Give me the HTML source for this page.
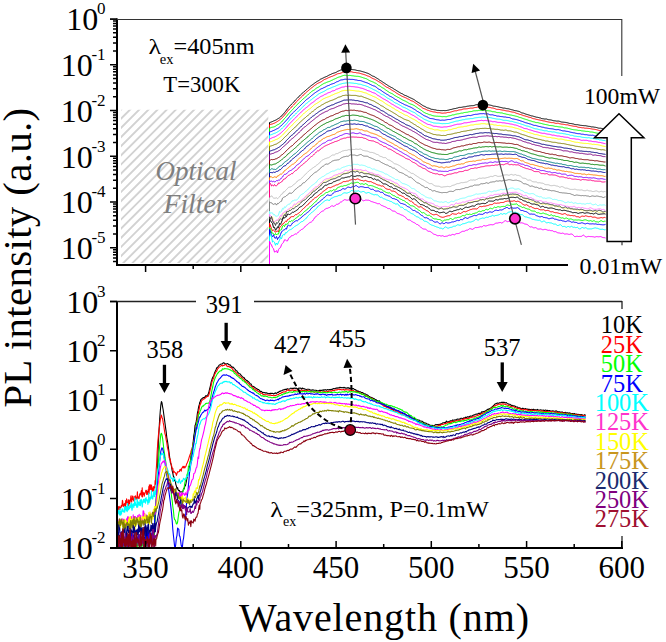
<!DOCTYPE html>
<html><head><meta charset="utf-8"><style>
html,body{margin:0;padding:0;background:#fff;}
svg{display:block;}
</style></head><body>
<svg width="666" height="642" viewBox="0 0 666 642">
<rect width="666" height="642" fill="#fff"/>
<defs>
<clipPath id="clipT"><rect x="118" y="19" width="504" height="245"/></clipPath>
<clipPath id="clipB"><rect x="118" y="301.5" width="504" height="245.5"/></clipPath>
<clipPath id="clipH"><rect x="121" y="109.7" width="147.3" height="153.3"/></clipPath>
</defs>
<path clip-path="url(#clipH)" d="M-66.9,270L103.1,100M-57.7,270L112.3,100M-48.6,270L121.4,100M-39.4,270L130.6,100M-30.3,270L139.7,100M-21.1,270L148.9,100M-11.9,270L158.1,100M-2.8,270L167.2,100M6.4,270L176.4,100M15.5,270L185.5,100M24.7,270L194.7,100M33.9,270L203.9,100M43,270L213,100M52.2,270L222.2,100M61.3,270L231.3,100M70.5,270L240.5,100M79.7,270L249.7,100M88.8,270L258.8,100M98,270L268,100M107.1,270L277.1,100M116.3,270L286.3,100M125.5,270L295.5,100M134.6,270L304.6,100M143.8,270L313.8,100M152.9,270L322.9,100M162.1,270L332.1,100M171.3,270L341.3,100M180.4,270L350.4,100M189.6,270L359.6,100M198.7,270L368.7,100M207.9,270L377.9,100M217.1,270L387.1,100M226.2,270L396.2,100M235.4,270L405.4,100M244.5,270L414.5,100M253.7,270L423.7,100M262.9,270L432.9,100M272,270L442,100M281.2,270L451.2,100M290.3,270L460.3,100" stroke="#d2d2d2" stroke-width="1.9" fill="none"/>
<g clip-path="url(#clipT)" fill="none" stroke-width="1.0" stroke-linejoin="round">
<polyline stroke="#000000" points="269.5,268 269.5,122.5 270.5,122.3 271.5,121.9 272.5,121.5 273.5,121 274.5,120.6 275.5,120.2 276.5,119.7 277.5,119 278.5,118.4 279.5,117.8 280.5,117 281.5,116 282.5,114.9 283.5,113.9 284.5,112.7 285.5,111.4 286.5,110.1 287.5,108.8 288.5,107.5 289.5,106.4 290.5,105.3 291.5,104.2 292.5,103.3 293.5,102.3 294.5,101.1 295.5,99.9 296.5,99 297.5,98.1 298.5,97.1 299.5,95.9 300.5,94.9 301.5,94 302.5,93.1 303.5,92.3 304.5,91.3 305.5,90.5 306.5,89.7 307.5,88.7 308.5,87.9 309.5,87.1 310.5,86.2 311.5,85.4 312.5,84.7 313.5,84 314.5,83.2 315.5,82.5 316.5,81.8 317.5,81.2 318.5,80.7 319.5,80 320.5,79.2 321.5,78.8 322.5,78.3 323.5,77.8 324.5,77.3 325.5,76.9 326.5,76.5 327.5,76 328.5,75.4 329.5,74.9 330.5,74.5 331.5,74 332.5,73.5 333.5,73.2 334.5,72.9 335.5,72.6 336.5,72.1 337.5,71.4 338.5,71 339.5,70.6 340.5,70.1 341.5,69.9 342.5,69.7 343.5,69.6 344.5,69.4 345.5,69.2 346.5,69.1 347.5,69.3 348.5,69.4 349.5,69.3 350.5,69.4 351.5,69.5 352.5,69.6 353.5,69.7 354.5,69.8 355.5,70 356.5,70.3 357.5,70.5 358.5,70.7 359.5,70.8 360.5,71 361.5,71.3 362.5,71.6 363.5,71.9 364.5,72.2 365.5,72.5 366.5,72.9 367.5,73.2 368.5,73.6 369.5,74.2 370.5,74.7 371.5,75.4 372.5,76 373.5,76.3 374.5,76.7 375.5,77.4 376.5,78 377.5,78.6 378.5,79.2 379.5,80 380.5,80.6 381.5,81.2 382.5,81.9 383.5,82.6 384.5,83.2 385.5,83.9 386.5,84.5 387.5,85.2 388.5,85.9 389.5,86.4 390.5,87 391.5,87.5 392.5,88 393.5,88.7 394.5,89.4 395.5,89.9 396.5,90.6 397.5,91.2 398.5,91.8 399.5,92.4 400.5,93 401.5,93.5 402.5,93.9 403.5,94.6 404.5,95.2 405.5,95.5 406.5,95.9 407.5,96.4 408.5,96.9 409.5,97.4 410.5,97.9 411.5,98.3 412.5,98.8 413.5,99.3 414.5,99.9 415.5,100.7 416.5,101.4 417.5,102 418.5,102.6 419.5,103.2 420.5,103.9 421.5,104.6 422.5,105.3 423.5,105.9 424.5,106.3 425.5,106.8 426.5,107.4 427.5,107.9 428.5,108.1 429.5,108.4 430.5,108.9 431.5,109.3 432.5,109.4 433.5,109.6 434.5,109.8 435.5,109.9 436.5,110.2 437.5,110.4 438.5,110.4 439.5,110.5 440.5,110.6 441.5,110.6 442.5,110.6 443.5,110.5 444.5,110.6 445.5,110.6 446.5,110.5 447.5,110.3 448.5,110.1 449.5,109.8 450.5,109.5 451.5,109.4 452.5,109.1 453.5,108.8 454.5,108.6 455.5,108.5 456.5,108.2 457.5,108 458.5,107.6 459.5,107.4 460.5,107.4 461.5,107.3 462.5,107.1 463.5,106.9 464.5,106.8 465.5,106.7 466.5,106.4 467.5,106.2 468.5,106.1 469.5,105.9 470.5,105.8 471.5,105.7 472.5,105.7 473.5,105.6 474.5,105.3 475.5,104.9 476.5,104.7 477.5,104.7 478.5,104.6 479.5,104.5 480.5,104.5 481.5,104.2 482.5,104.1 483.5,104.3 484.5,104.4 485.5,104.5 486.5,104.6 487.5,104.6 488.5,104.8 489.5,105 490.5,105.2 491.5,105.4 492.5,105.8 493.5,106.1 494.5,106.2 495.5,106.3 496.5,106.5 497.5,106.7 498.5,106.9 499.5,107.2 500.5,107.4 501.5,107.6 502.5,107.9 503.5,108.1 504.5,108.1 505.5,108.3 506.5,108.6 507.5,108.7 508.5,108.8 509.5,109.1 510.5,109.4 511.5,109.7 512.5,109.9 513.5,110.2 514.5,110.5 515.5,110.7 516.5,110.8 517.5,111.1 518.5,111.3 519.5,111.6 520.5,112.2 521.5,112.8 522.5,113 523.5,113.2 524.5,113.6 525.5,114 526.5,114.3 527.5,114.6 528.5,114.9 529.5,115.2 530.5,115.6 531.5,115.9 532.5,116 533.5,116.3 534.5,116.6 535.5,116.9 536.5,117.2 537.5,117.3 538.5,117.5 539.5,117.8 540.5,118 541.5,118.5 542.5,118.7 543.5,118.8 544.5,119 545.5,119 546.5,119 547.5,119.4 548.5,119.7 549.5,119.8 550.5,119.9 551.5,120.1 552.5,120.4 553.5,120.7 554.5,120.8 555.5,120.9 556.5,121.1 557.5,121.1 558.5,121.1 559.5,121.3 560.5,121.7 561.5,122 562.5,122.1 563.5,122.2 564.5,122.3 565.5,122.4 566.5,122.6 567.5,122.8 568.5,123.1 569.5,123.4 570.5,123.5 571.5,123.6 572.5,123.8 573.5,124 574.5,124.4 575.5,124.6 576.5,124.7 577.5,124.7 578.5,124.9 579.5,125.1 580.5,125.3 581.5,125.4 582.5,125.5 583.5,125.6 584.5,125.7 585.5,125.7 586.5,125.9 587.5,126.1 588.5,126.3 589.5,126.4 590.5,126.6 591.5,126.9 592.5,126.9 593.5,127 594.5,127.2 595.5,127.3 596.5,127.5 597.5,127.8 598.5,128.1 599.5,128.2 600.5,128.2 601.5,128.4 602.5,128.6 603.5,128.7 604.5,129 605.5,129.4"/>
<polyline stroke="#FF0000" points="269.5,268 269.5,124.6 270.5,124.4 271.5,124.2 272.5,123.9 273.5,123.5 274.5,123.1 275.5,122.6 276.5,122 277.5,121.4 278.5,120.7 279.5,120 280.5,119.2 281.5,118.4 282.5,117.4 283.5,116.2 284.5,115.1 285.5,113.9 286.5,112.7 287.5,111.3 288.5,110.1 289.5,109.1 290.5,108.2 291.5,107.1 292.5,105.9 293.5,105 294.5,104 295.5,102.8 296.5,101.7 297.5,100.8 298.5,99.8 299.5,98.7 300.5,97.7 301.5,96.9 302.5,96 303.5,95 304.5,93.9 305.5,92.9 306.5,92.1 307.5,91.3 308.5,90.5 309.5,89.7 310.5,88.7 311.5,87.9 312.5,87.2 313.5,86.4 314.5,85.6 315.5,84.9 316.5,84.2 317.5,83.5 318.5,83 319.5,82.6 320.5,82.1 321.5,81.6 322.5,80.8 323.5,80.1 324.5,79.5 325.5,79.1 326.5,78.7 327.5,78.2 328.5,77.7 329.5,77.3 330.5,76.9 331.5,76.5 332.5,76.2 333.5,75.7 334.5,75.3 335.5,74.8 336.5,74.3 337.5,73.8 338.5,73.6 339.5,73.5 340.5,73.2 341.5,72.8 342.5,72.3 343.5,72 344.5,71.9 345.5,71.8 346.5,71.7 347.5,71.7 348.5,71.7 349.5,71.8 350.5,71.8 351.5,71.8 352.5,72.1 353.5,72.4 354.5,72.5 355.5,72.5 356.5,72.8 357.5,72.9 358.5,73 359.5,73.2 360.5,73.5 361.5,73.8 362.5,74.1 363.5,74.4 364.5,74.7 365.5,75 366.5,75.5 367.5,75.9 368.5,76.2 369.5,76.6 370.5,77.2 371.5,77.8 372.5,78.4 373.5,78.8 374.5,79.2 375.5,79.7 376.5,80.3 377.5,80.9 378.5,81.6 379.5,82.1 380.5,82.7 381.5,83.4 382.5,84.1 383.5,84.9 384.5,85.7 385.5,86.4 386.5,87.1 387.5,87.5 388.5,88 389.5,88.6 390.5,89.2 391.5,89.9 392.5,90.6 393.5,91.1 394.5,91.6 395.5,92.4 396.5,93.1 397.5,93.7 398.5,94.3 399.5,94.8 400.5,95.4 401.5,96 402.5,96.5 403.5,96.9 404.5,97.3 405.5,97.7 406.5,98.2 407.5,98.8 408.5,99.2 409.5,99.7 410.5,100.4 411.5,100.8 412.5,101.1 413.5,101.6 414.5,102.3 415.5,103 416.5,103.6 417.5,104.3 418.5,105 419.5,105.7 420.5,106.3 421.5,107 422.5,107.9 423.5,108.5 424.5,108.8 425.5,109.2 426.5,109.7 427.5,110.2 428.5,110.4 429.5,110.8 430.5,111.2 431.5,111.4 432.5,111.7 433.5,111.9 434.5,112 435.5,112.2 436.5,112.5 437.5,112.7 438.5,112.7 439.5,112.7 440.5,112.9 441.5,113.1 442.5,113.2 443.5,113.1 444.5,113 445.5,113 446.5,112.8 447.5,112.5 448.5,112.4 449.5,112.4 450.5,112.1 451.5,111.8 452.5,111.5 453.5,111.2 454.5,110.9 455.5,110.8 456.5,110.8 457.5,110.5 458.5,110.1 459.5,109.9 460.5,109.8 461.5,109.7 462.5,109.3 463.5,109 464.5,108.9 465.5,108.9 466.5,108.8 467.5,108.7 468.5,108.5 469.5,108.3 470.5,108.1 471.5,108.1 472.5,108.1 473.5,107.9 474.5,107.6 475.5,107.5 476.5,107.4 477.5,107.1 478.5,107 479.5,107 480.5,106.9 481.5,106.8 482.5,106.7 483.5,106.7 484.5,106.8 485.5,106.8 486.5,106.9 487.5,107.1 488.5,107.3 489.5,107.4 490.5,107.6 491.5,107.9 492.5,108 493.5,108.2 494.5,108.5 495.5,108.9 496.5,109.3 497.5,109.4 498.5,109.4 499.5,109.5 500.5,109.7 501.5,109.9 502.5,110.1 503.5,110.2 504.5,110.4 505.5,110.7 506.5,110.9 507.5,111 508.5,111.1 509.5,111.4 510.5,111.7 511.5,111.9 512.5,112.1 513.5,112.2 514.5,112.4 515.5,112.9 516.5,113.3 517.5,113.6 518.5,113.9 519.5,114.3 520.5,114.5 521.5,114.8 522.5,115.2 523.5,115.6 524.5,115.8 525.5,116.1 526.5,116.4 527.5,116.7 528.5,117.1 529.5,117.3 530.5,117.5 531.5,117.9 532.5,118.4 533.5,118.7 534.5,118.8 535.5,119.1 536.5,119.4 537.5,119.6 538.5,119.8 539.5,120 540.5,120.2 541.5,120.4 542.5,120.7 543.5,120.9 544.5,121 545.5,121.3 546.5,121.6 547.5,121.8 548.5,122 549.5,122.2 550.5,122.4 551.5,122.6 552.5,122.6 553.5,122.7 554.5,123 555.5,123.3 556.5,123.4 557.5,123.2 558.5,123.3 559.5,123.7 560.5,123.9 561.5,124.1 562.5,124.2 563.5,124.3 564.5,124.5 565.5,124.7 566.5,124.8 567.5,124.8 568.5,125.1 569.5,125.4 570.5,125.6 571.5,125.8 572.5,126 573.5,126.2 574.5,126.3 575.5,126.4 576.5,126.6 577.5,127 578.5,127.3 579.5,127.4 580.5,127.5 581.5,127.7 582.5,127.8 583.5,127.8 584.5,128.1 585.5,128.2 586.5,128.2 587.5,128.3 588.5,128.4 589.5,128.5 590.5,128.7 591.5,128.9 592.5,129.1 593.5,129.2 594.5,129.3 595.5,129.5 596.5,129.7 597.5,130 598.5,130.3 599.5,130.5 600.5,130.7 601.5,130.8 602.5,130.8 603.5,131 604.5,131.3 605.5,131.5"/>
<polyline stroke="#00FF00" points="269.5,268 269.5,128.2 270.5,127.8 271.5,127.4 272.5,127.2 273.5,127 274.5,126.7 275.5,126.2 276.5,125.4 277.5,124.8 278.5,124.4 279.5,123.7 280.5,122.9 281.5,122.1 282.5,120.9 283.5,119.7 284.5,118.5 285.5,117.5 286.5,116.3 287.5,115 288.5,113.8 289.5,112.8 290.5,111.7 291.5,110.6 292.5,109.6 293.5,108.5 294.5,107.3 295.5,106.4 296.5,105.4 297.5,104.3 298.5,103.2 299.5,102.3 300.5,101.6 301.5,100.5 302.5,99.5 303.5,98.7 304.5,97.7 305.5,96.9 306.5,96.1 307.5,95.2 308.5,94.2 309.5,93.3 310.5,92.6 311.5,91.6 312.5,90.9 313.5,90.4 314.5,89.8 315.5,88.9 316.5,88.1 317.5,87.6 318.5,87.1 319.5,86.4 320.5,85.6 321.5,84.9 322.5,84.3 323.5,83.7 324.5,83.2 325.5,82.9 326.5,82.4 327.5,82 328.5,81.7 329.5,81.4 330.5,80.9 331.5,80.4 332.5,80 333.5,79.4 334.5,79 335.5,78.6 336.5,78.1 337.5,77.6 338.5,77.2 339.5,76.9 340.5,76.7 341.5,76.2 342.5,75.8 343.5,75.5 344.5,75.3 345.5,75.3 346.5,75.6 347.5,75.7 348.5,75.5 349.5,75.4 350.5,75.5 351.5,75.7 352.5,75.8 353.5,75.9 354.5,76.1 355.5,76.2 356.5,76.3 357.5,76.3 358.5,76.4 359.5,76.6 360.5,76.9 361.5,77.2 362.5,77.5 363.5,77.9 364.5,78.2 365.5,78.5 366.5,78.8 367.5,79.4 368.5,80 369.5,80.6 370.5,81 371.5,81.4 372.5,81.8 373.5,82.2 374.5,82.8 375.5,83.2 376.5,83.7 377.5,84.7 378.5,85.4 379.5,85.8 380.5,86.4 381.5,87.2 382.5,87.8 383.5,88.3 384.5,89 385.5,89.8 386.5,90.5 387.5,91.2 388.5,91.8 389.5,92.5 390.5,93 391.5,93.4 392.5,93.9 393.5,94.6 394.5,95.4 395.5,95.9 396.5,96.5 397.5,97.1 398.5,97.5 399.5,98.1 400.5,98.7 401.5,99.3 402.5,99.9 403.5,100.4 404.5,100.8 405.5,101.2 406.5,101.8 407.5,102.3 408.5,103 409.5,103.6 410.5,104 411.5,104.3 412.5,104.7 413.5,105.2 414.5,105.7 415.5,106.4 416.5,107.1 417.5,107.8 418.5,108.5 419.5,109.2 420.5,109.8 421.5,110.5 422.5,111.3 423.5,112 424.5,112.6 425.5,113.1 426.5,113.5 427.5,113.8 428.5,114.3 429.5,114.7 430.5,114.8 431.5,115.2 432.5,115.6 433.5,115.8 434.5,116 435.5,116.1 436.5,116.2 437.5,116.2 438.5,116.3 439.5,116.3 440.5,116.4 441.5,116.6 442.5,116.7 443.5,116.6 444.5,116.6 445.5,116.7 446.5,116.7 447.5,116.3 448.5,116 449.5,115.8 450.5,115.6 451.5,115.3 452.5,114.9 453.5,114.9 454.5,114.7 455.5,114.3 456.5,114.1 457.5,113.9 458.5,113.8 459.5,113.6 460.5,113.3 461.5,113.1 462.5,113.1 463.5,112.8 464.5,112.5 465.5,112.4 466.5,112.3 467.5,112.2 468.5,111.9 469.5,111.7 470.5,111.6 471.5,111.5 472.5,111.2 473.5,110.9 474.5,110.8 475.5,110.8 476.5,110.7 477.5,110.7 478.5,110.4 479.5,110.3 480.5,110.4 481.5,110.4 482.5,110.4 483.5,110.3 484.5,110.2 485.5,110.3 486.5,110.6 487.5,110.7 488.5,110.8 489.5,110.9 490.5,111 491.5,111.3 492.5,111.7 493.5,111.7 494.5,111.8 495.5,112 496.5,112.4 497.5,112.6 498.5,112.6 499.5,112.7 500.5,112.9 501.5,112.9 502.5,113.1 503.5,113.5 504.5,113.7 505.5,113.9 506.5,114.2 507.5,114.4 508.5,114.6 509.5,114.9 510.5,115 511.5,115.1 512.5,115.4 513.5,115.6 514.5,115.8 515.5,116.1 516.5,116.3 517.5,116.6 518.5,117 519.5,117.4 520.5,117.6 521.5,117.9 522.5,118.3 523.5,118.7 524.5,119 525.5,119.3 526.5,119.6 527.5,119.9 528.5,120.3 529.5,120.7 530.5,120.9 531.5,121.2 532.5,121.6 533.5,121.8 534.5,122 535.5,122.4 536.5,122.6 537.5,122.6 538.5,122.8 539.5,123.1 540.5,123.3 541.5,123.5 542.5,123.8 543.5,124.1 544.5,124.3 545.5,124.5 546.5,124.7 547.5,124.9 548.5,125.2 549.5,125.5 550.5,125.5 551.5,125.6 552.5,125.7 553.5,125.9 554.5,126.2 555.5,126.4 556.5,126.4 557.5,126.6 558.5,126.8 559.5,126.9 560.5,127 561.5,127.1 562.5,127.2 563.5,127.6 564.5,127.9 565.5,127.9 566.5,128 567.5,128.2 568.5,128.5 569.5,128.7 570.5,129 571.5,129.3 572.5,129.5 573.5,129.7 574.5,129.8 575.5,129.9 576.5,130 577.5,130.2 578.5,130.4 579.5,130.4 580.5,130.5 581.5,130.8 582.5,130.9 583.5,131 584.5,131.1 585.5,131.3 586.5,131.4 587.5,131.4 588.5,131.5 589.5,131.8 590.5,132 591.5,132 592.5,132.1 593.5,132.3 594.5,132.6 595.5,132.8 596.5,133 597.5,133.2 598.5,133.4 599.5,133.5 600.5,133.6 601.5,133.6 602.5,133.7 603.5,134 604.5,134.3 605.5,134.6"/>
<polyline stroke="#0000FF" points="269.5,268 269.5,132 270.5,131.7 271.5,131.4 272.5,130.9 273.5,130.5 274.5,130.1 275.5,129.6 276.5,129 277.5,128.6 278.5,128 279.5,127.1 280.5,126.2 281.5,125.5 282.5,124.4 283.5,123.3 284.5,122.3 285.5,121.2 286.5,120.1 287.5,119.1 288.5,117.8 289.5,116.5 290.5,115.3 291.5,114.2 292.5,113.2 293.5,112.3 294.5,111.3 295.5,110.3 296.5,109.5 297.5,108.5 298.5,107.4 299.5,106.4 300.5,105.4 301.5,104.5 302.5,103.5 303.5,102.6 304.5,101.5 305.5,100.5 306.5,99.6 307.5,98.9 308.5,98.2 309.5,97.4 310.5,96.5 311.5,95.6 312.5,94.8 313.5,94 314.5,93.2 315.5,92.5 316.5,91.8 317.5,91.2 318.5,90.6 319.5,89.9 320.5,89.2 321.5,88.7 322.5,88.4 323.5,87.8 324.5,87.4 325.5,86.9 326.5,86.3 327.5,85.8 328.5,85.5 329.5,85.1 330.5,84.5 331.5,84.1 332.5,83.8 333.5,83.5 334.5,83.1 335.5,82.5 336.5,81.9 337.5,81.6 338.5,81.2 339.5,80.6 340.5,80.1 341.5,79.9 342.5,79.8 343.5,79.6 344.5,79.3 345.5,79.2 346.5,79.3 347.5,79.3 348.5,79.3 349.5,79.3 350.5,79.4 351.5,79.4 352.5,79.4 353.5,79.5 354.5,79.7 355.5,79.9 356.5,80 357.5,80.3 358.5,80.5 359.5,80.5 360.5,80.6 361.5,80.9 362.5,81.3 363.5,81.7 364.5,82 365.5,82.4 366.5,82.7 367.5,83 368.5,83.5 369.5,84 370.5,84.5 371.5,85 372.5,85.5 373.5,85.9 374.5,86.1 375.5,86.7 376.5,87.4 377.5,88.3 378.5,89 379.5,89.5 380.5,90 381.5,90.7 382.5,91.5 383.5,92.2 384.5,92.8 385.5,93.4 386.5,94.1 387.5,94.6 388.5,95.2 389.5,96 390.5,96.5 391.5,96.9 392.5,97.5 393.5,98.2 394.5,98.9 395.5,99.5 396.5,100 397.5,100.6 398.5,101.3 399.5,101.9 400.5,102.5 401.5,103 402.5,103.5 403.5,104 404.5,104.6 405.5,105 406.5,105.3 407.5,105.8 408.5,106.3 409.5,106.7 410.5,107.1 411.5,107.6 412.5,108.2 413.5,108.8 414.5,109.4 415.5,110 416.5,110.8 417.5,111.5 418.5,112 419.5,112.6 420.5,113.2 421.5,113.9 422.5,114.6 423.5,115.3 424.5,115.8 425.5,116.2 426.5,116.7 427.5,117.1 428.5,117.7 429.5,118.2 430.5,118.5 431.5,118.6 432.5,118.7 433.5,118.9 434.5,119.2 435.5,119.5 436.5,119.7 437.5,119.8 438.5,119.9 439.5,120.1 440.5,120.3 441.5,120.2 442.5,120.1 443.5,120.2 444.5,120.2 445.5,120 446.5,119.8 447.5,119.6 448.5,119.5 449.5,119.5 450.5,119.4 451.5,119 452.5,118.7 453.5,118.4 454.5,118 455.5,117.8 456.5,117.6 457.5,117.5 458.5,117.3 459.5,117 460.5,116.9 461.5,116.7 462.5,116.5 463.5,116.4 464.5,116.3 465.5,116.1 466.5,115.9 467.5,115.6 468.5,115.4 469.5,115.5 470.5,115.6 471.5,115.3 472.5,115 473.5,114.7 474.5,114.5 475.5,114.3 476.5,114.3 477.5,114.2 478.5,114 479.5,113.8 480.5,113.7 481.5,113.7 482.5,113.7 483.5,113.6 484.5,113.8 485.5,113.9 486.5,113.9 487.5,113.8 488.5,114.1 489.5,114.6 490.5,114.8 491.5,114.8 492.5,114.8 493.5,115.1 494.5,115.4 495.5,115.5 496.5,115.9 497.5,116.1 498.5,116.1 499.5,116.3 500.5,116.5 501.5,116.6 502.5,116.7 503.5,116.9 504.5,117 505.5,117 506.5,117.3 507.5,117.4 508.5,117.5 509.5,117.6 510.5,118 511.5,118.5 512.5,118.9 513.5,119 514.5,119.2 515.5,119.4 516.5,119.6 517.5,119.9 518.5,120.2 519.5,120.5 520.5,120.9 521.5,121.2 522.5,121.5 523.5,121.9 524.5,122.3 525.5,122.7 526.5,122.9 527.5,123.2 528.5,123.5 529.5,123.8 530.5,124 531.5,124.4 532.5,124.8 533.5,125.2 534.5,125.4 535.5,125.4 536.5,125.7 537.5,126 538.5,126.3 539.5,126.5 540.5,126.7 541.5,127 542.5,127.2 543.5,127.3 544.5,127.7 545.5,127.9 546.5,128 547.5,128.2 548.5,128.4 549.5,128.6 550.5,128.7 551.5,128.8 552.5,128.9 553.5,129.1 554.5,129.4 555.5,129.6 556.5,129.7 557.5,129.6 558.5,129.6 559.5,129.9 560.5,130.1 561.5,130.5 562.5,130.8 563.5,130.9 564.5,130.9 565.5,131.1 566.5,131.3 567.5,131.4 568.5,131.6 569.5,131.9 570.5,132.2 571.5,132.4 572.5,132.6 573.5,132.8 574.5,132.9 575.5,133.2 576.5,133.4 577.5,133.6 578.5,133.7 579.5,133.7 580.5,133.9 581.5,134.2 582.5,134.2 583.5,134.3 584.5,134.6 585.5,134.7 586.5,134.7 587.5,134.9 588.5,135.1 589.5,135.2 590.5,135.2 591.5,135.3 592.5,135.2 593.5,135.4 594.5,135.8 595.5,136 596.5,136.1 597.5,136.1 598.5,136.2 599.5,136.5 600.5,136.7 601.5,137.1 602.5,137.5 603.5,137.8 604.5,137.8 605.5,137.8"/>
<polyline stroke="#00FFFF" points="269.5,268 269.5,135.3 270.5,134.9 271.5,134.6 272.5,134.2 273.5,133.7 274.5,133.3 275.5,133 276.5,132.5 277.5,131.9 278.5,131.3 279.5,130.6 280.5,129.8 281.5,128.9 282.5,127.9 283.5,127 284.5,125.9 285.5,124.9 286.5,123.8 287.5,122.6 288.5,121.3 289.5,120.1 290.5,118.9 291.5,117.9 292.5,117 293.5,116.1 294.5,115 295.5,114.1 296.5,113 297.5,112.1 298.5,111.1 299.5,110.1 300.5,109 301.5,108.2 302.5,107.3 303.5,106.2 304.5,105.1 305.5,104.2 306.5,103.4 307.5,102.7 308.5,101.9 309.5,100.9 310.5,100.2 311.5,99.6 312.5,98.7 313.5,97.9 314.5,97.3 315.5,96.5 316.5,95.7 317.5,94.9 318.5,94.1 319.5,93.5 320.5,93 321.5,92.5 322.5,92.1 323.5,91.6 324.5,91.1 325.5,90.5 326.5,89.8 327.5,89.2 328.5,88.9 329.5,88.5 330.5,88.1 331.5,87.7 332.5,87.2 333.5,86.8 334.5,86.5 335.5,86.1 336.5,85.6 337.5,85.2 338.5,84.8 339.5,84.3 340.5,84.1 341.5,83.8 342.5,83.5 343.5,83.3 344.5,83.2 345.5,83 346.5,82.9 347.5,83 348.5,82.9 349.5,82.8 350.5,82.9 351.5,83 352.5,83.1 353.5,83.2 354.5,83.4 355.5,83.4 356.5,83.5 357.5,83.8 358.5,84.1 359.5,84.2 360.5,84.3 361.5,84.6 362.5,85 363.5,85.3 364.5,85.5 365.5,85.8 366.5,86.2 367.5,86.5 368.5,87 369.5,87.6 370.5,88 371.5,88.4 372.5,89 373.5,89.6 374.5,90 375.5,90.4 376.5,91 377.5,91.7 378.5,92.2 379.5,92.8 380.5,93.7 381.5,94.3 382.5,94.7 383.5,95.1 384.5,95.8 385.5,96.6 386.5,97.4 387.5,98.1 388.5,98.6 389.5,99.1 390.5,99.8 391.5,100.3 392.5,100.9 393.5,101.7 394.5,102.5 395.5,103 396.5,103.3 397.5,103.8 398.5,104.4 399.5,104.9 400.5,105.5 401.5,106.1 402.5,106.8 403.5,107.2 404.5,107.6 405.5,108 406.5,108.5 407.5,109.1 408.5,109.7 409.5,110.3 410.5,110.8 411.5,111.3 412.5,111.8 413.5,112.2 414.5,112.6 415.5,113.3 416.5,114.2 417.5,115 418.5,115.6 419.5,116.2 420.5,116.8 421.5,117.4 422.5,118.1 423.5,118.8 424.5,119.4 425.5,119.8 426.5,120.2 427.5,120.7 428.5,121.1 429.5,121.4 430.5,121.9 431.5,122.2 432.5,122.5 433.5,122.9 434.5,123 435.5,123.1 436.5,123.2 437.5,123.2 438.5,123.2 439.5,123.3 440.5,123.5 441.5,123.6 442.5,123.7 443.5,123.6 444.5,123.6 445.5,123.6 446.5,123.5 447.5,123.5 448.5,123.4 449.5,123.1 450.5,122.7 451.5,122.4 452.5,122.2 453.5,121.9 454.5,121.6 455.5,121.3 456.5,121.1 457.5,121 458.5,120.8 459.5,120.5 460.5,120.3 461.5,120.1 462.5,119.8 463.5,119.7 464.5,119.6 465.5,119.2 466.5,119.1 467.5,119 468.5,118.9 469.5,118.8 470.5,118.6 471.5,118.6 472.5,118.6 473.5,118.3 474.5,118 475.5,117.8 476.5,117.7 477.5,117.6 478.5,117.4 479.5,117.3 480.5,117.3 481.5,117.1 482.5,117 483.5,117 484.5,117.1 485.5,117.3 486.5,117.3 487.5,117.2 488.5,117.4 489.5,117.5 490.5,117.7 491.5,117.9 492.5,118.2 493.5,118.4 494.5,118.6 495.5,118.8 496.5,119 497.5,119.1 498.5,119.2 499.5,119.2 500.5,119.4 501.5,119.7 502.5,120 503.5,120.3 504.5,120.3 505.5,120.3 506.5,120.4 507.5,120.6 508.5,120.8 509.5,121.1 510.5,121.3 511.5,121.3 512.5,121.5 513.5,121.9 514.5,122.2 515.5,122.4 516.5,122.7 517.5,123 518.5,123.2 519.5,123.5 520.5,123.8 521.5,124.2 522.5,124.5 523.5,124.8 524.5,125.2 525.5,125.6 526.5,125.9 527.5,126.1 528.5,126.3 529.5,126.7 530.5,127 531.5,127.4 532.5,127.8 533.5,128.2 534.5,128.6 535.5,128.8 536.5,128.9 537.5,129.1 538.5,129.4 539.5,129.7 540.5,129.9 541.5,130 542.5,130.3 543.5,130.6 544.5,130.8 545.5,130.8 546.5,130.8 547.5,131.1 548.5,131.5 549.5,131.6 550.5,131.6 551.5,131.8 552.5,132 553.5,131.9 554.5,132 555.5,132.3 556.5,132.7 557.5,132.9 558.5,133 559.5,133.2 560.5,133.3 561.5,133.3 562.5,133.5 563.5,133.7 564.5,133.8 565.5,134 566.5,134.3 567.5,134.4 568.5,134.6 569.5,134.9 570.5,135.3 571.5,135.3 572.5,135.4 573.5,135.8 574.5,136.1 575.5,136.2 576.5,136.3 577.5,136.5 578.5,136.6 579.5,136.6 580.5,136.8 581.5,137.1 582.5,137.3 583.5,137.4 584.5,137.5 585.5,137.6 586.5,137.7 587.5,137.8 588.5,137.7 589.5,137.8 590.5,138.1 591.5,138.2 592.5,138.3 593.5,138.6 594.5,138.7 595.5,138.9 596.5,139.1 597.5,139.1 598.5,139.5 599.5,139.9 600.5,139.9 601.5,140 602.5,140.3 603.5,140.5 604.5,140.5 605.5,140.7"/>
<polyline stroke="#FF00FF" points="269.5,268 269.5,138.8 270.5,138.6 271.5,138.1 272.5,137.6 273.5,137.3 274.5,137 275.5,136.5 276.5,135.9 277.5,135.3 278.5,134.7 279.5,134 280.5,133.3 281.5,132.4 282.5,131.5 283.5,130.5 284.5,129.5 285.5,128.4 286.5,127.2 287.5,126 288.5,124.9 289.5,123.8 290.5,122.8 291.5,121.8 292.5,120.8 293.5,119.7 294.5,118.7 295.5,117.8 296.5,116.8 297.5,115.6 298.5,114.6 299.5,113.7 300.5,112.9 301.5,111.9 302.5,110.9 303.5,109.9 304.5,108.9 305.5,108.2 306.5,107.5 307.5,106.7 308.5,105.8 309.5,104.9 310.5,104 311.5,103.2 312.5,102.6 313.5,101.9 314.5,101.1 315.5,100.2 316.5,99.4 317.5,98.7 318.5,98.2 319.5,97.4 320.5,96.7 321.5,96.2 322.5,95.8 323.5,95.3 324.5,94.6 325.5,94.2 326.5,93.8 327.5,93.1 328.5,92.7 329.5,92.4 330.5,92.1 331.5,91.4 332.5,90.9 333.5,90.8 334.5,90.5 335.5,89.8 336.5,89.2 337.5,89 338.5,88.6 339.5,88.2 340.5,87.8 341.5,87.3 342.5,87.1 343.5,87 344.5,86.8 345.5,86.3 346.5,86.4 347.5,86.6 348.5,86.4 349.5,86.3 350.5,86.4 351.5,86.6 352.5,86.6 353.5,86.7 354.5,86.8 355.5,87 356.5,87.1 357.5,87.2 358.5,87.4 359.5,87.7 360.5,88 361.5,88.2 362.5,88.4 363.5,88.8 364.5,89.2 365.5,89.6 366.5,90 367.5,90.5 368.5,90.8 369.5,91.1 370.5,91.5 371.5,92 372.5,92.5 373.5,92.8 374.5,93.1 375.5,93.6 376.5,94.4 377.5,95.2 378.5,95.7 379.5,96.3 380.5,96.9 381.5,97.6 382.5,98.3 383.5,98.9 384.5,99.4 385.5,99.9 386.5,100.5 387.5,101.1 388.5,101.7 389.5,102.5 390.5,103.2 391.5,103.9 392.5,104.4 393.5,104.9 394.5,105.6 395.5,106.2 396.5,106.8 397.5,107.3 398.5,107.8 399.5,108.4 400.5,109 401.5,109.5 402.5,110.2 403.5,110.8 404.5,111.1 405.5,111.4 406.5,111.8 407.5,112.4 408.5,112.9 409.5,113.3 410.5,114 411.5,114.6 412.5,115.1 413.5,115.5 414.5,116.2 415.5,116.8 416.5,117.4 417.5,118.1 418.5,119 419.5,119.6 420.5,120.2 421.5,120.8 422.5,121.3 423.5,122 424.5,122.6 425.5,123.1 426.5,123.7 427.5,124.2 428.5,124.5 429.5,124.6 430.5,124.9 431.5,125.3 432.5,125.8 433.5,126.2 434.5,126.3 435.5,126.3 436.5,126.4 437.5,126.7 438.5,126.8 439.5,126.9 440.5,127.1 441.5,127.2 442.5,127.2 443.5,127 444.5,126.9 445.5,126.9 446.5,126.9 447.5,126.7 448.5,126.5 449.5,126.3 450.5,126.1 451.5,125.9 452.5,125.5 453.5,125.2 454.5,124.9 455.5,124.7 456.5,124.4 457.5,124.2 458.5,124.2 459.5,124.1 460.5,124 461.5,123.8 462.5,123.5 463.5,123.1 464.5,122.8 465.5,122.8 466.5,122.8 467.5,122.6 468.5,122.4 469.5,122.3 470.5,122 471.5,121.8 472.5,121.7 473.5,121.6 474.5,121.5 475.5,121.3 476.5,121.1 477.5,120.8 478.5,120.7 479.5,120.6 480.5,120.5 481.5,120.3 482.5,120.5 483.5,120.7 484.5,120.5 485.5,120.4 486.5,120.6 487.5,120.8 488.5,120.9 489.5,121 490.5,121.1 491.5,121.3 492.5,121.7 493.5,121.7 494.5,121.6 495.5,121.8 496.5,122 497.5,122.3 498.5,122.4 499.5,122.4 500.5,122.4 501.5,122.6 502.5,122.8 503.5,122.8 504.5,122.9 505.5,123.1 506.5,123.3 507.5,123.4 508.5,123.6 509.5,123.8 510.5,124 511.5,124.1 512.5,124.3 513.5,124.6 514.5,124.9 515.5,125 516.5,125.3 517.5,125.6 518.5,126.1 519.5,126.5 520.5,126.8 521.5,127.1 522.5,127.6 523.5,128.1 524.5,128.5 525.5,128.6 526.5,128.7 527.5,129 528.5,129.5 529.5,129.8 530.5,130 531.5,130.3 532.5,130.6 533.5,131 534.5,131.3 535.5,131.5 536.5,131.8 537.5,132 538.5,132.3 539.5,132.6 540.5,132.9 541.5,133.1 542.5,133.3 543.5,133.3 544.5,133.3 545.5,133.7 546.5,133.9 547.5,134.1 548.5,134.2 549.5,134.3 550.5,134.6 551.5,134.9 552.5,135.2 553.5,135.1 554.5,135.3 555.5,135.6 556.5,135.8 557.5,136 558.5,136 559.5,136.1 560.5,136.4 561.5,136.6 562.5,136.6 563.5,136.9 564.5,137.1 565.5,137.2 566.5,137.3 567.5,137.3 568.5,137.7 569.5,138.1 570.5,138.5 571.5,138.6 572.5,138.7 573.5,138.7 574.5,138.8 575.5,139 576.5,139.2 577.5,139.2 578.5,139.3 579.5,139.6 580.5,140 581.5,140.3 582.5,140.3 583.5,140.2 584.5,140.3 585.5,140.3 586.5,140.3 587.5,140.5 588.5,140.9 589.5,141 590.5,141 591.5,141.2 592.5,141.5 593.5,141.6 594.5,141.7 595.5,141.7 596.5,141.9 597.5,142.1 598.5,142.4 599.5,142.4 600.5,142.5 601.5,142.8 602.5,143 603.5,143.3 604.5,143.5 605.5,143.7"/>
<polyline stroke="#FFFF00" points="269.5,268 269.5,141.8 270.5,141.8 271.5,141.5 272.5,141.1 273.5,140.7 274.5,140.3 275.5,139.7 276.5,139.4 277.5,139 278.5,138.4 279.5,137.7 280.5,136.8 281.5,136 282.5,135.1 283.5,134.1 284.5,132.9 285.5,131.9 286.5,130.9 287.5,129.8 288.5,128.6 289.5,127.4 290.5,126.7 291.5,125.9 292.5,124.8 293.5,123.6 294.5,122.6 295.5,121.6 296.5,120.7 297.5,119.7 298.5,118.8 299.5,117.9 300.5,116.9 301.5,115.7 302.5,114.8 303.5,113.9 304.5,112.9 305.5,112.1 306.5,111.4 307.5,110.5 308.5,109.6 309.5,109 310.5,108.3 311.5,107.4 312.5,106.5 313.5,105.6 314.5,104.7 315.5,104.1 316.5,103.5 317.5,102.9 318.5,102.3 319.5,101.6 320.5,100.9 321.5,100.2 322.5,99.4 323.5,98.8 324.5,98.4 325.5,97.9 326.5,97.5 327.5,97.1 328.5,96.8 329.5,96.4 330.5,95.9 331.5,95.3 332.5,95 333.5,94.5 334.5,94 335.5,93.6 336.5,93.3 337.5,92.9 338.5,92.6 339.5,92.1 340.5,91.5 341.5,91.1 342.5,90.8 343.5,90.6 344.5,90.4 345.5,90.4 346.5,90.4 347.5,90.3 348.5,90.2 349.5,90.1 350.5,90.3 351.5,90.4 352.5,90.5 353.5,90.6 354.5,90.7 355.5,90.9 356.5,91 357.5,91.1 358.5,91.1 359.5,91.3 360.5,91.5 361.5,91.7 362.5,92 363.5,92.4 364.5,92.7 365.5,92.9 366.5,93.2 367.5,93.8 368.5,94.3 369.5,94.7 370.5,95.1 371.5,95.5 372.5,96.1 373.5,96.5 374.5,96.9 375.5,97.3 376.5,97.8 377.5,98.6 378.5,99.2 379.5,99.8 380.5,100.4 381.5,100.8 382.5,101.3 383.5,102.1 384.5,102.8 385.5,103.6 386.5,104.2 387.5,104.8 388.5,105.4 389.5,105.9 390.5,106.3 391.5,107.1 392.5,107.8 393.5,108.2 394.5,108.9 395.5,109.7 396.5,110.2 397.5,110.6 398.5,111.3 399.5,112 400.5,112.5 401.5,112.9 402.5,113.5 403.5,114.1 404.5,114.7 405.5,115.2 406.5,115.4 407.5,115.8 408.5,116.5 409.5,117.2 410.5,117.7 411.5,118.2 412.5,118.8 413.5,119.2 414.5,119.7 415.5,120.3 416.5,120.9 417.5,121.7 418.5,122.4 419.5,122.9 420.5,123.4 421.5,124.1 422.5,124.8 423.5,125.5 424.5,126 425.5,126.5 426.5,127 427.5,127.5 428.5,127.9 429.5,128.3 430.5,128.7 431.5,128.8 432.5,129.1 433.5,129.5 434.5,129.9 435.5,129.9 436.5,129.8 437.5,129.8 438.5,130 439.5,130.3 440.5,130.7 441.5,130.8 442.5,130.7 443.5,130.8 444.5,130.8 445.5,130.6 446.5,130.5 447.5,130.2 448.5,129.8 449.5,129.8 450.5,129.7 451.5,129.4 452.5,129 453.5,128.7 454.5,128.5 455.5,128.4 456.5,128.1 457.5,127.6 458.5,127.3 459.5,127.2 460.5,127 461.5,126.9 462.5,126.9 463.5,126.7 464.5,126.4 465.5,126.3 466.5,126.2 467.5,125.9 468.5,125.7 469.5,125.4 470.5,125.1 471.5,125 472.5,125 473.5,124.9 474.5,124.6 475.5,124.4 476.5,124.3 477.5,124.3 478.5,124.2 479.5,124.1 480.5,123.9 481.5,123.7 482.5,123.7 483.5,123.7 484.5,123.7 485.5,123.9 486.5,124.1 487.5,124 488.5,124.1 489.5,124.3 490.5,124.3 491.5,124.3 492.5,124.4 493.5,124.8 494.5,125 495.5,125 496.5,125.2 497.5,125.5 498.5,125.5 499.5,125.4 500.5,125.6 501.5,125.8 502.5,126 503.5,126 504.5,126 505.5,126.1 506.5,126.2 507.5,126.4 508.5,126.6 509.5,126.8 510.5,126.9 511.5,127 512.5,127.2 513.5,127.5 514.5,127.8 515.5,128.1 516.5,128.3 517.5,128.6 518.5,128.9 519.5,129.2 520.5,129.6 521.5,130 522.5,130.5 523.5,130.8 524.5,131.1 525.5,131.5 526.5,131.8 527.5,132.1 528.5,132.5 529.5,132.7 530.5,133 531.5,133.3 532.5,133.6 533.5,134 534.5,134.4 535.5,134.6 536.5,134.6 537.5,134.8 538.5,135.1 539.5,135.5 540.5,135.7 541.5,135.9 542.5,136.1 543.5,136.3 544.5,136.4 545.5,136.7 546.5,137.1 547.5,137.3 548.5,137.4 549.5,137.4 550.5,137.5 551.5,137.8 552.5,138 553.5,138.1 554.5,138.2 555.5,138.4 556.5,138.6 557.5,138.9 558.5,139.1 559.5,139.1 560.5,139 561.5,139.1 562.5,139.3 563.5,139.6 564.5,139.9 565.5,140.1 566.5,140.2 567.5,140.4 568.5,140.5 569.5,140.6 570.5,140.8 571.5,141.2 572.5,141.5 573.5,141.7 574.5,142 575.5,142.2 576.5,142.3 577.5,142.3 578.5,142.5 579.5,142.7 580.5,142.9 581.5,143 582.5,143.2 583.5,143.3 584.5,143.4 585.5,143.4 586.5,143.5 587.5,143.5 588.5,143.6 589.5,143.8 590.5,143.9 591.5,144.1 592.5,144.4 593.5,144.3 594.5,144.4 595.5,144.5 596.5,144.6 597.5,144.7 598.5,144.9 599.5,145.1 600.5,145.4 601.5,145.7 602.5,146 603.5,146.2 604.5,146.4 605.5,146.5"/>
<polyline stroke="#808000" points="269.5,268 269.5,146.3 270.5,146.1 271.5,145.8 272.5,145.5 273.5,145.1 274.5,144.6 275.5,144.3 276.5,144 277.5,143.3 278.5,142.7 279.5,142 280.5,141.4 281.5,140.5 282.5,139.6 283.5,138.5 284.5,137.4 285.5,136.5 286.5,135.7 287.5,134.7 288.5,133.4 289.5,132.3 290.5,131.5 291.5,130.5 292.5,129.5 293.5,128.7 294.5,127.9 295.5,126.9 296.5,125.9 297.5,124.8 298.5,123.8 299.5,122.8 300.5,121.7 301.5,120.9 302.5,120 303.5,119.1 304.5,118.3 305.5,117.5 306.5,116.5 307.5,115.7 308.5,115 309.5,114.1 310.5,113.1 311.5,112.2 312.5,111.6 313.5,111 314.5,110.1 315.5,109.1 316.5,108.3 317.5,107.6 318.5,107 319.5,106.5 320.5,105.9 321.5,105.1 322.5,104.6 323.5,104.1 324.5,103.4 325.5,102.9 326.5,102.4 327.5,102.1 328.5,101.6 329.5,101.1 330.5,100.7 331.5,100.4 332.5,100.1 333.5,99.7 334.5,99.2 335.5,98.8 336.5,98.3 337.5,97.7 338.5,97.2 339.5,97 340.5,96.7 341.5,96.3 342.5,95.7 343.5,95.5 344.5,95.4 345.5,95.2 346.5,95.2 347.5,95.5 348.5,95.3 349.5,95.2 350.5,95.3 351.5,95.4 352.5,95.4 353.5,95.4 354.5,95.4 355.5,95.4 356.5,95.6 357.5,95.9 358.5,96.1 359.5,96.3 360.5,96.2 361.5,96.2 362.5,96.7 363.5,97.1 364.5,97.5 365.5,97.8 366.5,98.2 367.5,98.6 368.5,99 369.5,99.4 370.5,99.8 371.5,100.2 372.5,100.6 373.5,100.9 374.5,101.4 375.5,102.1 376.5,102.7 377.5,103.3 378.5,103.8 379.5,104.5 380.5,105.3 381.5,105.8 382.5,106.2 383.5,106.8 384.5,107.5 385.5,108.3 386.5,108.9 387.5,109.4 388.5,109.9 389.5,110.5 390.5,111 391.5,111.6 392.5,112.2 393.5,112.8 394.5,113.4 395.5,114 396.5,114.6 397.5,115.4 398.5,116.1 399.5,116.6 400.5,117 401.5,117.6 402.5,118.2 403.5,118.8 404.5,119.3 405.5,119.6 406.5,120 407.5,120.3 408.5,120.6 409.5,121.2 410.5,122 411.5,122.6 412.5,123.2 413.5,123.9 414.5,124.5 415.5,125 416.5,125.8 417.5,126.5 418.5,126.9 419.5,127.5 420.5,128.3 421.5,128.9 422.5,129.4 423.5,130 424.5,130.7 425.5,131.3 426.5,131.9 427.5,132.3 428.5,132.5 429.5,132.8 430.5,133.2 431.5,133.6 432.5,134 433.5,134.4 434.5,134.5 435.5,134.6 436.5,134.9 437.5,135 438.5,135 439.5,135.1 440.5,135.3 441.5,135.5 442.5,135.5 443.5,135.4 444.5,135.5 445.5,135.5 446.5,135.1 447.5,134.6 448.5,134.5 449.5,134.4 450.5,134.3 451.5,134.1 452.5,133.9 453.5,133.6 454.5,133.3 455.5,133.1 456.5,133 457.5,132.6 458.5,132.5 459.5,132.4 460.5,132 461.5,131.6 462.5,131.5 463.5,131.3 464.5,131.2 465.5,131.1 466.5,130.9 467.5,130.6 468.5,130.5 469.5,130.3 470.5,130.1 471.5,130 472.5,129.8 473.5,129.5 474.5,129.3 475.5,129.2 476.5,128.9 477.5,128.8 478.5,128.9 479.5,128.7 480.5,128.5 481.5,128.5 482.5,128.4 483.5,128.4 484.5,128.3 485.5,128.3 486.5,128.4 487.5,128.5 488.5,128.5 489.5,128.4 490.5,128.6 491.5,128.9 492.5,129 493.5,129 494.5,129.2 495.5,129.3 496.5,129.3 497.5,129.3 498.5,129.5 499.5,129.7 500.5,130 501.5,130.1 502.5,130.1 503.5,130.3 504.5,130.2 505.5,130 506.5,130.2 507.5,130.7 508.5,130.8 509.5,130.8 510.5,130.9 511.5,131.2 512.5,131.5 513.5,131.8 514.5,132.1 515.5,132.1 516.5,132.2 517.5,132.6 518.5,133 519.5,133.4 520.5,133.9 521.5,134.2 522.5,134.6 523.5,134.8 524.5,135.1 525.5,135.4 526.5,135.8 527.5,136.2 528.5,136.6 529.5,136.8 530.5,137.1 531.5,137.4 532.5,137.7 533.5,138 534.5,138.3 535.5,138.5 536.5,138.7 537.5,139 538.5,139.3 539.5,139.4 540.5,139.6 541.5,139.9 542.5,140.2 543.5,140.3 544.5,140.6 545.5,141 546.5,141 547.5,141 548.5,141.3 549.5,141.6 550.5,141.7 551.5,142 552.5,142.2 553.5,142.3 554.5,142.3 555.5,142.4 556.5,142.6 557.5,142.9 558.5,143.1 559.5,143.2 560.5,143.3 561.5,143.5 562.5,143.6 563.5,143.6 564.5,143.8 565.5,144 566.5,144.3 567.5,144.5 568.5,144.7 569.5,144.9 570.5,145.2 571.5,145.3 572.5,145.4 573.5,145.6 574.5,145.9 575.5,146.2 576.5,146.3 577.5,146.4 578.5,146.6 579.5,146.7 580.5,146.9 581.5,147.2 582.5,147.2 583.5,147.4 584.5,147.4 585.5,147.4 586.5,147.7 587.5,147.8 588.5,147.8 589.5,147.8 590.5,148 591.5,148.2 592.5,148.3 593.5,148.6 594.5,148.7 595.5,148.7 596.5,148.9 597.5,149.2 598.5,149.4 599.5,149.5 600.5,149.7 601.5,149.8 602.5,149.7 603.5,149.8 604.5,150 605.5,150.3"/>
<polyline stroke="#000080" points="269.5,268 269.5,151.3 270.5,150.9 271.5,150.6 272.5,150.2 273.5,149.9 274.5,149.7 275.5,149.1 276.5,148.7 277.5,148.1 278.5,147.5 279.5,146.9 280.5,146.1 281.5,145.3 282.5,144.5 283.5,143.7 284.5,142.9 285.5,141.7 286.5,140.4 287.5,139.4 288.5,138.5 289.5,137.4 290.5,136.2 291.5,135.4 292.5,134.8 293.5,134 294.5,132.9 295.5,131.9 296.5,130.9 297.5,129.9 298.5,129 299.5,128.1 300.5,127.2 301.5,126.1 302.5,125.2 303.5,124.4 304.5,123.5 305.5,122.6 306.5,121.5 307.5,120.6 308.5,119.8 309.5,119.1 310.5,118.2 311.5,117.2 312.5,116.3 313.5,115.8 314.5,115.1 315.5,114.2 316.5,113.5 317.5,112.8 318.5,112 319.5,111.3 320.5,110.7 321.5,110.2 322.5,109.7 323.5,109.1 324.5,108.6 325.5,108 326.5,107.3 327.5,106.8 328.5,106.4 329.5,106.1 330.5,105.6 331.5,105.1 332.5,104.9 333.5,104.6 334.5,104 335.5,103.4 336.5,103.1 337.5,102.7 338.5,102.3 339.5,102 340.5,101.6 341.5,101.2 342.5,100.8 343.5,100.3 344.5,100.1 345.5,100.1 346.5,100 347.5,100 348.5,100 349.5,99.9 350.5,99.9 351.5,99.9 352.5,100.1 353.5,100.1 354.5,100.3 355.5,100.6 356.5,100.6 357.5,100.6 358.5,100.9 359.5,101.2 360.5,101.4 361.5,101.6 362.5,101.7 363.5,102 364.5,102.4 365.5,102.7 366.5,102.8 367.5,102.9 368.5,103.6 369.5,104.2 370.5,104.4 371.5,104.8 372.5,105.4 373.5,106 374.5,106.4 375.5,106.7 376.5,107.3 377.5,107.9 378.5,108.4 379.5,109.1 380.5,110 381.5,110.6 382.5,110.9 383.5,111.3 384.5,112 385.5,112.8 386.5,113.3 387.5,114.1 388.5,114.9 389.5,115.2 390.5,115.6 391.5,116.2 392.5,116.8 393.5,117.4 394.5,118 395.5,118.7 396.5,119.2 397.5,119.6 398.5,120.3 399.5,120.9 400.5,121.5 401.5,122.1 402.5,122.6 403.5,123 404.5,123.6 405.5,124.4 406.5,124.9 407.5,125.2 408.5,125.6 409.5,126 410.5,126.4 411.5,127.2 412.5,127.8 413.5,128.3 414.5,128.9 415.5,129.5 416.5,130.1 417.5,130.8 418.5,131.5 419.5,132.2 420.5,132.7 421.5,133.2 422.5,133.9 423.5,134.9 424.5,135.5 425.5,135.9 426.5,136.1 427.5,136.5 428.5,137 429.5,137.4 430.5,137.7 431.5,138.1 432.5,138.6 433.5,138.8 434.5,138.9 435.5,139.1 436.5,139.3 437.5,139.6 438.5,139.7 439.5,139.7 440.5,140.1 441.5,140.2 442.5,140.2 443.5,140.2 444.5,140.1 445.5,140 446.5,139.9 447.5,139.5 448.5,139.4 449.5,139.3 450.5,138.9 451.5,138.6 452.5,138.4 453.5,138 454.5,137.7 455.5,137.5 456.5,137.4 457.5,137.3 458.5,137 459.5,136.7 460.5,136.6 461.5,136.5 462.5,136.4 463.5,136.1 464.5,135.8 465.5,135.5 466.5,135.4 467.5,135.3 468.5,135.1 469.5,134.7 470.5,134.5 471.5,134.7 472.5,134.6 473.5,134.2 474.5,134 475.5,133.7 476.5,133.5 477.5,133.4 478.5,133.3 479.5,133 480.5,132.9 481.5,132.9 482.5,133 483.5,132.9 484.5,132.7 485.5,132.6 486.5,132.7 487.5,132.8 488.5,132.7 489.5,132.8 490.5,133 491.5,133.2 492.5,133.3 493.5,133.4 494.5,133.6 495.5,133.5 496.5,133.5 497.5,133.7 498.5,133.9 499.5,134 500.5,134 501.5,134.1 502.5,134.4 503.5,134.6 504.5,134.6 505.5,134.7 506.5,134.8 507.5,134.9 508.5,135 509.5,135.1 510.5,135.2 511.5,135.4 512.5,135.7 513.5,135.8 514.5,135.8 515.5,136 516.5,136.3 517.5,136.6 518.5,136.7 519.5,137 520.5,137.5 521.5,137.9 522.5,138.4 523.5,138.9 524.5,139.4 525.5,139.7 526.5,139.8 527.5,139.9 528.5,140.2 529.5,140.5 530.5,140.8 531.5,141.1 532.5,141.5 533.5,142 534.5,142.3 535.5,142.5 536.5,142.7 537.5,142.9 538.5,143.1 539.5,143.3 540.5,143.7 541.5,144.1 542.5,144.3 543.5,144.3 544.5,144.5 545.5,144.8 546.5,145 547.5,145.2 548.5,145.3 549.5,145.4 550.5,145.7 551.5,145.9 552.5,146.1 553.5,146.3 554.5,146.4 555.5,146.5 556.5,146.7 557.5,146.9 558.5,147 559.5,147 560.5,147.1 561.5,147.3 562.5,147.6 563.5,147.9 564.5,148.1 565.5,148.1 566.5,148.2 567.5,148.3 568.5,148.5 569.5,148.7 570.5,148.8 571.5,149 572.5,149.5 573.5,149.8 574.5,149.9 575.5,150.1 576.5,150.5 577.5,150.5 578.5,150.6 579.5,150.9 580.5,151 581.5,151 582.5,151.2 583.5,151.3 584.5,151.4 585.5,151.4 586.5,151.4 587.5,151.6 588.5,151.7 589.5,151.6 590.5,151.8 591.5,152.1 592.5,152.2 593.5,152.3 594.5,152.5 595.5,152.6 596.5,152.6 597.5,152.9 598.5,153.3 599.5,153.5 600.5,153.6 601.5,153.7 602.5,153.9 603.5,154.1 604.5,154.2 605.5,154.4"/>
<polyline stroke="#800080" points="269.5,268 269.5,154.2 270.5,154.1 271.5,153.8 272.5,153.5 273.5,153.3 274.5,152.7 275.5,152.2 276.5,151.9 277.5,151.6 278.5,150.9 279.5,150.4 280.5,149.6 281.5,148.5 282.5,147.5 283.5,146.6 284.5,145.8 285.5,144.9 286.5,144 287.5,143.3 288.5,142 289.5,140.9 290.5,139.9 291.5,139.1 292.5,138.4 293.5,137.7 294.5,136.7 295.5,135.7 296.5,134.7 297.5,133.9 298.5,133.1 299.5,131.9 300.5,131.1 301.5,130.1 302.5,128.8 303.5,127.8 304.5,127.1 305.5,126.5 306.5,125.6 307.5,124.7 308.5,123.9 309.5,123.1 310.5,122.2 311.5,121.4 312.5,120.6 313.5,119.8 314.5,119 315.5,118.1 316.5,117.3 317.5,116.7 318.5,115.9 319.5,115 320.5,114.4 321.5,113.8 322.5,113.2 323.5,112.8 324.5,112.2 325.5,111.7 326.5,111.3 327.5,111 328.5,110.3 329.5,109.6 330.5,109.2 331.5,108.8 332.5,108.6 333.5,108.3 334.5,107.9 335.5,107.4 336.5,106.9 337.5,106.5 338.5,106 339.5,105.7 340.5,105.4 341.5,105 342.5,104.4 343.5,104 344.5,103.9 345.5,103.7 346.5,103.5 347.5,103.5 348.5,103.7 349.5,103.5 350.5,103.6 351.5,103.9 352.5,103.9 353.5,103.9 354.5,104 355.5,104.1 356.5,104.1 357.5,104.4 358.5,104.3 359.5,104.3 360.5,104.5 361.5,104.7 362.5,105 363.5,105.4 364.5,105.9 365.5,106.1 366.5,106.5 367.5,106.9 368.5,107.2 369.5,107.6 370.5,108 371.5,108.4 372.5,108.8 373.5,109.3 374.5,109.6 375.5,110 376.5,110.6 377.5,111.3 378.5,111.8 379.5,112.2 380.5,112.8 381.5,113.5 382.5,114.2 383.5,114.9 384.5,115.4 385.5,116 386.5,116.5 387.5,116.8 388.5,117.3 389.5,118 390.5,118.6 391.5,119.2 392.5,119.9 393.5,120.6 394.5,121.1 395.5,121.7 396.5,122.3 397.5,122.7 398.5,123.3 399.5,124.1 400.5,124.8 401.5,125.4 402.5,126 403.5,126.4 404.5,126.8 405.5,127.3 406.5,127.8 407.5,128.2 408.5,128.8 409.5,129.4 410.5,129.8 411.5,130.3 412.5,131 413.5,131.5 414.5,132 415.5,132.6 416.5,133.2 417.5,133.8 418.5,134.6 419.5,135.2 420.5,135.9 421.5,136.6 422.5,137.2 423.5,137.8 424.5,138.4 425.5,139 426.5,139.5 427.5,139.8 428.5,140.1 429.5,140.5 430.5,140.9 431.5,141.4 432.5,141.9 433.5,142.2 434.5,142.3 435.5,142.4 436.5,142.3 437.5,142.4 438.5,142.7 439.5,142.9 440.5,142.9 441.5,143 442.5,143.3 443.5,143.2 444.5,143.3 445.5,143.5 446.5,143.3 447.5,143 448.5,142.8 449.5,142.6 450.5,142.4 451.5,141.9 452.5,141.5 453.5,141.4 454.5,141.3 455.5,141.1 456.5,140.7 457.5,140.4 458.5,140.4 459.5,140.4 460.5,140.2 461.5,140 462.5,139.8 463.5,139.4 464.5,139.2 465.5,139 466.5,138.7 467.5,138.4 468.5,138.2 469.5,137.9 470.5,137.7 471.5,137.5 472.5,137.3 473.5,137.2 474.5,137.2 475.5,137.3 476.5,137.3 477.5,137 478.5,136.6 479.5,136.4 480.5,136.4 481.5,136.3 482.5,136.2 483.5,136.1 484.5,136 485.5,136 486.5,135.8 487.5,135.8 488.5,135.9 489.5,136.1 490.5,136.1 491.5,136.2 492.5,136.4 493.5,136.5 494.5,136.5 495.5,136.4 496.5,136.6 497.5,136.7 498.5,136.5 499.5,136.6 500.5,136.9 501.5,136.9 502.5,136.9 503.5,137.1 504.5,137.2 505.5,137.2 506.5,137.3 507.5,137.5 508.5,137.7 509.5,137.6 510.5,137.5 511.5,137.8 512.5,138 513.5,138.2 514.5,138.4 515.5,138.6 516.5,139 517.5,139.3 518.5,139.7 519.5,139.9 520.5,140.1 521.5,140.6 522.5,141.1 523.5,141.5 524.5,141.8 525.5,142 526.5,142.4 527.5,142.8 528.5,142.9 529.5,143.1 530.5,143.5 531.5,144 532.5,144.4 533.5,144.4 534.5,144.7 535.5,145.1 536.5,145.3 537.5,145.5 538.5,145.7 539.5,145.9 540.5,146.3 541.5,146.6 542.5,147.1 543.5,147.4 544.5,147.4 545.5,147.6 546.5,147.7 547.5,147.7 548.5,147.9 549.5,148.2 550.5,148.3 551.5,148.4 552.5,148.6 553.5,148.8 554.5,149 555.5,149.3 556.5,149.5 557.5,149.5 558.5,149.5 559.5,149.7 560.5,149.8 561.5,150.1 562.5,150.6 563.5,150.9 564.5,150.8 565.5,150.8 566.5,150.9 567.5,151 568.5,151.3 569.5,151.8 570.5,151.9 571.5,151.8 572.5,152 573.5,152.4 574.5,152.6 575.5,152.7 576.5,152.9 577.5,152.9 578.5,153 579.5,153.3 580.5,153.4 581.5,153.3 582.5,153.4 583.5,153.7 584.5,153.8 585.5,154 586.5,154.1 587.5,154.3 588.5,154.2 589.5,154.1 590.5,154.1 591.5,154.4 592.5,155 593.5,155.2 594.5,155 595.5,155 596.5,155.3 597.5,155.5 598.5,155.5 599.5,155.6 600.5,155.7 601.5,156 602.5,156.4 603.5,156.6 604.5,156.6 605.5,156.7"/>
<polyline stroke="#800000" points="269.5,268 269.5,160.6 270.5,160 271.5,159.5 272.5,159.7 273.5,159.5 274.5,159.4 275.5,158.9 276.5,158.7 277.5,158.1 278.5,157.5 279.5,156.9 280.5,156 281.5,155.1 282.5,154.5 283.5,153.6 284.5,152.6 285.5,151.7 286.5,150.5 287.5,149.6 288.5,148.8 289.5,147.7 290.5,146.7 291.5,146.1 292.5,145.5 293.5,144.5 294.5,143.3 295.5,142.4 296.5,141.7 297.5,140.6 298.5,139.6 299.5,138.9 300.5,138.1 301.5,137.1 302.5,136.1 303.5,135.1 304.5,134.1 305.5,133.5 306.5,132.6 307.5,131.5 308.5,130.8 309.5,130 310.5,129.1 311.5,128.3 312.5,127.4 313.5,126.5 314.5,125.6 315.5,124.9 316.5,124.1 317.5,123.3 318.5,122.6 319.5,121.9 320.5,121.3 321.5,120.7 322.5,120.1 323.5,119.7 324.5,119.4 325.5,118.7 326.5,118 327.5,117.6 328.5,117.2 329.5,116.6 330.5,116.1 331.5,115.8 332.5,115.6 333.5,115.1 334.5,114.5 335.5,114 336.5,113.6 337.5,113.4 338.5,113 339.5,112.4 340.5,111.9 341.5,111.5 342.5,111.2 343.5,111.1 344.5,110.8 345.5,110.4 346.5,110.4 347.5,110.6 348.5,110.5 349.5,110.4 350.5,110.2 351.5,110.2 352.5,110.3 353.5,110.2 354.5,110.2 355.5,110.5 356.5,110.7 357.5,110.7 358.5,111 359.5,111.1 360.5,111.1 361.5,111.4 362.5,111.7 363.5,112.1 364.5,112.3 365.5,112.4 366.5,112.7 367.5,113.4 368.5,113.8 369.5,114.2 370.5,114.7 371.5,115 372.5,115.3 373.5,115.7 374.5,116.1 375.5,116.7 376.5,117.3 377.5,117.6 378.5,118.2 379.5,118.8 380.5,119.3 381.5,119.9 382.5,120.4 383.5,121 384.5,121.8 385.5,122.5 386.5,122.8 387.5,123.4 388.5,124.3 389.5,124.9 390.5,125.2 391.5,125.6 392.5,126.2 393.5,126.8 394.5,127.5 395.5,128.2 396.5,128.8 397.5,129.2 398.5,129.6 399.5,130.1 400.5,130.7 401.5,131.4 402.5,131.9 403.5,132.4 404.5,133 405.5,133.7 406.5,134.2 407.5,134.6 408.5,134.9 409.5,135.7 410.5,136.3 411.5,136.7 412.5,137.2 413.5,137.8 414.5,138.4 415.5,139 416.5,139.5 417.5,140.3 418.5,141.2 419.5,141.9 420.5,142.6 421.5,143.1 422.5,143.6 423.5,144.2 424.5,144.8 425.5,145.2 426.5,145.5 427.5,145.9 428.5,146.4 429.5,146.8 430.5,147.2 431.5,147.7 432.5,148 433.5,148.3 434.5,148.5 435.5,148.8 436.5,149.2 437.5,149.3 438.5,149.3 439.5,149.3 440.5,149.5 441.5,149.7 442.5,149.7 443.5,149.8 444.5,149.9 445.5,150 446.5,149.7 447.5,149.4 448.5,149.4 449.5,149.5 450.5,149.2 451.5,148.8 452.5,148.3 453.5,147.9 454.5,147.7 455.5,147.5 456.5,147.2 457.5,146.9 458.5,146.7 459.5,146.7 460.5,146.3 461.5,145.9 462.5,145.9 463.5,145.9 464.5,145.5 465.5,145.2 466.5,144.9 467.5,144.8 468.5,144.5 469.5,144.2 470.5,144.3 471.5,144.3 472.5,143.9 473.5,143.5 474.5,143.5 475.5,143.5 476.5,143.3 477.5,142.9 478.5,142.6 479.5,142.6 480.5,142.7 481.5,142.6 482.5,142.5 483.5,142.1 484.5,142 485.5,142.2 486.5,142.3 487.5,142.3 488.5,142.1 489.5,142.1 490.5,142.4 491.5,142.7 492.5,142.8 493.5,142.7 494.5,142.6 495.5,142.5 496.5,142.4 497.5,142.5 498.5,142.6 499.5,142.6 500.5,142.7 501.5,142.8 502.5,142.9 503.5,143 504.5,143 505.5,143.2 506.5,143.4 507.5,143.4 508.5,143.3 509.5,143.4 510.5,143.5 511.5,143.6 512.5,143.8 513.5,144.1 514.5,144.4 515.5,144.5 516.5,144.4 517.5,144.6 518.5,145 519.5,145.6 520.5,146 521.5,146.3 522.5,146.7 523.5,147.2 524.5,147.5 525.5,147.9 526.5,148.1 527.5,148.2 528.5,148.6 529.5,148.9 530.5,149 531.5,149.2 532.5,149.7 533.5,150.2 534.5,150.6 535.5,150.8 536.5,151 537.5,151.2 538.5,151.5 539.5,151.5 540.5,151.8 541.5,152.2 542.5,152.5 543.5,152.6 544.5,152.9 545.5,153.3 546.5,153.5 547.5,153.5 548.5,153.8 549.5,154.1 550.5,154.3 551.5,154.2 552.5,154.2 553.5,154.6 554.5,154.7 555.5,154.7 556.5,155.1 557.5,155.5 558.5,155.7 559.5,155.8 560.5,155.8 561.5,155.8 562.5,156 563.5,156.3 564.5,156.5 565.5,156.6 566.5,156.8 567.5,157.1 568.5,157.4 569.5,157.8 570.5,157.9 571.5,157.7 572.5,157.7 573.5,157.8 574.5,158.1 575.5,158.4 576.5,158.5 577.5,158.6 578.5,158.9 579.5,159.1 580.5,159.1 581.5,159.2 582.5,159.5 583.5,159.6 584.5,159.7 585.5,159.7 586.5,159.7 587.5,159.7 588.5,159.9 589.5,160.2 590.5,160.3 591.5,160.3 592.5,160.4 593.5,160.5 594.5,160.8 595.5,160.8 596.5,160.7 597.5,160.8 598.5,161.1 599.5,161.3 600.5,161.4 601.5,161.6 602.5,161.7 603.5,161.9 604.5,162 605.5,162"/>
<polyline stroke="#008000" points="269.5,268 269.5,164.8 270.5,164.8 271.5,165 272.5,164.7 273.5,164.3 274.5,164.1 275.5,163.9 276.5,163.3 277.5,162.6 278.5,162.1 279.5,161.3 280.5,160.7 281.5,159.7 282.5,159.1 283.5,158.2 284.5,157.2 285.5,156.7 286.5,155.7 287.5,154.3 288.5,153.8 289.5,152.7 290.5,151.9 291.5,151.1 292.5,150.3 293.5,149.4 294.5,148.5 295.5,147.7 296.5,146.8 297.5,145.9 298.5,144.9 299.5,143.9 300.5,142.9 301.5,142 302.5,141.2 303.5,140.4 304.5,139.5 305.5,138.7 306.5,138.1 307.5,137 308.5,135.9 309.5,135.1 310.5,134.4 311.5,133.5 312.5,132.6 313.5,131.7 314.5,130.9 315.5,130.1 316.5,129.4 317.5,128.5 318.5,127.7 319.5,127.1 320.5,126.3 321.5,125.6 322.5,125.1 323.5,124.4 324.5,124 325.5,123.4 326.5,122.8 327.5,122.5 328.5,122.1 329.5,121.6 330.5,121.2 331.5,120.9 332.5,120.5 333.5,120 334.5,119.4 335.5,118.9 336.5,118.6 337.5,118.3 338.5,117.9 339.5,117.5 340.5,117.2 341.5,116.6 342.5,116.2 343.5,116.1 344.5,115.9 345.5,115.5 346.5,115.4 347.5,115.5 348.5,115.5 349.5,115.6 350.5,115.6 351.5,115.3 352.5,115.1 353.5,115.1 354.5,115.2 355.5,115.3 356.5,115.4 357.5,115.5 358.5,115.8 359.5,116.2 360.5,116.3 361.5,116.2 362.5,116.3 363.5,116.8 364.5,117.2 365.5,117.4 366.5,117.7 367.5,118 368.5,118.4 369.5,118.8 370.5,119 371.5,119.4 372.5,119.8 373.5,120.2 374.5,120.7 375.5,121.2 376.5,121.7 377.5,122.3 378.5,122.9 379.5,123.4 380.5,124 381.5,124.5 382.5,124.9 383.5,125.4 384.5,126 385.5,126.8 386.5,127.7 387.5,128.2 388.5,128.5 389.5,129.1 390.5,129.7 391.5,130.2 392.5,130.9 393.5,131.5 394.5,131.9 395.5,132.5 396.5,133 397.5,133.6 398.5,134.2 399.5,134.7 400.5,135.2 401.5,135.7 402.5,136.5 403.5,137.1 404.5,137.5 405.5,138 406.5,138.6 407.5,139.2 408.5,139.8 409.5,140.3 410.5,140.6 411.5,141.1 412.5,141.6 413.5,142.3 414.5,143.2 415.5,143.7 416.5,144 417.5,144.7 418.5,145.5 419.5,146.3 420.5,146.9 421.5,147.5 422.5,148.1 423.5,148.8 424.5,149.3 425.5,149.8 426.5,150.3 427.5,150.7 428.5,151 429.5,151.5 430.5,151.9 431.5,152.3 432.5,152.6 433.5,152.8 434.5,153 435.5,153.3 436.5,153.6 437.5,153.8 438.5,154 439.5,154.1 440.5,154.1 441.5,154.3 442.5,154.4 443.5,154.4 444.5,154.5 445.5,154.5 446.5,154.5 447.5,154.4 448.5,154 449.5,153.6 450.5,153.4 451.5,153.3 452.5,153.2 453.5,152.8 454.5,152.3 455.5,152.1 456.5,152 457.5,151.7 458.5,151.2 459.5,150.8 460.5,150.9 461.5,150.9 462.5,150.5 463.5,150 464.5,149.8 465.5,149.7 466.5,149.8 467.5,149.5 468.5,149.1 469.5,149 470.5,148.8 471.5,148.6 472.5,148.4 473.5,148.1 474.5,148 475.5,147.8 476.5,147.8 477.5,147.6 478.5,147.1 479.5,147 480.5,147.3 481.5,147.2 482.5,146.9 483.5,146.9 484.5,146.8 485.5,146.6 486.5,146.6 487.5,146.7 488.5,146.8 489.5,146.6 490.5,146.5 491.5,146.9 492.5,146.8 493.5,146.6 494.5,146.5 495.5,146.6 496.5,146.8 497.5,146.9 498.5,146.9 499.5,146.8 500.5,146.8 501.5,147 502.5,147.2 503.5,147.2 504.5,147.1 505.5,147.1 506.5,147.1 507.5,147.2 508.5,147.4 509.5,147.4 510.5,147.3 511.5,147.5 512.5,147.6 513.5,147.8 514.5,148.1 515.5,148.3 516.5,148.4 517.5,148.9 518.5,149.4 519.5,149.6 520.5,149.9 521.5,150.5 522.5,150.8 523.5,150.8 524.5,151.1 525.5,151.5 526.5,151.7 527.5,152 528.5,152.6 529.5,152.9 530.5,153.3 531.5,153.7 532.5,153.9 533.5,154.1 534.5,154.4 535.5,154.7 536.5,155 537.5,155.4 538.5,155.7 539.5,155.9 540.5,156 541.5,156.1 542.5,156.2 543.5,156.4 544.5,156.8 545.5,157.2 546.5,157.4 547.5,157.6 548.5,157.9 549.5,158.1 550.5,158 551.5,157.9 552.5,158 553.5,158.3 554.5,158.5 555.5,158.7 556.5,158.8 557.5,159 558.5,159.3 559.5,159.4 560.5,159.5 561.5,159.8 562.5,159.9 563.5,160.3 564.5,160.5 565.5,160.5 566.5,160.5 567.5,160.6 568.5,160.9 569.5,161.3 570.5,161.5 571.5,161.5 572.5,161.7 573.5,162.1 574.5,162.4 575.5,162.2 576.5,162.2 577.5,162.4 578.5,162.8 579.5,163.1 580.5,163.3 581.5,163.2 582.5,163.1 583.5,163.2 584.5,163.4 585.5,163.4 586.5,163.6 587.5,163.7 588.5,163.7 589.5,163.8 590.5,164.2 591.5,164.4 592.5,164.3 593.5,164.5 594.5,164.7 595.5,164.6 596.5,164.6 597.5,164.7 598.5,164.9 599.5,165.1 600.5,165.2 601.5,165.2 602.5,165.2 603.5,165.3 604.5,165.7 605.5,166"/>
<polyline stroke="#008080" points="269.5,268 269.5,169 270.5,169.7 271.5,168.8 272.5,168.9 273.5,169.3 274.5,169.3 275.5,169.5 276.5,168.9 277.5,168.1 278.5,167.4 279.5,166.1 280.5,165.8 281.5,165.4 282.5,164.5 283.5,163.2 284.5,162.3 285.5,161.6 286.5,161.1 287.5,160.1 288.5,159.1 289.5,158.2 290.5,157.4 291.5,156.5 292.5,155.7 293.5,154.6 294.5,154 295.5,153.4 296.5,152.4 297.5,151.4 298.5,150.5 299.5,149.5 300.5,148.4 301.5,147.5 302.5,146.6 303.5,145.8 304.5,144.9 305.5,144 306.5,143.1 307.5,142.2 308.5,141.4 309.5,140.6 310.5,139.9 311.5,139.1 312.5,138 313.5,137.1 314.5,136.3 315.5,135.4 316.5,134.7 317.5,134 318.5,133.1 319.5,132.3 320.5,131.8 321.5,131.4 322.5,130.6 323.5,129.9 324.5,129.5 325.5,129 326.5,128.4 327.5,127.6 328.5,127.4 329.5,127.4 330.5,126.8 331.5,126.1 332.5,125.8 333.5,125.4 334.5,124.8 335.5,124.4 336.5,124 337.5,123.6 338.5,123.1 339.5,122.5 340.5,121.9 341.5,121.6 342.5,121.4 343.5,121.1 344.5,121 345.5,121.1 346.5,120.9 347.5,120.7 348.5,120.6 349.5,120.5 350.5,120.4 351.5,120.4 352.5,120.5 353.5,120.3 354.5,120.1 355.5,120.3 356.5,120.5 357.5,120.6 358.5,120.9 359.5,121.3 360.5,121.4 361.5,121.4 362.5,121.5 363.5,121.6 364.5,121.9 365.5,122.4 366.5,122.8 367.5,123.1 368.5,123.4 369.5,123.7 370.5,124.1 371.5,124.6 372.5,125.1 373.5,125.6 374.5,126.1 375.5,126.3 376.5,126.5 377.5,127 378.5,127.6 379.5,128.3 380.5,129 381.5,129.6 382.5,130 383.5,130.7 384.5,131.3 385.5,131.7 386.5,132.3 387.5,132.9 388.5,133.6 389.5,134.2 390.5,134.7 391.5,135.1 392.5,135.5 393.5,136 394.5,136.4 395.5,136.9 396.5,137.8 397.5,138.6 398.5,139 399.5,139.6 400.5,140.2 401.5,140.8 402.5,141.5 403.5,142.2 404.5,142.6 405.5,143 406.5,143.5 407.5,143.9 408.5,144.4 409.5,145 410.5,145.5 411.5,145.8 412.5,146.5 413.5,147.2 414.5,147.7 415.5,148.2 416.5,148.9 417.5,149.7 418.5,150.6 419.5,151.3 420.5,151.8 421.5,152.2 422.5,152.9 423.5,153.7 424.5,154.2 425.5,154.4 426.5,154.8 427.5,155.3 428.5,156 429.5,156.5 430.5,157 431.5,157.4 432.5,157.6 433.5,157.8 434.5,158.2 435.5,158.5 436.5,158.6 437.5,158.6 438.5,158.8 439.5,159.1 440.5,159.2 441.5,159.1 442.5,159.2 443.5,159.2 444.5,159.4 445.5,159.6 446.5,159.5 447.5,159.4 448.5,159.1 449.5,158.6 450.5,158.5 451.5,158.5 452.5,158.2 453.5,157.4 454.5,157 455.5,157 456.5,156.7 457.5,156.5 458.5,156.3 459.5,155.9 460.5,155.5 461.5,155.5 462.5,155.5 463.5,155.4 464.5,155.2 465.5,154.8 466.5,154.4 467.5,154 468.5,153.7 469.5,153.7 470.5,153.8 471.5,153.8 472.5,153.6 473.5,153.1 474.5,152.7 475.5,152.8 476.5,152.6 477.5,152.1 478.5,151.9 479.5,152 480.5,151.9 481.5,151.6 482.5,151.4 483.5,151.3 484.5,151.1 485.5,151.1 486.5,151.2 487.5,151.2 488.5,150.9 489.5,150.9 490.5,151.2 491.5,151.2 492.5,151 493.5,151.1 494.5,151.1 495.5,151 496.5,151.1 497.5,151.3 498.5,151.3 499.5,151.1 500.5,151.1 501.5,151.4 502.5,151.5 503.5,151.3 504.5,151.2 505.5,151.3 506.5,151.4 507.5,151.5 508.5,151.5 509.5,151.6 510.5,151.6 511.5,151.6 512.5,151.6 513.5,151.6 514.5,151.8 515.5,152 516.5,152.4 517.5,152.8 518.5,153.2 519.5,153.6 520.5,153.9 521.5,154 522.5,154.5 523.5,155 524.5,155.2 525.5,155.5 526.5,156.1 527.5,156.6 528.5,156.9 529.5,157.1 530.5,157.5 531.5,158 532.5,158.4 533.5,158.6 534.5,158.7 535.5,158.9 536.5,159.2 537.5,159.4 538.5,159.7 539.5,159.9 540.5,160 541.5,160.2 542.5,160.5 543.5,160.7 544.5,160.7 545.5,160.9 546.5,161.3 547.5,161.5 548.5,161.7 549.5,161.9 550.5,162.1 551.5,162.3 552.5,162.6 553.5,162.8 554.5,163 555.5,163.3 556.5,163.2 557.5,163.2 558.5,163.5 559.5,163.7 560.5,163.8 561.5,163.9 562.5,164.4 563.5,164.5 564.5,164.6 565.5,164.8 566.5,165.2 567.5,165.6 568.5,165.7 569.5,165.5 570.5,165.5 571.5,165.7 572.5,166 573.5,166.3 574.5,166.5 575.5,166.5 576.5,166.4 577.5,166.7 578.5,167.2 579.5,167.3 580.5,167.2 581.5,167.2 582.5,167.3 583.5,167.3 584.5,167.3 585.5,167.6 586.5,167.7 587.5,167.6 588.5,167.5 589.5,167.9 590.5,168.1 591.5,168.1 592.5,168.4 593.5,168.6 594.5,168.4 595.5,168.5 596.5,168.9 597.5,169.1 598.5,169.1 599.5,169.1 600.5,169.2 601.5,169.5 602.5,169.6 603.5,169.7 604.5,169.6 605.5,169.8"/>
<polyline stroke="#0000A0" points="269.5,268 269.5,173.1 270.5,172.5 271.5,172.6 272.5,172.9 273.5,171.9 274.5,172.4 275.5,172.1 276.5,171.4 277.5,171.3 278.5,170.9 279.5,169.7 280.5,169.6 281.5,168.6 282.5,167.4 283.5,166.3 284.5,165.9 285.5,165.7 286.5,164.6 287.5,163.3 288.5,163 289.5,162.2 290.5,161 291.5,159.9 292.5,159 293.5,158.3 294.5,157.6 295.5,156.5 296.5,155.8 297.5,154.9 298.5,154.2 299.5,153.3 300.5,152.1 301.5,151.1 302.5,150.5 303.5,149.9 304.5,149 305.5,147.7 306.5,146.5 307.5,145.9 308.5,145.2 309.5,144.3 310.5,143.4 311.5,142.6 312.5,142 313.5,141.6 314.5,140.6 315.5,139.5 316.5,138.6 317.5,137.9 318.5,137.1 319.5,136.4 320.5,135.8 321.5,135.3 322.5,134.6 323.5,133.9 324.5,133.4 325.5,132.7 326.5,131.8 327.5,131.2 328.5,130.9 329.5,130.7 330.5,130.5 331.5,130.1 332.5,129.4 333.5,129 334.5,128.8 335.5,128.4 336.5,127.8 337.5,127.4 338.5,127.2 339.5,126.6 340.5,125.9 341.5,125.4 342.5,125.5 343.5,125.3 344.5,124.8 345.5,124.4 346.5,124.2 347.5,124.2 348.5,124.3 349.5,124.2 350.5,124 351.5,124.1 352.5,124.2 353.5,124 354.5,123.9 355.5,124.1 356.5,124.4 357.5,124.2 358.5,124.1 359.5,124.4 360.5,124.6 361.5,124.5 362.5,124.7 363.5,125.2 364.5,125.5 365.5,125.9 366.5,126 367.5,126.1 368.5,126.8 369.5,127.4 370.5,127.6 371.5,128 372.5,128.4 373.5,128.7 374.5,129.3 375.5,129.8 376.5,130 377.5,130.2 378.5,130.4 379.5,131 380.5,131.9 381.5,132.8 382.5,133.6 383.5,134.2 384.5,134.5 385.5,135 386.5,135.7 387.5,136.3 388.5,136.7 389.5,137.2 390.5,137.7 391.5,138.3 392.5,138.9 393.5,139.2 394.5,139.8 395.5,140.5 396.5,141.1 397.5,141.6 398.5,142.2 399.5,142.8 400.5,143.3 401.5,144 402.5,144.6 403.5,145.3 404.5,145.9 405.5,146.2 406.5,146.6 407.5,147 408.5,147.8 409.5,148.6 410.5,149 411.5,149.5 412.5,150 413.5,150.2 414.5,150.7 415.5,151.4 416.5,152 417.5,152.6 418.5,153.5 419.5,154.5 420.5,155.1 421.5,155.6 422.5,156 423.5,156.5 424.5,157.4 425.5,157.9 426.5,158.2 427.5,158.7 428.5,159.2 429.5,159.5 430.5,159.8 431.5,160.2 432.5,160.6 433.5,161.2 434.5,161.6 435.5,161.7 436.5,161.8 437.5,162.2 438.5,162.4 439.5,162.4 440.5,162.7 441.5,162.9 442.5,162.8 443.5,162.7 444.5,162.6 445.5,162.4 446.5,162.2 447.5,162.2 448.5,162 449.5,162.1 450.5,161.7 451.5,160.9 452.5,160.7 453.5,160.9 454.5,160.8 455.5,160.5 456.5,160.4 457.5,160.3 458.5,160.2 459.5,160 460.5,159.6 461.5,159.1 462.5,158.6 463.5,158.3 464.5,158.2 465.5,158.4 466.5,158.4 467.5,157.8 468.5,157.2 469.5,157 470.5,157 471.5,156.9 472.5,156.8 473.5,156.4 474.5,155.9 475.5,155.9 476.5,155.8 477.5,155.6 478.5,155.6 479.5,155.2 480.5,154.8 481.5,154.6 482.5,154.8 483.5,155 484.5,155 485.5,154.6 486.5,154.5 487.5,154.6 488.5,154.6 489.5,154.6 490.5,154.5 491.5,154.3 492.5,154.2 493.5,154.2 494.5,154.1 495.5,154 496.5,154 497.5,154.1 498.5,154.2 499.5,154.2 500.5,154.1 501.5,154 502.5,154.2 503.5,154.4 504.5,154.2 505.5,154 506.5,154.1 507.5,154.2 508.5,154.1 509.5,154.1 510.5,154.2 511.5,154.3 512.5,154.5 513.5,154.5 514.5,154.3 515.5,154.2 516.5,154.5 517.5,155.3 518.5,156 519.5,156.3 520.5,156.6 521.5,157 522.5,157.3 523.5,157.4 524.5,157.6 525.5,158 526.5,158.5 527.5,159.2 528.5,159.6 529.5,159.7 530.5,160 531.5,160.3 532.5,160.4 533.5,160.5 534.5,160.8 535.5,161.2 536.5,161.6 537.5,162 538.5,162.3 539.5,162.5 540.5,162.8 541.5,162.9 542.5,163.1 543.5,163.2 544.5,163.5 545.5,163.8 546.5,163.7 547.5,163.8 548.5,164.2 549.5,164.5 550.5,164.8 551.5,165.1 552.5,165.1 553.5,165.3 554.5,165.6 555.5,165.7 556.5,165.7 557.5,166 558.5,166.3 559.5,166.4 560.5,166.6 561.5,166.7 562.5,166.8 563.5,166.7 564.5,167 565.5,167.4 566.5,167.6 567.5,167.6 568.5,167.7 569.5,167.9 570.5,168.4 571.5,168.8 572.5,168.7 573.5,168.7 574.5,169.2 575.5,169.3 576.5,169.1 577.5,169.4 578.5,169.6 579.5,169.6 580.5,169.8 581.5,169.8 582.5,169.7 583.5,169.9 584.5,169.9 585.5,170.1 586.5,170.5 587.5,170.4 588.5,170.4 589.5,170.6 590.5,170.8 591.5,171 592.5,171 593.5,171 594.5,171.2 595.5,171.2 596.5,171.3 597.5,171.6 598.5,171.8 599.5,171.7 600.5,171.7 601.5,171.9 602.5,172.2 603.5,172.4 604.5,172.5 605.5,172.4"/>
<polyline stroke="#FF8000" points="269.5,268 269.5,178.1 270.5,176.5 271.5,176.9 272.5,177.6 273.5,177.4 274.5,176.8 275.5,177.1 276.5,177.5 277.5,175.9 278.5,175.9 279.5,174.7 280.5,174.1 281.5,174.1 282.5,173.2 283.5,172.2 284.5,170.6 285.5,170.1 286.5,169.3 287.5,168.4 288.5,167.8 289.5,166.4 290.5,165.9 291.5,165 292.5,164.3 293.5,164 294.5,163.1 295.5,162.5 296.5,161.3 297.5,159.9 298.5,159 299.5,158.2 300.5,157.5 301.5,156.8 302.5,155.6 303.5,154.7 304.5,154.1 305.5,153.4 306.5,152.8 307.5,151.9 308.5,151 309.5,150.2 310.5,149.1 311.5,148 312.5,147.1 313.5,146.4 314.5,145.9 315.5,145.1 316.5,144 317.5,142.9 318.5,142 319.5,141.3 320.5,140.9 321.5,140.2 322.5,139 323.5,138.4 324.5,138.2 325.5,137.6 326.5,137 327.5,136.6 328.5,136.4 329.5,136.1 330.5,135.6 331.5,135.2 332.5,134.8 333.5,134.5 334.5,134.3 335.5,133.7 336.5,132.8 337.5,132.2 338.5,131.9 339.5,131.5 340.5,131.1 341.5,130.8 342.5,130.5 343.5,130.3 344.5,130 345.5,129.8 346.5,129.6 347.5,129.4 348.5,129.5 349.5,129.4 350.5,129.2 351.5,129.2 352.5,129.2 353.5,129.2 354.5,129 355.5,128.8 356.5,128.7 357.5,129 358.5,129.2 359.5,129.6 360.5,129.8 361.5,129.7 362.5,130 363.5,130.6 364.5,130.9 365.5,131 366.5,130.9 367.5,131.2 368.5,131.8 369.5,132.3 370.5,132.8 371.5,133.1 372.5,133.3 373.5,133.7 374.5,134 375.5,134.3 376.5,134.7 377.5,135.2 378.5,135.8 379.5,136.2 380.5,136.5 381.5,137.1 382.5,138 383.5,138.6 384.5,138.9 385.5,139.4 386.5,140.2 387.5,140.9 388.5,141.3 389.5,141.9 390.5,142.4 391.5,142.9 392.5,143.4 393.5,144 394.5,144.8 395.5,145.3 396.5,145.6 397.5,146.2 398.5,147.2 399.5,147.8 400.5,148 401.5,148.4 402.5,149 403.5,149.7 404.5,150.2 405.5,150.5 406.5,151 407.5,151.7 408.5,152.6 409.5,153.3 410.5,153.6 411.5,154.2 412.5,154.8 413.5,155.1 414.5,155.6 415.5,156.4 416.5,157.1 417.5,157.7 418.5,158.5 419.5,158.9 420.5,159.3 421.5,160.1 422.5,161 423.5,161.8 424.5,162.1 425.5,162.5 426.5,163.1 427.5,163.4 428.5,163.7 429.5,164.2 430.5,164.8 431.5,165.6 432.5,166 433.5,165.8 434.5,165.8 435.5,166.1 436.5,166.3 437.5,166.6 438.5,167.1 439.5,167.3 440.5,167.1 441.5,166.9 442.5,167.2 443.5,167.8 444.5,167.8 445.5,167.2 446.5,166.9 447.5,167.2 448.5,167.3 449.5,167.1 450.5,166.7 451.5,166.5 452.5,166.1 453.5,165.9 454.5,165.8 455.5,165.3 456.5,164.8 457.5,164.5 458.5,164.2 459.5,164.3 460.5,164.2 461.5,163.8 462.5,163.9 463.5,163.8 464.5,163.2 465.5,162.5 466.5,162.2 467.5,162 468.5,161.7 469.5,161.5 470.5,161.4 471.5,161.4 472.5,161.2 473.5,161 474.5,161.2 475.5,161.1 476.5,160.6 477.5,160.4 478.5,160.3 479.5,160.2 480.5,160.2 481.5,159.9 482.5,159.3 483.5,159.3 484.5,159.6 485.5,159.5 486.5,159.1 487.5,159 488.5,158.8 489.5,158.6 490.5,158.6 491.5,158.5 492.5,158.5 493.5,158.5 494.5,158.5 495.5,158.6 496.5,158.6 497.5,158.7 498.5,158.8 499.5,158.8 500.5,158.7 501.5,158.5 502.5,158.4 503.5,158.3 504.5,158.1 505.5,158.1 506.5,158.3 507.5,158.3 508.5,158.2 509.5,158.2 510.5,158.3 511.5,158.3 512.5,158.4 513.5,158.6 514.5,158.7 515.5,158.6 516.5,158.5 517.5,158.7 518.5,159.2 519.5,159.7 520.5,160.5 521.5,160.9 522.5,160.8 523.5,161.1 524.5,162 525.5,162.5 526.5,162.8 527.5,163.1 528.5,163.4 529.5,163.9 530.5,164.4 531.5,164.4 532.5,164.4 533.5,164.7 534.5,165.1 535.5,165.4 536.5,165.6 537.5,165.9 538.5,166.2 539.5,166.6 540.5,166.7 541.5,166.7 542.5,167 543.5,167.5 544.5,168 545.5,168.2 546.5,168.3 547.5,168.2 548.5,168 549.5,168.3 550.5,168.4 551.5,168.4 552.5,168.9 553.5,169.3 554.5,169.2 555.5,169.5 556.5,170 557.5,170.1 558.5,169.9 559.5,170.1 560.5,170.4 561.5,170.7 562.5,171 563.5,171 564.5,171.3 565.5,171.5 566.5,171.3 567.5,171.6 568.5,171.9 569.5,171.9 570.5,172 571.5,172.2 572.5,172.5 573.5,172.8 574.5,173.2 575.5,173.4 576.5,173.4 577.5,173.4 578.5,173.6 579.5,173.6 580.5,173.6 581.5,174 582.5,174.2 583.5,174.1 584.5,174 585.5,174.4 586.5,174.8 587.5,174.5 588.5,174.2 589.5,174.4 590.5,174.6 591.5,174.7 592.5,174.8 593.5,175 594.5,175 595.5,175.1 596.5,175.2 597.5,175.4 598.5,175.6 599.5,175.7 600.5,175.7 601.5,175.7 602.5,175.8 603.5,176.1 604.5,176.4 605.5,176.3"/>
<polyline stroke="#8000FF" points="269.5,268 269.5,180.6 270.5,181.3 271.5,181.1 272.5,181.7 273.5,181.3 274.5,181.8 275.5,181.6 276.5,180.6 277.5,180.9 278.5,179.9 279.5,180.1 280.5,179.2 281.5,177.8 282.5,177.1 283.5,175.4 284.5,174.3 285.5,174.3 286.5,173.8 287.5,172.7 288.5,171.8 289.5,170.8 290.5,170.5 291.5,170.1 292.5,169.2 293.5,168.6 294.5,167.9 295.5,166.6 296.5,165.4 297.5,164.7 298.5,164.1 299.5,163.4 300.5,162.4 301.5,161.1 302.5,160.1 303.5,159.1 304.5,158.1 305.5,157.3 306.5,156.5 307.5,156 308.5,155.4 309.5,154.6 310.5,153.5 311.5,152.5 312.5,151.8 313.5,151 314.5,150.1 315.5,149.2 316.5,148.3 317.5,147.5 318.5,146.7 319.5,146 320.5,145.3 321.5,144.4 322.5,143.7 323.5,143.2 324.5,142.9 325.5,142.4 326.5,141.5 327.5,140.8 328.5,140.4 329.5,140.2 330.5,140.2 331.5,139.9 332.5,139.1 333.5,138.6 334.5,138.2 335.5,137.8 336.5,137.5 337.5,137.1 338.5,136.5 339.5,136 340.5,135.5 341.5,135.3 342.5,134.9 343.5,134.3 344.5,133.9 345.5,133.6 346.5,133.5 347.5,133.6 348.5,133.9 349.5,134.1 350.5,133.7 351.5,133.1 352.5,132.9 353.5,132.9 354.5,133.2 355.5,133.5 356.5,133.6 357.5,133.6 358.5,133.3 359.5,132.9 360.5,133.1 361.5,133.8 362.5,134.4 363.5,134.7 364.5,134.7 365.5,135 366.5,135.4 367.5,135.8 368.5,135.9 369.5,136.1 370.5,136.7 371.5,137.2 372.5,137.3 373.5,137.4 374.5,137.7 375.5,137.8 376.5,138.2 377.5,139 378.5,139.8 379.5,140.6 380.5,141.2 381.5,141.7 382.5,142.2 383.5,142.6 384.5,143 385.5,143.4 386.5,143.9 387.5,144.5 388.5,145.1 389.5,145.5 390.5,145.9 391.5,146.5 392.5,147.1 393.5,147.8 394.5,148.4 395.5,148.9 396.5,149.2 397.5,149.8 398.5,150.5 399.5,151.1 400.5,151.6 401.5,152.1 402.5,152.8 403.5,153.4 404.5,154 405.5,154.5 406.5,155 407.5,155.7 408.5,156.2 409.5,156.9 410.5,157.6 411.5,158.2 412.5,158.8 413.5,159.3 414.5,159.7 415.5,160.4 416.5,160.8 417.5,161.2 418.5,162 419.5,162.9 420.5,163.7 421.5,164.1 422.5,164.7 423.5,165.1 424.5,165.5 425.5,166.2 426.5,166.9 427.5,167.7 428.5,168.3 429.5,168.2 430.5,168.3 431.5,168.9 432.5,169.6 433.5,169.9 434.5,169.9 435.5,170 436.5,170.3 437.5,170.7 438.5,171.2 439.5,171.1 440.5,171.1 441.5,171.3 442.5,171.3 443.5,171.4 444.5,171.4 445.5,171.3 446.5,171.4 447.5,171.5 448.5,171.1 449.5,170.5 450.5,170.4 451.5,170.3 452.5,170 453.5,169.7 454.5,169.6 455.5,169.3 456.5,169 457.5,168.6 458.5,168.4 459.5,168.2 460.5,168.1 461.5,168.1 462.5,167.7 463.5,167.3 464.5,167.1 465.5,166.8 466.5,166.5 467.5,166.1 468.5,165.7 469.5,165.4 470.5,165.4 471.5,165.4 472.5,165 473.5,164.7 474.5,164.6 475.5,164.8 476.5,164.7 477.5,164.2 478.5,164 479.5,163.8 480.5,163.6 481.5,163.4 482.5,163.2 483.5,163.2 484.5,163 485.5,162.9 486.5,163.1 487.5,163.1 488.5,162.7 489.5,162.3 490.5,162.1 491.5,162.2 492.5,162.5 493.5,162.3 494.5,161.9 495.5,161.8 496.5,162.1 497.5,162.1 498.5,161.9 499.5,161.6 500.5,161.5 501.5,161.4 502.5,161.4 503.5,161.5 504.5,161.5 505.5,161.4 506.5,161.5 507.5,161.9 508.5,162.1 509.5,161.6 510.5,161.1 511.5,160.8 512.5,161.1 513.5,161.7 514.5,162.3 515.5,162.3 516.5,162.2 517.5,162.7 518.5,163.1 519.5,163.3 520.5,163.8 521.5,164.1 522.5,164.1 523.5,164.4 524.5,165.1 525.5,165.5 526.5,165.4 527.5,165.7 528.5,166.1 529.5,166.5 530.5,167.2 531.5,167.7 532.5,168.1 533.5,168.5 534.5,168.2 535.5,168.6 536.5,169.4 537.5,169.5 538.5,169.5 539.5,169.9 540.5,170.4 541.5,170.6 542.5,170.5 543.5,170.6 544.5,170.8 545.5,171.2 546.5,171.5 547.5,171.7 548.5,171.9 549.5,171.8 550.5,172.1 551.5,172.7 552.5,172.8 553.5,172.6 554.5,172.5 555.5,172.6 556.5,173 557.5,173.3 558.5,173.3 559.5,173.2 560.5,173.6 561.5,174.1 562.5,174.2 563.5,174.1 564.5,174.1 565.5,174.2 566.5,174.9 567.5,175.7 568.5,175.6 569.5,175.3 570.5,175.3 571.5,175.2 572.5,175.4 573.5,175.9 574.5,176.3 575.5,176.5 576.5,176.4 577.5,176.7 578.5,176.9 579.5,176.7 580.5,176.8 581.5,176.9 582.5,177.3 583.5,177.6 584.5,177.5 585.5,177.4 586.5,177.4 587.5,177.6 588.5,177.9 589.5,177.8 590.5,177.8 591.5,178 592.5,178 593.5,177.8 594.5,178 595.5,178.2 596.5,178.5 597.5,178.8 598.5,178.9 599.5,178.9 600.5,178.7 601.5,178.7 602.5,178.8 603.5,179.1 604.5,179.3 605.5,179.4"/>
<polyline stroke="#FF0080" points="269.5,268 269.5,183.5 270.5,183.5 271.5,186 272.5,185.2 273.5,186 274.5,184.5 275.5,185.8 276.5,185.7 277.5,184.9 278.5,182.9 279.5,183.2 280.5,182.5 281.5,182 282.5,180.9 283.5,179.3 284.5,179 285.5,178.6 286.5,177.1 287.5,176.4 288.5,175.3 289.5,175 290.5,174.5 291.5,173.6 292.5,173.7 293.5,172.4 294.5,171.4 295.5,170.6 296.5,170.2 297.5,169.4 298.5,168.1 299.5,166.9 300.5,166.2 301.5,165.4 302.5,164.7 303.5,163.9 304.5,162.8 305.5,162 306.5,161.4 307.5,160.4 308.5,159.2 309.5,158.1 310.5,157.2 311.5,156.5 312.5,155.9 313.5,155 314.5,153.8 315.5,153 316.5,151.8 317.5,150.9 318.5,150.9 319.5,150.3 320.5,149 321.5,148.3 322.5,147.8 323.5,147 324.5,146.3 325.5,145.8 326.5,145.3 327.5,144.9 328.5,144.5 329.5,144 330.5,143.5 331.5,143.1 332.5,142.7 333.5,142.4 334.5,141.8 335.5,141.5 336.5,141.3 337.5,140.9 338.5,140.5 339.5,140 340.5,139.3 341.5,139 342.5,138.7 343.5,138.3 344.5,138.1 345.5,138.1 346.5,137.7 347.5,137.3 348.5,137.3 349.5,137.2 350.5,137.1 351.5,137 352.5,137 353.5,137 354.5,137.1 355.5,137.1 356.5,137.1 357.5,137.3 358.5,137.3 359.5,137.4 360.5,137.5 361.5,137.4 362.5,137.6 363.5,138.1 364.5,138.3 365.5,138.5 366.5,139.1 367.5,139.6 368.5,140.2 369.5,140.5 370.5,140.6 371.5,140.8 372.5,140.9 373.5,141 374.5,141.5 375.5,142 376.5,142.4 377.5,142.7 378.5,143.2 379.5,144 380.5,144.6 381.5,144.8 382.5,145.5 383.5,146.3 384.5,146.6 385.5,146.7 386.5,147.3 387.5,148.3 388.5,148.9 389.5,149 390.5,149.4 391.5,149.9 392.5,150.5 393.5,151.2 394.5,151.7 395.5,152.4 396.5,153.2 397.5,153.6 398.5,154 399.5,154.7 400.5,155.2 401.5,155.7 402.5,156.2 403.5,156.7 404.5,157.4 405.5,158.2 406.5,158.6 407.5,159 408.5,159.3 409.5,159.7 410.5,160.5 411.5,161.4 412.5,162 413.5,162.5 414.5,162.8 415.5,163.4 416.5,164.1 417.5,165 418.5,165.8 419.5,166.3 420.5,166.7 421.5,167.3 422.5,168 423.5,168.4 424.5,168.6 425.5,169.1 426.5,169.9 427.5,170.7 428.5,171.3 429.5,171.8 430.5,172.3 431.5,172.5 432.5,173.1 433.5,173.4 434.5,173.6 435.5,173.9 436.5,173.8 437.5,173.8 438.5,174.4 439.5,174.7 440.5,174.6 441.5,174.5 442.5,174.8 443.5,175.4 444.5,175.8 445.5,175.6 446.5,175 447.5,174.6 448.5,174.4 449.5,174.1 450.5,174.1 451.5,173.9 452.5,173.6 453.5,173.3 454.5,172.9 455.5,172.8 456.5,172.9 457.5,172.6 458.5,172 459.5,171.7 460.5,171.6 461.5,171.6 462.5,171.5 463.5,171.2 464.5,170.6 465.5,170.3 466.5,170.4 467.5,170.3 468.5,169.9 469.5,169.4 470.5,168.8 471.5,168.5 472.5,168.5 473.5,168.4 474.5,168 475.5,167.9 476.5,168.1 477.5,167.8 478.5,167.5 479.5,167.4 480.5,167 481.5,166.8 482.5,166.7 483.5,166.6 484.5,166.3 485.5,166 486.5,165.9 487.5,165.8 488.5,165.8 489.5,165.8 490.5,165.7 491.5,165.4 492.5,165.3 493.5,165.5 494.5,165.3 495.5,164.9 496.5,165 497.5,165 498.5,164.6 499.5,164.6 500.5,164.8 501.5,164.6 502.5,164.6 503.5,164.8 504.5,164.4 505.5,163.9 506.5,163.7 507.5,163.7 508.5,164.1 509.5,164.7 510.5,164.6 511.5,164.4 512.5,164.7 513.5,164.8 514.5,164.6 515.5,164.8 516.5,164.9 517.5,164.8 518.5,164.9 519.5,165.4 520.5,166.1 521.5,166.5 522.5,167 523.5,167.5 524.5,167.8 525.5,168.2 526.5,168.6 527.5,168.7 528.5,169 529.5,169.4 530.5,169.6 531.5,169.8 532.5,170.4 533.5,171 534.5,171.5 535.5,171.6 536.5,171.6 537.5,171.6 538.5,171.6 539.5,172.2 540.5,173.1 541.5,173.6 542.5,173.6 543.5,173.6 544.5,173.8 545.5,173.8 546.5,173.6 547.5,173.9 548.5,174.6 549.5,174.9 550.5,174.9 551.5,174.8 552.5,174.9 553.5,175 554.5,175 555.5,175.2 556.5,175.6 557.5,176 558.5,176.3 559.5,176.9 560.5,176.9 561.5,176.8 562.5,176.9 563.5,177 564.5,177.4 565.5,177.7 566.5,177.7 567.5,178.1 568.5,178.4 569.5,178.2 570.5,178.4 571.5,178.9 572.5,179.1 573.5,179.2 574.5,179.1 575.5,179.1 576.5,179.3 577.5,179.5 578.5,179.5 579.5,179.7 580.5,180.1 581.5,179.9 582.5,179.5 583.5,179.6 584.5,179.7 585.5,179.7 586.5,179.9 587.5,180.1 588.5,180.2 589.5,180.1 590.5,180 591.5,180.4 592.5,180.7 593.5,180.7 594.5,181 595.5,181.1 596.5,181.1 597.5,181.2 598.5,181.2 599.5,181.2 600.5,181.3 601.5,181.8 602.5,182 603.5,182 604.5,181.9 605.5,181.8"/>
<polyline stroke="#C0C0C0" points="269.5,268 269.5,197.8 270.5,196.9 271.5,195.7 272.5,197.1 273.5,198 274.5,198.2 275.5,198.1 276.5,197.8 277.5,198.7 278.5,197.7 279.5,196.9 280.5,195.5 281.5,194.1 282.5,193.8 283.5,191.9 284.5,191.8 285.5,190.5 286.5,189.6 287.5,188.5 288.5,187.4 289.5,187.1 290.5,186.9 291.5,186.5 292.5,185.8 293.5,184.6 294.5,184 295.5,183.2 296.5,182.3 297.5,180.9 298.5,180.3 299.5,179.8 300.5,179.4 301.5,178.4 302.5,177.2 303.5,176.3 304.5,175.4 305.5,174.2 306.5,173.2 307.5,172.3 308.5,171.3 309.5,170.4 310.5,169.7 311.5,169 312.5,168.2 313.5,167.5 314.5,167 315.5,166 316.5,165.2 317.5,164.6 318.5,163.9 319.5,162.9 320.5,161.7 321.5,160.7 322.5,160 323.5,159.5 324.5,159 325.5,158.6 326.5,158.3 327.5,157.9 328.5,157.7 329.5,157.1 330.5,156.4 331.5,155.6 332.5,155 333.5,155 334.5,154.9 335.5,154 336.5,153.6 337.5,153.6 338.5,153 339.5,152.4 340.5,152.2 341.5,151.5 342.5,151 343.5,150.8 344.5,150.5 345.5,150.4 346.5,150.4 347.5,150.1 348.5,149.7 349.5,149.7 350.5,149.9 351.5,149.7 352.5,149.4 353.5,149.5 354.5,149.5 355.5,149.2 356.5,149.1 357.5,149.3 358.5,149.4 359.5,149.1 360.5,149 361.5,149.5 362.5,150.2 363.5,150.5 364.5,150.7 365.5,150.9 366.5,151 367.5,151.2 368.5,151.6 369.5,152.1 370.5,152.4 371.5,152.4 372.5,152.5 373.5,152.9 374.5,153.2 375.5,153.7 376.5,154.3 377.5,154.5 378.5,155 379.5,155.9 380.5,156.4 381.5,156.6 382.5,157.1 383.5,157.6 384.5,157.6 385.5,157.6 386.5,158.4 387.5,159.5 388.5,160 389.5,160.2 390.5,160.7 391.5,161.4 392.5,162 393.5,162.9 394.5,163.7 395.5,163.9 396.5,164.2 397.5,164.6 398.5,165.1 399.5,165.6 400.5,166.3 401.5,167 402.5,167.7 403.5,168.2 404.5,168.8 405.5,169.6 406.5,169.9 407.5,170.7 408.5,171.6 409.5,171.9 410.5,172.7 411.5,173.4 412.5,173.4 413.5,173.7 414.5,174.7 415.5,175.3 416.5,175.9 417.5,176.6 418.5,177.2 419.5,177.9 420.5,178.5 421.5,179 422.5,179.4 423.5,179.9 424.5,180.5 425.5,181.1 426.5,181.8 427.5,182.4 428.5,183 429.5,183.6 430.5,183.6 431.5,183.6 432.5,184.2 433.5,185 434.5,185.6 435.5,186 436.5,186.1 437.5,186.2 438.5,186.2 439.5,186.4 440.5,186.9 441.5,187.2 442.5,187.1 443.5,186.9 444.5,186.8 445.5,186.7 446.5,186.6 447.5,186.4 448.5,186.5 449.5,186.7 450.5,186.5 451.5,185.9 452.5,185.4 453.5,185.2 454.5,184.9 455.5,184.4 456.5,183.9 457.5,183.6 458.5,183.6 459.5,183.3 460.5,182.9 461.5,182.6 462.5,182.7 463.5,182.6 464.5,182.4 465.5,182.2 466.5,182.1 467.5,181.7 468.5,181 469.5,180.5 470.5,180 471.5,180 472.5,180.1 473.5,179.9 474.5,180.1 475.5,180 476.5,179.5 477.5,179.1 478.5,178.5 479.5,178.2 480.5,178.3 481.5,178.3 482.5,178 483.5,178 484.5,178.2 485.5,178 486.5,177.7 487.5,177.5 488.5,177.2 489.5,176.9 490.5,176.4 491.5,176.4 492.5,176.6 493.5,176.1 494.5,175.6 495.5,175.5 496.5,175.8 497.5,176.3 498.5,176.4 499.5,176.3 500.5,176.2 501.5,175.9 502.5,175.5 503.5,175.2 504.5,175 505.5,174.9 506.5,174.8 507.5,174.9 508.5,175.2 509.5,175.1 510.5,174.6 511.5,174.4 512.5,174.8 513.5,175.1 514.5,174.8 515.5,174.6 516.5,175.2 517.5,175.4 518.5,175.4 519.5,175.8 520.5,176.1 521.5,177 522.5,177.9 523.5,178.2 524.5,178.3 525.5,178.5 526.5,179.2 527.5,180 528.5,180.2 529.5,180 530.5,180.2 531.5,180.9 532.5,181.6 533.5,181.8 534.5,181.9 535.5,181.9 536.5,182 537.5,182.7 538.5,182.8 539.5,182.7 540.5,182.9 541.5,183.1 542.5,183.2 543.5,183.5 544.5,184.2 545.5,184.6 546.5,184.7 547.5,184.7 548.5,184.8 549.5,185.2 550.5,185.6 551.5,185.7 552.5,185.6 553.5,185.4 554.5,185.4 555.5,185.7 556.5,186 557.5,186.1 558.5,186.5 559.5,187.2 560.5,187.1 561.5,186.6 562.5,186.7 563.5,187.2 564.5,187.8 565.5,188.2 566.5,188.1 567.5,188.3 568.5,188.7 569.5,189.1 570.5,189.4 571.5,189.4 572.5,189.4 573.5,189.4 574.5,189.2 575.5,189.3 576.5,189.7 577.5,189.9 578.5,189.9 579.5,190 580.5,190 581.5,189.9 582.5,190.2 583.5,190.6 584.5,190.7 585.5,190.7 586.5,190.3 587.5,190.2 588.5,190.7 589.5,190.9 590.5,190.9 591.5,191.1 592.5,191.5 593.5,191.5 594.5,191.3 595.5,191 596.5,190.9 597.5,191.3 598.5,191.8 599.5,191.9 600.5,191.5 601.5,191.3 602.5,191.7 603.5,191.8 604.5,191.5 605.5,191.7"/>
<polyline stroke="#808080" points="269.5,268 269.5,201.8 270.5,202.6 271.5,202.7 272.5,204 273.5,204.4 274.5,203.9 275.5,203.6 276.5,205.1 277.5,203.4 278.5,203.6 279.5,202.4 280.5,201.6 281.5,201.3 282.5,198.1 283.5,197.4 284.5,196.9 285.5,196.6 286.5,195.5 287.5,194.9 288.5,194.2 289.5,192.9 290.5,193.2 291.5,193.3 292.5,192.5 293.5,191.6 294.5,190.3 295.5,189.2 296.5,188.6 297.5,187.8 298.5,186.8 299.5,186.1 300.5,185.9 301.5,184.8 302.5,183.4 303.5,182.8 304.5,182.6 305.5,181.7 306.5,180.4 307.5,179.6 308.5,178.8 309.5,177.6 310.5,176.3 311.5,175.5 312.5,174.7 313.5,173.7 314.5,172.7 315.5,172.2 316.5,171.8 317.5,170.9 318.5,170.1 319.5,169.4 320.5,168.2 321.5,167.1 322.5,166.4 323.5,166 324.5,165.2 325.5,164.2 326.5,164 327.5,164.2 328.5,163.8 329.5,163.1 330.5,162.5 331.5,161.7 332.5,161 333.5,160.7 334.5,160.3 335.5,160.2 336.5,160.1 337.5,159.9 338.5,159.8 339.5,159.4 340.5,158.4 341.5,157.8 342.5,157.4 343.5,156.9 344.5,156.7 345.5,156.5 346.5,156.2 347.5,156.3 348.5,156.1 349.5,155.3 350.5,154.8 351.5,154.9 352.5,155 353.5,155 354.5,155 355.5,155.3 356.5,155.6 357.5,155.6 358.5,155.2 359.5,154.8 360.5,154.5 361.5,154.7 362.5,155.5 363.5,156 364.5,156.2 365.5,156.2 366.5,156.2 367.5,156.3 368.5,156.9 369.5,157.5 370.5,157.8 371.5,158.2 372.5,158.6 373.5,159.1 374.5,159.6 375.5,160.1 376.5,160.5 377.5,160.4 378.5,160.6 379.5,161.1 380.5,161.8 381.5,162.5 382.5,163 383.5,163.5 384.5,164 385.5,164.5 386.5,164.9 387.5,165.1 388.5,165.7 389.5,166.4 390.5,166.6 391.5,167.2 392.5,168 393.5,168.2 394.5,168.2 395.5,169 396.5,170.1 397.5,170.7 398.5,171.6 399.5,172.2 400.5,172.5 401.5,172.8 402.5,173.2 403.5,173.6 404.5,174.4 405.5,175 406.5,175.4 407.5,176 408.5,176.9 409.5,177.3 410.5,177.2 411.5,177.7 412.5,178.7 413.5,179.6 414.5,180.4 415.5,181.3 416.5,182.3 417.5,182.8 418.5,183.1 419.5,183.6 420.5,184.4 421.5,185.2 422.5,185.7 423.5,186.2 424.5,187 425.5,187.6 426.5,187.4 427.5,187.6 428.5,188.7 429.5,189.4 430.5,189.5 431.5,190.2 432.5,191 433.5,190.8 434.5,190.6 435.5,191.1 436.5,191.6 437.5,191.7 438.5,192 439.5,192.3 440.5,192.5 441.5,192.7 442.5,192.7 443.5,192.5 444.5,192.5 445.5,192.5 446.5,192.6 447.5,192.3 448.5,191.8 449.5,191.4 450.5,191.3 451.5,191.3 452.5,191.5 453.5,191.3 454.5,190.6 455.5,189.9 456.5,189.6 457.5,189.6 458.5,189.5 459.5,189.6 460.5,189.3 461.5,189 462.5,188.7 463.5,188.5 464.5,188.2 465.5,187.7 466.5,187.6 467.5,187.6 468.5,187.2 469.5,186.7 470.5,186.3 471.5,186.2 472.5,186.1 473.5,185.5 474.5,185 475.5,185.1 476.5,185.1 477.5,185 478.5,185 479.5,184.7 480.5,184 481.5,183.7 482.5,183.8 483.5,183.6 484.5,183.5 485.5,183.1 486.5,182.7 487.5,183.1 488.5,183.3 489.5,182.7 490.5,182.2 491.5,182.1 492.5,181.9 493.5,181.8 494.5,181.8 495.5,181.3 496.5,180.9 497.5,181.1 498.5,181.1 499.5,180.8 500.5,180.8 501.5,181 502.5,180.8 503.5,180.4 504.5,180.3 505.5,180.4 506.5,180.3 507.5,180 508.5,179.7 509.5,179.7 510.5,179.8 511.5,180.1 512.5,180.4 513.5,180.5 514.5,180.3 515.5,180.2 516.5,180.2 517.5,180.5 518.5,180.7 519.5,181 520.5,181.4 521.5,182 522.5,182.8 523.5,183.6 524.5,183.8 525.5,183.8 526.5,184.2 527.5,184.6 528.5,185.1 529.5,185.9 530.5,186.3 531.5,186 532.5,186.1 533.5,186.6 534.5,187 535.5,187.3 536.5,187.2 537.5,187.5 538.5,188.1 539.5,188.4 540.5,188.1 541.5,188.3 542.5,189.1 543.5,189.6 544.5,189.5 545.5,189.3 546.5,189.5 547.5,189.9 548.5,190.1 549.5,190.2 550.5,190.5 551.5,190.8 552.5,190.7 553.5,190.7 554.5,190.9 555.5,191.2 556.5,191.5 557.5,191.7 558.5,192 559.5,192.5 560.5,192.6 561.5,192.7 562.5,192.9 563.5,192.9 564.5,193 565.5,193.1 566.5,193.2 567.5,193.4 568.5,193.5 569.5,193.5 570.5,193.8 571.5,194.3 572.5,194.6 573.5,195 574.5,195.5 575.5,195.3 576.5,195 577.5,195.1 578.5,195.3 579.5,195.4 580.5,195.6 581.5,195.7 582.5,195.5 583.5,195.7 584.5,195.7 585.5,195.6 586.5,195.9 587.5,196 588.5,196.1 589.5,196.6 590.5,196.5 591.5,196.1 592.5,195.9 593.5,196.1 594.5,196.3 595.5,196.3 596.5,196 597.5,196.1 598.5,196.3 599.5,196.6 600.5,196.7 601.5,196.8 602.5,197.3 603.5,197.5 604.5,197.1 605.5,196.8"/>
<polyline stroke="#FFFF80" points="269.5,268 269.5,216.9 270.5,217.9 271.5,218.8 272.5,216.8 273.5,221.5 274.5,221.6 275.5,221.7 276.5,220.8 277.5,220.3 278.5,219.8 279.5,218 280.5,218 281.5,216.8 282.5,215.2 283.5,213.3 284.5,214.1 285.5,213 286.5,212.3 287.5,211.7 288.5,210.7 289.5,209.3 290.5,208.3 291.5,207.8 292.5,207.8 293.5,207 294.5,206.1 295.5,204.9 296.5,204.2 297.5,203.8 298.5,203.5 299.5,202.8 300.5,201.9 301.5,200.7 302.5,199.7 303.5,198.9 304.5,198.2 305.5,197.3 306.5,196.2 307.5,195.7 308.5,195.1 309.5,194 310.5,193 311.5,192.1 312.5,191.3 313.5,190.2 314.5,189.1 315.5,188.5 316.5,187.9 317.5,187 318.5,186 319.5,185.1 320.5,184.1 321.5,183 322.5,182.1 323.5,181.8 324.5,181.6 325.5,180.7 326.5,180.1 327.5,180 328.5,179.6 329.5,179.1 330.5,178.8 331.5,178.4 332.5,177.7 333.5,177.3 334.5,177.2 335.5,176.6 336.5,175.8 337.5,175.6 338.5,175.2 339.5,174.6 340.5,174.4 341.5,174.3 342.5,174.1 343.5,173.6 344.5,173.1 345.5,173.1 346.5,172.8 347.5,172.2 348.5,171.8 349.5,171.7 350.5,171.5 351.5,171 352.5,170.6 353.5,170.5 354.5,170.6 355.5,170.3 356.5,170.5 357.5,171 358.5,171.1 359.5,171 360.5,171.1 361.5,171.2 362.5,171.3 363.5,172 364.5,172.7 365.5,172.9 366.5,173.1 367.5,173.5 368.5,173.8 369.5,174 370.5,174.2 371.5,174.2 372.5,174 373.5,174.1 374.5,175 375.5,175.9 376.5,176.2 377.5,176.2 378.5,176.6 379.5,177.1 380.5,177.4 381.5,178 382.5,178.6 383.5,179.3 384.5,179.9 385.5,180.3 386.5,180.9 387.5,181.6 388.5,181.9 389.5,182.3 390.5,182.9 391.5,183.3 392.5,183.7 393.5,184 394.5,184 395.5,184.4 396.5,185.4 397.5,186.2 398.5,187.1 399.5,187.8 400.5,187.9 401.5,188.5 402.5,189.2 403.5,189.6 404.5,189.9 405.5,190.6 406.5,191.6 407.5,192.7 408.5,193.4 409.5,193.5 410.5,194 411.5,194.9 412.5,195.2 413.5,195.5 414.5,196.2 415.5,197 416.5,197.5 417.5,197.9 418.5,198.8 419.5,200 420.5,200.7 421.5,200.9 422.5,201.3 423.5,201.9 424.5,202.5 425.5,202.9 426.5,203.3 427.5,203.7 428.5,204.1 429.5,204.8 430.5,205.2 431.5,205.6 432.5,206 433.5,206.4 434.5,206.6 435.5,206.8 436.5,207.3 437.5,208 438.5,208.3 439.5,208.3 440.5,208.3 441.5,208.7 442.5,209.3 443.5,209 444.5,208.5 445.5,208.3 446.5,208.2 447.5,207.9 448.5,207.6 449.5,207.5 450.5,207.2 451.5,207.2 452.5,207.6 453.5,207.2 454.5,206.3 455.5,205.8 456.5,205.4 457.5,205.1 458.5,205 459.5,205 460.5,204.8 461.5,204.8 462.5,204.5 463.5,204.2 464.5,204.4 465.5,204 466.5,203.6 467.5,203.7 468.5,203.2 469.5,202.5 470.5,202.1 471.5,201.7 472.5,201.5 473.5,202 474.5,201.7 475.5,201 476.5,200.5 477.5,200.4 478.5,200.5 479.5,200.3 480.5,200.1 481.5,200.1 482.5,199.7 483.5,199.5 484.5,199.4 485.5,199.2 486.5,199 487.5,198.8 488.5,198.7 489.5,198.6 490.5,198.2 491.5,197.9 492.5,198 493.5,197.9 494.5,197.7 495.5,197.2 496.5,196.8 497.5,196.9 498.5,196.9 499.5,196.7 500.5,196.3 501.5,195.8 502.5,195.8 503.5,196 504.5,195.6 505.5,195.3 506.5,195.4 507.5,195.6 508.5,195.8 509.5,195.9 510.5,196 511.5,195.8 512.5,195.3 513.5,195.1 514.5,195.2 515.5,195.1 516.5,195.1 517.5,195.6 518.5,195.8 519.5,195.8 520.5,196.2 521.5,197.2 522.5,198.1 523.5,198.5 524.5,198.7 525.5,198.9 526.5,199.5 527.5,200 528.5,200.2 529.5,200.6 530.5,201 531.5,201.2 532.5,201.5 533.5,201.8 534.5,202.4 535.5,203 536.5,203.2 537.5,203.6 538.5,203.5 539.5,203.1 540.5,203.6 541.5,204.4 542.5,204.4 543.5,204.2 544.5,204.3 545.5,204.3 546.5,204.4 547.5,204.9 548.5,205.5 549.5,206 550.5,206.1 551.5,206 552.5,205.7 553.5,205.6 554.5,206.4 555.5,206.8 556.5,206.5 557.5,206.4 558.5,207.1 559.5,207.5 560.5,207.3 561.5,207.3 562.5,207.8 563.5,208.5 564.5,208.8 565.5,208.7 566.5,208.7 567.5,208.8 568.5,208.9 569.5,208.9 570.5,208.9 571.5,209.1 572.5,209.4 573.5,209.7 574.5,209.8 575.5,209.7 576.5,210.2 577.5,210.8 578.5,210.8 579.5,210.4 580.5,210 581.5,210.4 582.5,210.9 583.5,210.8 584.5,210.6 585.5,210.7 586.5,210.9 587.5,210.8 588.5,210.5 589.5,210.9 590.5,211.7 591.5,211.9 592.5,211.5 593.5,211.5 594.5,211.8 595.5,211.6 596.5,211.3 597.5,211.7 598.5,212.3 599.5,212.4 600.5,212.2 601.5,212.2 602.5,212.4 603.5,212.6 604.5,212.7 605.5,212.6"/>
<polyline stroke="#80FFFF" points="269.5,268 269.5,211.2 270.5,213.4 271.5,212.8 272.5,212.9 273.5,214.9 274.5,214.5 275.5,216.2 276.5,216.2 277.5,216.1 278.5,215.1 279.5,211.4 280.5,212.2 281.5,211.2 282.5,208.3 283.5,209.2 284.5,206.8 285.5,207.6 286.5,205.7 287.5,205 288.5,204.3 289.5,204.3 290.5,202.9 291.5,202.1 292.5,200.7 293.5,200.7 294.5,200.1 295.5,200.1 296.5,200 297.5,199.4 298.5,198.2 299.5,196.4 300.5,195.2 301.5,194.5 302.5,194 303.5,193.5 304.5,192.5 305.5,191.4 306.5,190.8 307.5,190 308.5,188.9 309.5,187.8 310.5,186.7 311.5,185.8 312.5,185.1 313.5,184.4 314.5,183.7 315.5,183 316.5,182 317.5,180.5 318.5,179.4 319.5,178.7 320.5,178.1 321.5,177.3 322.5,176.7 323.5,176.4 324.5,175.8 325.5,174.8 326.5,174.1 327.5,173.7 328.5,173.3 329.5,172.7 330.5,172 331.5,171.5 332.5,171.1 333.5,171.1 334.5,170.9 335.5,170.2 336.5,169.8 337.5,169.2 338.5,169.1 339.5,169.3 340.5,168.9 341.5,168 342.5,167.5 343.5,167.1 344.5,166.9 345.5,166.5 346.5,166.1 347.5,165.8 348.5,165.5 349.5,165.4 350.5,165.8 351.5,165.6 352.5,164.7 353.5,164.3 354.5,164.3 355.5,164.4 356.5,164.4 357.5,164.3 358.5,164.6 359.5,165.2 360.5,165.2 361.5,165 362.5,165.2 363.5,165.4 364.5,165.6 365.5,166 366.5,166.5 367.5,167.1 368.5,167.4 369.5,167.4 370.5,167.8 371.5,168.8 372.5,169.2 373.5,169 374.5,169.1 375.5,169.8 376.5,170.2 377.5,170.4 378.5,170.9 379.5,171.3 380.5,171.6 381.5,171.9 382.5,172.2 383.5,172.7 384.5,173.4 385.5,174 386.5,174.1 387.5,174.6 388.5,175.3 389.5,176 390.5,176.5 391.5,177 392.5,177.7 393.5,178.1 394.5,178.7 395.5,179.5 396.5,179.6 397.5,179.5 398.5,180.1 399.5,181.1 400.5,181.9 401.5,182.7 402.5,183.4 403.5,183.7 404.5,183.9 405.5,184.3 406.5,184.6 407.5,185.2 408.5,185.6 409.5,186.2 410.5,187.4 411.5,188.2 412.5,188.6 413.5,188.6 414.5,189.1 415.5,190 416.5,190.8 417.5,191.5 418.5,192 419.5,192.6 420.5,193.4 421.5,194.4 422.5,194.7 423.5,195.1 424.5,196.1 425.5,196.8 426.5,197.2 427.5,197.6 428.5,197.9 429.5,198.1 430.5,198 431.5,198.4 432.5,199.2 433.5,200.3 434.5,200.9 435.5,200.9 436.5,201.1 437.5,201.6 438.5,201.8 439.5,202.1 440.5,202.1 441.5,201.9 442.5,202.3 443.5,202.3 444.5,201.9 445.5,201.6 446.5,201.8 447.5,202.6 448.5,202.8 449.5,202.4 450.5,201.7 451.5,201.2 452.5,201.4 453.5,201.6 454.5,201 455.5,200.2 456.5,200 457.5,199.9 458.5,199.5 459.5,199 460.5,198.6 461.5,198.4 462.5,198.2 463.5,198.1 464.5,198 465.5,197.7 466.5,197.2 467.5,196.7 468.5,196.3 469.5,196.2 470.5,196.1 471.5,195.8 472.5,195.5 473.5,195.1 474.5,194.8 475.5,194.2 476.5,193.9 477.5,194.2 478.5,194.1 479.5,193.9 480.5,193.9 481.5,193.5 482.5,193.4 483.5,193.3 484.5,193.1 485.5,193.1 486.5,192.8 487.5,192.1 488.5,191.4 489.5,191.2 490.5,191.6 491.5,191.9 492.5,191.6 493.5,191.1 494.5,190.9 495.5,191.1 496.5,190.9 497.5,190.4 498.5,190.2 499.5,190 500.5,189.4 501.5,189.4 502.5,189.7 503.5,189.6 504.5,189.2 505.5,189.2 506.5,189.2 507.5,189.2 508.5,189.1 509.5,188.6 510.5,188.2 511.5,188.1 512.5,188 513.5,188.3 514.5,189 515.5,189.2 516.5,189.1 517.5,188.9 518.5,188.8 519.5,189.2 520.5,190 521.5,190.5 522.5,190.8 523.5,191.4 524.5,192.4 525.5,192.7 526.5,192.7 527.5,193.1 528.5,193.7 529.5,193.9 530.5,193.8 531.5,193.6 532.5,193.6 533.5,193.8 534.5,194.3 535.5,195.3 536.5,195.9 537.5,196.1 538.5,196.5 539.5,196.9 540.5,196.7 541.5,196.9 542.5,197.8 543.5,198.1 544.5,198 545.5,198.4 546.5,198.3 547.5,198 548.5,197.9 549.5,197.9 550.5,198.2 551.5,198.6 552.5,199.4 553.5,199.5 554.5,199.3 555.5,199.5 556.5,199.6 557.5,200.1 558.5,200.6 559.5,200.5 560.5,200.5 561.5,200.8 562.5,201.1 563.5,201.6 564.5,202.3 565.5,202.7 566.5,202.5 567.5,202 568.5,201.9 569.5,202.4 570.5,202.4 571.5,202.1 572.5,202.7 573.5,203.3 574.5,203 575.5,202.8 576.5,203.2 577.5,203.6 578.5,203.6 579.5,203.4 580.5,203.4 581.5,203.8 582.5,203.9 583.5,203.8 584.5,204.1 585.5,204.1 586.5,203.6 587.5,203.4 588.5,203.6 589.5,203.4 590.5,203.2 591.5,204 592.5,204.7 593.5,204.8 594.5,204.5 595.5,204 596.5,204.6 597.5,205.6 598.5,205.6 599.5,205 600.5,204.9 601.5,205.1 602.5,205 603.5,204.9 604.5,204.9 605.5,205.4"/>
<polyline stroke="#FF80FF" points="269.5,268 269.5,214.1 270.5,215.9 271.5,217.3 272.5,220 273.5,222.1 274.5,221.7 275.5,220.7 276.5,220.2 277.5,220.3 278.5,218.9 279.5,217.6 280.5,215.4 281.5,216.2 282.5,213.3 283.5,213 284.5,212 285.5,210.9 286.5,211.1 287.5,210.2 288.5,208.9 289.5,208.5 290.5,207.4 291.5,207.8 292.5,206.7 293.5,205.2 294.5,203.9 295.5,204.4 296.5,203.7 297.5,202.5 298.5,201.9 299.5,201.7 300.5,201.1 301.5,200 302.5,199.3 303.5,198.8 304.5,197.8 305.5,196.3 306.5,195.4 307.5,194.9 308.5,193.8 309.5,192.6 310.5,191.8 311.5,191 312.5,190 313.5,189 314.5,187.9 315.5,187.1 316.5,186.9 317.5,186.5 318.5,185.4 319.5,184.1 320.5,183.2 321.5,182.6 322.5,181.5 323.5,180.3 324.5,179.7 325.5,179.2 326.5,178.7 327.5,178.6 328.5,178.6 329.5,178.1 330.5,177.5 331.5,177.3 332.5,176.5 333.5,175.7 334.5,175.3 335.5,175 336.5,174.7 337.5,174.5 338.5,173.8 339.5,173.5 340.5,173.3 341.5,172.9 342.5,172.5 343.5,171.8 344.5,170.9 345.5,170.4 346.5,170.4 347.5,170.9 348.5,170.7 349.5,170 350.5,169.7 351.5,169.8 352.5,169.7 353.5,169.5 354.5,169.1 355.5,169.2 356.5,169.7 357.5,169.5 358.5,169.7 359.5,169.9 360.5,169.6 361.5,170 362.5,170.4 363.5,170.5 364.5,170.5 365.5,170.2 366.5,170.6 367.5,171.6 368.5,172.1 369.5,172.4 370.5,172.8 371.5,172.9 372.5,173.1 373.5,173.7 374.5,174.1 375.5,174.4 376.5,174.6 377.5,174.6 378.5,174.8 379.5,175.4 380.5,176.1 381.5,176.8 382.5,177.6 383.5,177.8 384.5,178.2 385.5,178.9 386.5,179.1 387.5,179.4 388.5,179.8 389.5,179.9 390.5,180.2 391.5,180.9 392.5,181.4 393.5,181.8 394.5,182.5 395.5,183 396.5,183.2 397.5,183.6 398.5,184.8 399.5,186 400.5,186.6 401.5,186.9 402.5,187.4 403.5,187.8 404.5,188.1 405.5,188.6 406.5,189.2 407.5,189.6 408.5,190.4 409.5,191.5 410.5,192.2 411.5,192.5 412.5,192.9 413.5,193.3 414.5,193.4 415.5,193.7 416.5,194.8 417.5,196.3 418.5,197 419.5,197.8 420.5,198.9 421.5,199 422.5,198.9 423.5,199.5 424.5,200.6 425.5,201.3 426.5,201.5 427.5,202.1 428.5,202.7 429.5,202.8 430.5,203 431.5,203.2 432.5,203.6 433.5,203.9 434.5,204.7 435.5,205.8 436.5,205.9 437.5,205.9 438.5,206.5 439.5,207.1 440.5,207.2 441.5,207.1 442.5,206.8 443.5,206.5 444.5,206.4 445.5,206.4 446.5,206.5 447.5,206.8 448.5,206.6 449.5,206.1 450.5,205.2 451.5,204.5 452.5,204.7 453.5,205.2 454.5,204.6 455.5,203.3 456.5,203 457.5,203.5 458.5,203.4 459.5,203.2 460.5,203.1 461.5,202.7 462.5,202 463.5,202 464.5,202.2 465.5,201.8 466.5,201.2 467.5,201.1 468.5,200.8 469.5,200.4 470.5,200.4 471.5,200.3 472.5,200 473.5,199.6 474.5,199.2 475.5,199.1 476.5,198.8 477.5,198.2 478.5,198.3 479.5,198.4 480.5,197.9 481.5,197.5 482.5,197.2 483.5,197.2 484.5,197.7 485.5,198 486.5,197.5 487.5,197 488.5,196.5 489.5,195.9 490.5,195.4 491.5,195.3 492.5,195.6 493.5,195.1 494.5,194.5 495.5,194.4 496.5,194.4 497.5,194.3 498.5,194.2 499.5,194.3 500.5,194.2 501.5,193.6 502.5,193.3 503.5,193.2 504.5,193.2 505.5,193.6 506.5,193.3 507.5,192.8 508.5,192.8 509.5,192.8 510.5,192.7 511.5,192.5 512.5,192.4 513.5,192.4 514.5,192.3 515.5,192.2 516.5,192.3 517.5,192.9 518.5,193.4 519.5,193.5 520.5,193.9 521.5,194.4 522.5,194.9 523.5,195.7 524.5,195.8 525.5,195.4 526.5,195.7 527.5,196.5 528.5,197.5 529.5,197.8 530.5,197.6 531.5,197.9 532.5,198.5 533.5,199 534.5,199.6 535.5,200.2 536.5,200.4 537.5,200.8 538.5,200.9 539.5,200.7 540.5,200.6 541.5,201 542.5,201.6 543.5,202.1 544.5,202.1 545.5,201.9 546.5,201.9 547.5,202.5 548.5,202.9 549.5,203 550.5,202.8 551.5,202.9 552.5,203.3 553.5,203.5 554.5,203.7 555.5,204.1 556.5,204.2 557.5,204.4 558.5,204.6 559.5,204.5 560.5,204.5 561.5,204.8 562.5,205.3 563.5,205.4 564.5,205.6 565.5,206.1 566.5,206.3 567.5,206.3 568.5,206.6 569.5,207 570.5,206.9 571.5,206.9 572.5,206.9 573.5,206.4 574.5,206.4 575.5,207.2 576.5,207.8 577.5,207.7 578.5,207.4 579.5,207.6 580.5,207.9 581.5,207.6 582.5,207.5 583.5,208 584.5,208.3 585.5,208.4 586.5,208.7 587.5,208.9 588.5,208.6 589.5,208 590.5,207.7 591.5,208.2 592.5,208.7 593.5,209.2 594.5,209.3 595.5,209.3 596.5,209.3 597.5,209.1 598.5,208.8 599.5,208.7 600.5,208.9 601.5,209.4 602.5,209.5 603.5,209.4 604.5,209.9 605.5,210.4"/>
<polyline stroke="#404040" points="269.5,268 269.5,216.8 270.5,219.4 271.5,216.5 272.5,220.3 273.5,223.2 274.5,222.9 275.5,225.5 276.5,222.6 277.5,223.3 278.5,221.8 279.5,219.7 280.5,218.9 281.5,219.3 282.5,219 283.5,216.2 284.5,214.6 285.5,216.2 286.5,211.8 287.5,211.6 288.5,211.7 289.5,210.4 290.5,210.4 291.5,209.6 292.5,208.6 293.5,208.9 294.5,207.8 295.5,206.9 296.5,206.5 297.5,205.8 298.5,205.2 299.5,204.1 300.5,203.2 301.5,202.1 302.5,200.9 303.5,200.4 304.5,200 305.5,199.4 306.5,198.4 307.5,197.1 308.5,196.1 309.5,195.5 310.5,194.7 311.5,193.5 312.5,192 313.5,191.2 314.5,191.1 315.5,190.3 316.5,189.2 317.5,188.5 318.5,187.6 319.5,186.8 320.5,186 321.5,184.7 322.5,183.4 323.5,182.6 324.5,182.5 325.5,182.4 326.5,182 327.5,181.4 328.5,180.9 329.5,180.4 330.5,179.7 331.5,179.4 332.5,179.1 333.5,178.8 334.5,178.7 335.5,178.3 336.5,177.8 337.5,177.2 338.5,176.7 339.5,176.6 340.5,176.1 341.5,175.2 342.5,174.4 343.5,173.9 344.5,173.7 345.5,173.6 346.5,173.4 347.5,173.2 348.5,173 349.5,172.5 350.5,171.8 351.5,171.7 352.5,171.5 353.5,171.4 354.5,171.8 355.5,172 356.5,171.4 357.5,171.1 358.5,172.2 359.5,173 360.5,172.6 361.5,172.4 362.5,172.7 363.5,173.3 364.5,173.7 365.5,173.7 366.5,173.7 367.5,173.7 368.5,173.7 369.5,174 370.5,174.4 371.5,174.8 372.5,175 373.5,175.1 374.5,175.7 375.5,176.1 376.5,176.1 377.5,176.3 378.5,176.7 379.5,177.4 380.5,178.2 381.5,178.6 382.5,179.3 383.5,179.9 384.5,180.1 385.5,180.6 386.5,181.3 387.5,181.7 388.5,182.1 389.5,182.7 390.5,183.5 391.5,183.6 392.5,183.8 393.5,184.8 394.5,185.8 395.5,186.2 396.5,186.3 397.5,186.9 398.5,187.4 399.5,187.8 400.5,188.5 401.5,189 402.5,189.7 403.5,190.4 404.5,190.8 405.5,191.8 406.5,192.9 407.5,193.3 408.5,193.2 409.5,193.1 410.5,193.4 411.5,194.7 412.5,195.7 413.5,195.4 414.5,195.8 415.5,197.1 416.5,197.7 417.5,197.8 418.5,198.7 419.5,199.4 420.5,199.9 421.5,200.7 422.5,201.4 423.5,202.2 424.5,202.8 425.5,202.7 426.5,203 427.5,203.8 428.5,204.6 429.5,205 430.5,205.4 431.5,206.1 432.5,206.6 433.5,206.7 434.5,207.1 435.5,207.6 436.5,208 437.5,208.6 438.5,209 439.5,208.8 440.5,208.4 441.5,208 442.5,208.6 443.5,209.2 444.5,209.1 445.5,209 446.5,208.8 447.5,208.8 448.5,208.5 449.5,207.9 450.5,207.8 451.5,207.6 452.5,207 453.5,206.7 454.5,206.9 455.5,207.1 456.5,207.1 457.5,206.8 458.5,206.1 459.5,205.5 460.5,205.4 461.5,205.3 462.5,205.4 463.5,205.4 464.5,204.8 465.5,204.4 466.5,204 467.5,203.1 468.5,202.6 469.5,202.8 470.5,202.7 471.5,202.5 472.5,202.3 473.5,201.8 474.5,201.5 475.5,201.5 476.5,201.5 477.5,201.3 478.5,200.9 479.5,200.1 480.5,199.7 481.5,199.8 482.5,199.5 483.5,199.7 484.5,200.1 485.5,199.2 486.5,198.6 487.5,198.8 488.5,198.5 489.5,198 490.5,198 491.5,198 492.5,197.8 493.5,197.5 494.5,197.2 495.5,196.8 496.5,196.6 497.5,196.5 498.5,196.3 499.5,195.9 500.5,195.9 501.5,196 502.5,195.2 503.5,194.9 504.5,195.2 505.5,195 506.5,194.7 507.5,195 508.5,195.1 509.5,194.5 510.5,194.2 511.5,194.2 512.5,194 513.5,194.1 514.5,194.2 515.5,194.2 516.5,194.4 517.5,194.5 518.5,194.8 519.5,196.1 520.5,196.7 521.5,196.4 522.5,197.1 523.5,198.1 524.5,198.1 525.5,198.3 526.5,198.4 527.5,198.4 528.5,198.9 529.5,199.3 530.5,199.5 531.5,199.8 532.5,200.1 533.5,200.2 534.5,201 535.5,202 536.5,202.2 537.5,202 538.5,202.1 539.5,202.9 540.5,203.6 541.5,203.5 542.5,203.1 543.5,203.1 544.5,203.4 545.5,203.8 546.5,203.7 547.5,203.7 548.5,204 549.5,204.3 550.5,204.6 551.5,204.7 552.5,204.8 553.5,205.2 554.5,205.8 555.5,205.9 556.5,205.9 557.5,206.2 558.5,206.1 559.5,206 560.5,206.7 561.5,207.6 562.5,207.8 563.5,207.7 564.5,207.2 565.5,206.9 566.5,207.6 567.5,208.2 568.5,207.9 569.5,208.1 570.5,208.7 571.5,208.7 572.5,208.8 573.5,209.1 574.5,209.1 575.5,209.2 576.5,209.3 577.5,209.2 578.5,209.5 579.5,209.7 580.5,209.4 581.5,209.3 582.5,209.5 583.5,210 584.5,210.4 585.5,210.6 586.5,210.7 587.5,210.7 588.5,210.4 589.5,210.2 590.5,210.3 591.5,210.6 592.5,211.1 593.5,211 594.5,210.6 595.5,210.4 596.5,211 597.5,211 598.5,210.4 599.5,210.3 600.5,210.6 601.5,211 602.5,211.8 603.5,211.9 604.5,211.4 605.5,211.5"/>
<polyline stroke="#000000" points="269.5,268 269.5,219.4 270.5,220.7 271.5,222.4 272.5,223.5 273.5,227.5 274.5,227.3 275.5,230.2 276.5,229.3 277.5,226.8 278.5,227.7 279.5,223.4 280.5,224.3 281.5,222.2 282.5,219.7 283.5,217.4 284.5,218.1 285.5,216.8 286.5,216.7 287.5,214.1 288.5,214.2 289.5,214.5 290.5,213.9 291.5,213.1 292.5,212.2 293.5,212.3 294.5,211.6 295.5,211.2 296.5,210.2 297.5,209.8 298.5,208.5 299.5,207.3 300.5,206.8 301.5,206.4 302.5,205.6 303.5,204.8 304.5,203.7 305.5,202.6 306.5,201.5 307.5,200.6 308.5,199.7 309.5,198.5 310.5,197.6 311.5,197.2 312.5,196.4 313.5,195.1 314.5,193.8 315.5,193.2 316.5,192.6 317.5,191.8 318.5,190.9 319.5,189.8 320.5,189.2 321.5,189 322.5,188.2 323.5,186.9 324.5,185.7 325.5,185.2 326.5,185.2 327.5,184.7 328.5,184 329.5,183.7 330.5,183.5 331.5,183.3 332.5,182.7 333.5,181.8 334.5,181.6 335.5,181.2 336.5,180.7 337.5,180.3 338.5,180 339.5,179.8 340.5,179.1 341.5,178.2 342.5,178 343.5,178 344.5,177.8 345.5,177.4 346.5,177.3 347.5,177 348.5,176.8 349.5,176.8 350.5,176.1 351.5,175.6 352.5,176 353.5,176.3 354.5,176.4 355.5,176.3 356.5,175.9 357.5,175.7 358.5,175.8 359.5,175.7 360.5,176 361.5,176.8 362.5,177.1 363.5,176.7 364.5,176.5 365.5,176.4 366.5,176.3 367.5,176.8 368.5,177.3 369.5,177.6 370.5,177.5 371.5,177.7 372.5,178.9 373.5,179.3 374.5,178.8 375.5,179.4 376.5,180.1 377.5,179.9 378.5,180.1 379.5,180.9 380.5,181.4 381.5,182.1 382.5,183.3 383.5,183.9 384.5,183.9 385.5,184 386.5,184.4 387.5,185.1 388.5,185.7 389.5,186.5 390.5,186.9 391.5,186.9 392.5,187.7 393.5,188.6 394.5,188.7 395.5,188.6 396.5,189.1 397.5,189.8 398.5,190.5 399.5,191 400.5,191.6 401.5,192.6 402.5,193.2 403.5,193.1 404.5,193.4 405.5,194.4 406.5,195.2 407.5,195.7 408.5,196.2 409.5,196.7 410.5,197.4 411.5,198.6 412.5,199.3 413.5,198.8 414.5,198.8 415.5,199.8 416.5,200.9 417.5,201.8 418.5,202.6 419.5,203.7 420.5,204.7 421.5,204.6 422.5,204.8 423.5,205.3 424.5,205.7 425.5,206.5 426.5,206.9 427.5,207 428.5,207.8 429.5,208.9 430.5,209.8 431.5,210.3 432.5,210.3 433.5,210.4 434.5,210.8 435.5,211.5 436.5,211.8 437.5,211.6 438.5,212.3 439.5,212.8 440.5,212.7 441.5,212.5 442.5,212.3 443.5,212.1 444.5,212.4 445.5,213.3 446.5,213.3 447.5,212.8 448.5,212.1 449.5,211.3 450.5,211.3 451.5,211.7 452.5,211.5 453.5,210.9 454.5,210.6 455.5,210.4 456.5,210 457.5,209.7 458.5,209.7 459.5,209.2 460.5,208.7 461.5,209.3 462.5,209.3 463.5,208.5 464.5,207.9 465.5,207.3 466.5,207.2 467.5,207.5 468.5,207.3 469.5,207 470.5,206.6 471.5,206.2 472.5,205.9 473.5,206.1 474.5,206.1 475.5,205.3 476.5,204.5 477.5,204.1 478.5,203.9 479.5,204.1 480.5,203.9 481.5,203.6 482.5,203.4 483.5,203.4 484.5,203.6 485.5,203.5 486.5,203 487.5,202 488.5,201.1 489.5,201 490.5,201.1 491.5,201.1 492.5,201.2 493.5,201.1 494.5,200.5 495.5,199.8 496.5,199.7 497.5,200 498.5,199.8 499.5,199.2 500.5,199.1 501.5,199 502.5,199 503.5,198.8 504.5,198.5 505.5,198.7 506.5,198.7 507.5,198.4 508.5,198.2 509.5,197.7 510.5,197.4 511.5,197.3 512.5,197.3 513.5,197.3 514.5,197.5 515.5,197.6 516.5,197.2 517.5,197.2 518.5,198 519.5,198.9 520.5,199.2 521.5,199.5 522.5,200.2 523.5,200.7 524.5,201 525.5,201.2 526.5,201.9 527.5,202.4 528.5,202.3 529.5,202.7 530.5,203.4 531.5,203.9 532.5,204.1 533.5,204 534.5,204 535.5,204.4 536.5,204.7 537.5,204.8 538.5,205.1 539.5,206.3 540.5,207.1 541.5,206.7 542.5,206.3 543.5,206.6 544.5,207.3 545.5,207.4 546.5,207.4 547.5,207.9 548.5,208.2 549.5,208.1 550.5,208 551.5,208 552.5,208.2 553.5,208.5 554.5,208.8 555.5,209.3 556.5,209.5 557.5,209.6 558.5,209.9 559.5,209.8 560.5,209.9 561.5,210.5 562.5,210.6 563.5,210.3 564.5,210.3 565.5,210.5 566.5,210.8 567.5,211.1 568.5,211.2 569.5,211.6 570.5,211.8 571.5,212.1 572.5,212.7 573.5,212.7 574.5,212.5 575.5,212.6 576.5,212.7 577.5,213.2 578.5,213.4 579.5,213 580.5,212.8 581.5,212.7 582.5,212.5 583.5,212.8 584.5,213.2 585.5,213.1 586.5,212.8 587.5,212.8 588.5,212.9 589.5,213.2 590.5,213.6 591.5,213.5 592.5,213.6 593.5,214 594.5,213.6 595.5,213 596.5,213.3 597.5,214 598.5,214.3 599.5,214.3 600.5,214.1 601.5,214 602.5,213.9 603.5,213.8 604.5,213.8 605.5,214.1"/>
<polyline stroke="#FF0000" points="269.5,268 269.5,223.2 270.5,226 271.5,228.5 272.5,230.9 273.5,230.1 274.5,230.9 275.5,232.3 276.5,231.2 277.5,230.9 278.5,232 279.5,227.9 280.5,226.6 281.5,225.6 282.5,223.9 283.5,223.7 284.5,222.2 285.5,221.3 286.5,221.7 287.5,219.6 288.5,219.2 289.5,218.9 290.5,217 291.5,216.7 292.5,216.6 293.5,216.7 294.5,215.6 295.5,214.6 296.5,214.8 297.5,213.8 298.5,213.3 299.5,212.5 300.5,211.7 301.5,210.6 302.5,209.3 303.5,208.5 304.5,207.8 305.5,206.5 306.5,205.6 307.5,205.1 308.5,204 309.5,202.7 310.5,201.8 311.5,201.1 312.5,200.2 313.5,199 314.5,198.1 315.5,197.6 316.5,197.1 317.5,196.4 318.5,195.3 319.5,194.6 320.5,194 321.5,192.9 322.5,192 323.5,191.2 324.5,190.6 325.5,190 326.5,189 327.5,188 328.5,187.5 329.5,187.6 330.5,187.7 331.5,187.2 332.5,186.7 333.5,186.2 334.5,185.9 335.5,185.3 336.5,184.9 337.5,184.8 338.5,184.3 339.5,183.7 340.5,183.3 341.5,182.9 342.5,182.2 343.5,181.6 344.5,181.6 345.5,181.6 346.5,181.2 347.5,181.1 348.5,181 349.5,180.3 350.5,180 351.5,179.7 352.5,179.1 353.5,179 354.5,179.5 355.5,179.7 356.5,179.3 357.5,178.9 358.5,179.2 359.5,179.8 360.5,180.2 361.5,180.5 362.5,180.6 363.5,181 364.5,180.8 365.5,180.4 366.5,180.9 367.5,181.3 368.5,181.6 369.5,181.7 370.5,181.6 371.5,181.9 372.5,182.5 373.5,183 374.5,183.3 375.5,183.8 376.5,184.4 377.5,184.8 378.5,185.1 379.5,185.2 380.5,185.7 381.5,186.1 382.5,185.9 383.5,186.3 384.5,187.4 385.5,188.4 386.5,188.9 387.5,189.2 388.5,189.4 389.5,189.3 390.5,190 391.5,190.9 392.5,191.1 393.5,191.1 394.5,191.5 395.5,192 396.5,192.7 397.5,193.8 398.5,194.9 399.5,195.2 400.5,195.4 401.5,195.9 402.5,196.4 403.5,196.7 404.5,197.7 405.5,198.7 406.5,198.7 407.5,198.8 408.5,199.7 409.5,200.8 410.5,201.2 411.5,201.2 412.5,202 413.5,203.3 414.5,204.2 415.5,204.7 416.5,205.2 417.5,206.1 418.5,206.9 419.5,207 420.5,206.7 421.5,206.9 422.5,207.9 423.5,208.9 424.5,209.2 425.5,209.8 426.5,210.6 427.5,210.9 428.5,211.5 429.5,212.6 430.5,213.4 431.5,213.9 432.5,214.5 433.5,214.8 434.5,214.7 435.5,214.4 436.5,214.4 437.5,214.9 438.5,215.6 439.5,216.3 440.5,216.8 441.5,217.1 442.5,217.3 443.5,217.2 444.5,216.9 445.5,216.5 446.5,216.2 447.5,215.9 448.5,215.7 449.5,215.7 450.5,215.2 451.5,214.1 452.5,213.6 453.5,213.9 454.5,214.1 455.5,214.2 456.5,214.2 457.5,213.5 458.5,212.9 459.5,213.2 460.5,213.5 461.5,213.1 462.5,212.1 463.5,211.6 464.5,211.6 465.5,211.8 466.5,211.4 467.5,210.9 468.5,210.5 469.5,210 470.5,209.6 471.5,209.4 472.5,209 473.5,208.9 474.5,208.9 475.5,208.9 476.5,209 477.5,208.6 478.5,207.6 479.5,206.6 480.5,206.5 481.5,206.7 482.5,206.5 483.5,206.2 484.5,206.2 485.5,206.1 486.5,205.8 487.5,205.6 488.5,205.3 489.5,204.8 490.5,204.6 491.5,204.6 492.5,204.4 493.5,203.6 494.5,203 495.5,203.2 496.5,203.3 497.5,203.1 498.5,203.1 499.5,203 500.5,202.6 501.5,202.5 502.5,202.5 503.5,202.4 504.5,201.9 505.5,201.4 506.5,201.3 507.5,201 508.5,201.1 509.5,201.4 510.5,201.3 511.5,201.2 512.5,201.2 513.5,200.9 514.5,200.8 515.5,201.4 516.5,201.6 517.5,201.2 518.5,201.4 519.5,201.9 520.5,202.4 521.5,203.1 522.5,204 523.5,204.6 524.5,205.1 525.5,205 526.5,204.7 527.5,205.1 528.5,206.2 529.5,206.9 530.5,206.6 531.5,206.8 532.5,207.6 533.5,207.9 534.5,208.4 535.5,208.6 536.5,208.4 537.5,208.5 538.5,209 539.5,209.5 540.5,209.8 541.5,209.8 542.5,209.8 543.5,209.7 544.5,210.2 545.5,210.7 546.5,210.5 547.5,210.4 548.5,210.6 549.5,211.1 550.5,211.7 551.5,211.8 552.5,211.7 553.5,212.1 554.5,212.5 555.5,212.7 556.5,212.7 557.5,212.9 558.5,213.2 559.5,213.5 560.5,213.7 561.5,214.1 562.5,214.3 563.5,214 564.5,213.6 565.5,213.8 566.5,214.6 567.5,215.1 568.5,215 569.5,215.3 570.5,215.6 571.5,215.5 572.5,215.6 573.5,215.8 574.5,215.7 575.5,216.1 576.5,216.7 577.5,216.7 578.5,216.8 579.5,217.3 580.5,217 581.5,216.3 582.5,216.1 583.5,216.3 584.5,216.3 585.5,215.8 586.5,216 587.5,216.3 588.5,216.6 589.5,216.6 590.5,216.4 591.5,216.7 592.5,217.2 593.5,217.2 594.5,217.1 595.5,217.3 596.5,217.8 597.5,218.1 598.5,218.1 599.5,218 600.5,217.7 601.5,217.6 602.5,217.9 603.5,217.7 604.5,217.4 605.5,217.7"/>
<polyline stroke="#00FF00" points="269.5,268 269.5,227.8 270.5,228.3 271.5,233.1 272.5,232.8 273.5,234.2 274.5,235 275.5,233.5 276.5,235 277.5,233.9 278.5,234.1 279.5,230.3 280.5,230.1 281.5,229.7 282.5,226.1 283.5,225.4 284.5,226.6 285.5,224 286.5,224.3 287.5,224.1 288.5,222.5 289.5,221.1 290.5,221.7 291.5,220.6 292.5,221 293.5,220.1 294.5,219.5 295.5,218.3 296.5,217.8 297.5,217.2 298.5,215.9 299.5,215 300.5,215.3 301.5,214.7 302.5,213.5 303.5,212.5 304.5,211.4 305.5,210.8 306.5,210.2 307.5,209.1 308.5,208 309.5,207.1 310.5,206.5 311.5,205.8 312.5,204.7 313.5,203.5 314.5,202.6 315.5,202 316.5,200.9 317.5,199.6 318.5,198.5 319.5,197.4 320.5,196.4 321.5,195.7 322.5,195.3 323.5,194.8 324.5,193.9 325.5,193 326.5,192.5 327.5,192.4 328.5,192 329.5,191 330.5,190.7 331.5,191.1 332.5,190.5 333.5,189.7 334.5,190 335.5,190.1 336.5,189 337.5,187.7 338.5,187.3 339.5,187 340.5,186.4 341.5,186.2 342.5,186.3 343.5,185.9 344.5,185.6 345.5,185.6 346.5,185.3 347.5,184.8 348.5,184.3 349.5,184.1 350.5,183.4 351.5,183 352.5,183.3 353.5,183.2 354.5,182.9 355.5,182.7 356.5,182.4 357.5,182.3 358.5,182.6 359.5,183.5 360.5,184.1 361.5,183.8 362.5,183.8 363.5,184.3 364.5,184.2 365.5,183.6 366.5,183.9 367.5,185 368.5,185.8 369.5,185.6 370.5,185.5 371.5,185.7 372.5,185.9 373.5,186.3 374.5,186.8 375.5,187.2 376.5,187.6 377.5,187.9 378.5,188.5 379.5,189 380.5,189.1 381.5,189.4 382.5,190.2 383.5,191 384.5,191.3 385.5,192 386.5,192.5 387.5,192.8 388.5,193 389.5,192.8 390.5,193.5 391.5,194.4 392.5,195 393.5,195.6 394.5,195.8 395.5,196.5 396.5,197.3 397.5,197.4 398.5,197.7 399.5,198.6 400.5,199.1 401.5,199.5 402.5,200.2 403.5,200.5 404.5,200.9 405.5,201.7 406.5,202.5 407.5,203 408.5,203.7 409.5,204.9 410.5,205.6 411.5,205.8 412.5,205.9 413.5,206.1 414.5,207.1 415.5,207.9 416.5,208.5 417.5,209.2 418.5,210 419.5,210.5 420.5,211.3 421.5,212.5 422.5,212.9 423.5,212.6 424.5,213.2 425.5,214.1 426.5,214.8 427.5,215.4 428.5,215.3 429.5,215.3 430.5,216 431.5,217 432.5,217.9 433.5,218.5 434.5,218.9 435.5,218.9 436.5,219 437.5,219.4 438.5,219.5 439.5,219.5 440.5,219.9 441.5,220.7 442.5,221.2 443.5,220.8 444.5,220.1 445.5,220.1 446.5,219.8 447.5,219.7 448.5,219.7 449.5,219 450.5,218.5 451.5,218.9 452.5,219.5 453.5,219.1 454.5,218.2 455.5,217.9 456.5,217.9 457.5,217.5 458.5,217.3 459.5,217.3 460.5,216.9 461.5,216.3 462.5,215.6 463.5,215.6 464.5,215.8 465.5,215.1 466.5,214.2 467.5,214.3 468.5,214.5 469.5,214.1 470.5,214.4 471.5,214.5 472.5,213.9 473.5,213.5 474.5,213.3 475.5,213 476.5,212.8 477.5,212.2 478.5,211.4 479.5,211.2 480.5,211.6 481.5,211.3 482.5,210.7 483.5,210.7 484.5,210.5 485.5,209.6 486.5,209.3 487.5,209.8 488.5,209.5 489.5,208.6 490.5,208.2 491.5,208.6 492.5,208.8 493.5,207.9 494.5,207.1 495.5,207.5 496.5,207.4 497.5,206.8 498.5,206.7 499.5,207 500.5,207 501.5,206.6 502.5,206.5 503.5,206.4 504.5,206.5 505.5,206.2 506.5,205.3 507.5,205 508.5,205.2 509.5,205.5 510.5,204.8 511.5,204.1 512.5,204.3 513.5,204.3 514.5,204.2 515.5,204.1 516.5,203.9 517.5,204.5 518.5,205.8 519.5,206 520.5,206.1 521.5,207.1 522.5,207.5 523.5,207.2 524.5,207.7 525.5,208.3 526.5,208.6 527.5,209 528.5,209.1 529.5,209.4 530.5,210.2 531.5,210.8 532.5,211 533.5,211.1 534.5,211.1 535.5,211.6 536.5,212.6 537.5,212.8 538.5,212.7 539.5,213.2 540.5,213.6 541.5,213.6 542.5,213.2 543.5,213.1 544.5,213.6 545.5,213.9 546.5,214.1 547.5,214.6 548.5,215.1 549.5,215.5 550.5,215.1 551.5,214.8 552.5,215.6 553.5,215.9 554.5,215.7 555.5,216.2 556.5,216.5 557.5,216.5 558.5,216.9 559.5,217.3 560.5,217.7 561.5,218 562.5,217.8 563.5,218.2 564.5,218.7 565.5,218.2 566.5,218 567.5,218.5 568.5,219.1 569.5,219.1 570.5,218.9 571.5,219.1 572.5,219.6 573.5,220 574.5,220 575.5,219.9 576.5,220 577.5,220 578.5,219.9 579.5,220 580.5,220.2 581.5,220.4 582.5,220.5 583.5,220.2 584.5,219.9 585.5,219.8 586.5,220.1 587.5,220.5 588.5,220.9 589.5,220.9 590.5,220.6 591.5,221 592.5,221.3 593.5,220.8 594.5,220.9 595.5,221.7 596.5,221.8 597.5,221.9 598.5,222.1 599.5,221.5 600.5,220.9 601.5,220.8 602.5,221.4 603.5,221.6 604.5,221.2 605.5,221.2"/>
<polyline stroke="#0000FF" points="269.5,268 269.5,229.4 270.5,232.1 271.5,235.5 272.5,236.7 273.5,234.8 274.5,237.8 275.5,238.3 276.5,236.5 277.5,239.5 278.5,237.4 279.5,237.2 280.5,234.3 281.5,232 282.5,230.8 283.5,230.1 284.5,229.9 285.5,228.6 286.5,229.1 287.5,226 288.5,225 289.5,225.8 290.5,225.9 291.5,224.6 292.5,223 293.5,222.4 294.5,221.9 295.5,220.8 296.5,220.7 297.5,220.8 298.5,219.9 299.5,218.8 300.5,218.2 301.5,217.5 302.5,216.2 303.5,215.6 304.5,214.9 305.5,213.9 306.5,213.2 307.5,212.4 308.5,211.7 309.5,210.8 310.5,209.5 311.5,208.2 312.5,207.2 313.5,206.5 314.5,205.9 315.5,205.2 316.5,204.1 317.5,203.3 318.5,202.8 319.5,201.7 320.5,200.9 321.5,200.2 322.5,199.1 323.5,198.2 324.5,197.6 325.5,196.6 326.5,195.5 327.5,194.9 328.5,195.1 329.5,195.4 330.5,195.3 331.5,195 332.5,194.1 333.5,192.8 334.5,192 335.5,191.8 336.5,191.5 337.5,191.2 338.5,191 339.5,190.5 340.5,190.3 341.5,189.8 342.5,188.7 343.5,188.7 344.5,189.1 345.5,188.9 346.5,188.1 347.5,187.3 348.5,187.1 349.5,187.4 350.5,187.6 351.5,187.2 352.5,186.7 353.5,186.7 354.5,186.4 355.5,185.7 356.5,185.7 357.5,186.5 358.5,187.2 359.5,187.1 360.5,186.7 361.5,186.7 362.5,186.8 363.5,187 364.5,187.4 365.5,187.5 366.5,187.5 367.5,187.4 368.5,187.7 369.5,188.4 370.5,189.1 371.5,189.4 372.5,189.2 373.5,189.6 374.5,190.5 375.5,191 376.5,191.1 377.5,191 378.5,191 379.5,191.6 380.5,192.3 381.5,192.3 382.5,192.3 383.5,193.4 384.5,194.5 385.5,194.9 386.5,195.2 387.5,195.6 388.5,196 389.5,196.2 390.5,196.8 391.5,197.8 392.5,198.5 393.5,198.6 394.5,198.8 395.5,199.3 396.5,199.5 397.5,200 398.5,201.2 399.5,202.4 400.5,203.2 401.5,203.5 402.5,203.7 403.5,204.1 404.5,204.4 405.5,204.9 406.5,205.7 407.5,206.5 408.5,206.9 409.5,207.3 410.5,208.2 411.5,209.1 412.5,210 413.5,210.5 414.5,210.4 415.5,211.1 416.5,211.9 417.5,212.2 418.5,212.7 419.5,213.7 420.5,214.8 421.5,215.4 422.5,215.8 423.5,216.7 424.5,217.7 425.5,217.8 426.5,217.7 427.5,218 428.5,219 429.5,219.8 430.5,220.1 431.5,220.1 432.5,220.6 433.5,221.4 434.5,222 435.5,222.2 436.5,221.9 437.5,221.9 438.5,222.7 439.5,223.7 440.5,223.8 441.5,223 442.5,222.9 443.5,223.6 444.5,223.5 445.5,222.7 446.5,222.6 447.5,223 448.5,223 449.5,222.8 450.5,222.6 451.5,222.1 452.5,221.9 453.5,221.9 454.5,221.5 455.5,221.2 456.5,220.7 457.5,220.3 458.5,220.6 459.5,220.4 460.5,219.6 461.5,219.6 462.5,219.7 463.5,219 464.5,217.9 465.5,217.6 466.5,218.1 467.5,218.4 468.5,217.9 469.5,217.2 470.5,216.9 471.5,216.6 472.5,216.2 473.5,215.7 474.5,215.3 475.5,215.6 476.5,215.6 477.5,214.9 478.5,214.3 479.5,214.1 480.5,214.3 481.5,214.3 482.5,214.4 483.5,214 484.5,212.9 485.5,212.5 486.5,212.8 487.5,212.9 488.5,212.4 489.5,211.9 490.5,211.9 491.5,212.2 492.5,212.1 493.5,211.5 494.5,210.7 495.5,210.3 496.5,210.2 497.5,210.5 498.5,210.5 499.5,210 500.5,209.9 501.5,210 502.5,209.7 503.5,209.1 504.5,208.5 505.5,208 506.5,207.5 507.5,207.6 508.5,208.4 509.5,208.6 510.5,207.9 511.5,207.5 512.5,207.9 513.5,208.2 514.5,208.1 515.5,208.1 516.5,207.9 517.5,207.6 518.5,208 519.5,209.1 520.5,210.3 521.5,210.5 522.5,210.5 523.5,210.9 524.5,211.3 525.5,211.5 526.5,211.8 527.5,212.4 528.5,213.2 529.5,214 530.5,214.1 531.5,214 532.5,214.2 533.5,214.2 534.5,214.3 535.5,215.1 536.5,215.7 537.5,216 538.5,216.4 539.5,216.8 540.5,216.8 541.5,216.5 542.5,216.7 543.5,217.4 544.5,217.5 545.5,217.7 546.5,217.8 547.5,218.1 548.5,218.7 549.5,218.7 550.5,218.4 551.5,218.2 552.5,218.1 553.5,218.4 554.5,219.1 555.5,219.2 556.5,219.4 557.5,219.8 558.5,220.1 559.5,220.3 560.5,220.2 561.5,220.5 562.5,220.9 563.5,221 564.5,221.3 565.5,221.6 566.5,221.3 567.5,220.8 568.5,220.9 569.5,221.1 570.5,221.6 571.5,222.2 572.5,222.1 573.5,221.9 574.5,222.3 575.5,222.4 576.5,222.5 577.5,223.1 578.5,223.4 579.5,223.3 580.5,223.2 581.5,222.8 582.5,222.9 583.5,223.3 584.5,223.7 585.5,223.9 586.5,223.5 587.5,223.3 588.5,223.6 589.5,223.9 590.5,223.9 591.5,223.9 592.5,223.8 593.5,223.9 594.5,224 595.5,223.9 596.5,224.1 597.5,224.4 598.5,224.3 599.5,224.4 600.5,224.6 601.5,224.7 602.5,224.8 603.5,224.8 604.5,224.7 605.5,224.4"/>
<polyline stroke="#00FFFF" points="269.5,268 269.5,237 270.5,233.9 271.5,237.1 272.5,242.1 273.5,241.3 274.5,242.2 275.5,245.3 276.5,243 277.5,244.6 278.5,242.1 279.5,240.3 280.5,237.5 281.5,238.8 282.5,235.2 283.5,234.7 284.5,235 285.5,232.7 286.5,232.9 287.5,231.5 288.5,230.7 289.5,229.9 290.5,229.6 291.5,229.3 292.5,228.1 293.5,227.6 294.5,226.6 295.5,226 296.5,225.4 297.5,224.9 298.5,224.2 299.5,223.4 300.5,222.3 301.5,221.7 302.5,221.5 303.5,220.8 304.5,219.7 305.5,219 306.5,218 307.5,216.6 308.5,215.5 309.5,214.4 310.5,213.7 311.5,212.8 312.5,211.8 313.5,211.1 314.5,210.2 315.5,209.3 316.5,208.4 317.5,207 318.5,205.9 319.5,205.4 320.5,204.7 321.5,203.7 322.5,202.7 323.5,201.9 324.5,201.1 325.5,200.5 326.5,200.1 327.5,199.9 328.5,200.3 329.5,200.5 330.5,199.1 331.5,198.1 332.5,197.9 333.5,197.3 334.5,196.8 335.5,196.6 336.5,196.4 337.5,196.1 338.5,195.6 339.5,195.3 340.5,195.2 341.5,194.7 342.5,193.8 343.5,193.1 344.5,192.8 345.5,192.9 346.5,193.1 347.5,192.9 348.5,192.5 349.5,192.1 350.5,191.3 351.5,190.5 352.5,190.7 353.5,191.3 354.5,191.3 355.5,191 356.5,191.1 357.5,191 358.5,190.8 359.5,191.4 360.5,192 361.5,192 362.5,191.6 363.5,191.5 364.5,192 365.5,192.8 366.5,193.1 367.5,192.7 368.5,192.5 369.5,192.8 370.5,193.4 371.5,193.9 372.5,194.2 373.5,194.7 374.5,194.8 375.5,194.6 376.5,194.8 377.5,194.9 378.5,195.6 379.5,196.9 380.5,197.4 381.5,197.2 382.5,197.9 383.5,198.7 384.5,198.9 385.5,199.3 386.5,199.9 387.5,200.2 388.5,200.5 389.5,201 390.5,201.4 391.5,201.6 392.5,202.4 393.5,203 394.5,203.3 395.5,204 396.5,204 397.5,203.9 398.5,204.7 399.5,206.2 400.5,207.1 401.5,207.2 402.5,207.4 403.5,208.5 404.5,209.5 405.5,209.7 406.5,210 407.5,210.9 408.5,211.6 409.5,212.1 410.5,212.9 411.5,213.6 412.5,213.9 413.5,214.3 414.5,215.1 415.5,216.1 416.5,216.7 417.5,216.9 418.5,217.3 419.5,218.1 420.5,218.9 421.5,219 422.5,219.3 423.5,220.6 424.5,221.2 425.5,221.3 426.5,221.6 427.5,222.2 428.5,222.9 429.5,223.8 430.5,224.5 431.5,225 432.5,225.3 433.5,225.6 434.5,226.1 435.5,226.5 436.5,226.9 437.5,227.2 438.5,227.5 439.5,228.1 440.5,228.2 441.5,228.3 442.5,228.9 443.5,228.7 444.5,227.4 445.5,226.9 446.5,227.4 447.5,228 448.5,228.1 449.5,227.7 450.5,227.4 451.5,227.3 452.5,226.9 453.5,226.3 454.5,226.2 455.5,226.1 456.5,225.4 457.5,224.8 458.5,224.9 459.5,225.2 460.5,225.1 461.5,224.5 462.5,223.9 463.5,223.7 464.5,223.6 465.5,223.2 466.5,222.9 467.5,222.4 468.5,222 469.5,222 470.5,222.1 471.5,221.8 472.5,221.4 473.5,221 474.5,220.3 475.5,219.4 476.5,219.2 477.5,219.9 478.5,220 479.5,219.1 480.5,218.7 481.5,218.4 482.5,218 483.5,218.2 484.5,218.2 485.5,217.6 486.5,217.2 487.5,217.4 488.5,217.1 489.5,216.5 490.5,216.4 491.5,216 492.5,215.3 493.5,215.8 494.5,216 495.5,215.5 496.5,215.4 497.5,215.2 498.5,214.9 499.5,214.5 500.5,213.7 501.5,213.8 502.5,214.3 503.5,213.7 504.5,213.6 505.5,214 506.5,213.7 507.5,212.9 508.5,212.2 509.5,212 510.5,211.8 511.5,211.8 512.5,212.5 513.5,212.7 514.5,212.3 515.5,212.2 516.5,212.9 517.5,213.1 518.5,213.3 519.5,214.1 520.5,214.7 521.5,214.6 522.5,214.8 523.5,215.7 524.5,216.6 525.5,216.9 526.5,217 527.5,217.4 528.5,217.7 529.5,217.9 530.5,218.2 531.5,218.8 532.5,219.3 533.5,219.4 534.5,219.7 535.5,219.9 536.5,220 537.5,220.2 538.5,220.3 539.5,220.2 540.5,220.9 541.5,221.8 542.5,221.7 543.5,221.1 544.5,221.2 545.5,222.1 546.5,222.8 547.5,222.7 548.5,222.5 549.5,222.8 550.5,222.9 551.5,223 552.5,223.5 553.5,224 554.5,224.1 555.5,224.1 556.5,224.8 557.5,225.5 558.5,225.4 559.5,224.9 560.5,224.6 561.5,225.7 562.5,226.6 563.5,226.5 564.5,226.4 565.5,226.9 566.5,227.3 567.5,226.6 568.5,226.5 569.5,227 570.5,226.8 571.5,226.3 572.5,226.9 573.5,227.3 574.5,227.2 575.5,227.6 576.5,227.5 577.5,227.3 578.5,228.1 579.5,229.1 580.5,228.8 581.5,227.7 582.5,227.5 583.5,228 584.5,228.1 585.5,227.7 586.5,228.1 587.5,228.8 588.5,228.9 589.5,228.9 590.5,228.9 591.5,228.9 592.5,228.6 593.5,228.3 594.5,228 595.5,227.9 596.5,228.2 597.5,228.3 598.5,228.7 599.5,229.1 600.5,229.3 601.5,229.3 602.5,229.2 603.5,229.5 604.5,229.8 605.5,229.7"/>
<polyline stroke="#FF00FF" points="269.5,268 269.5,241.2 270.5,243.6 271.5,245 272.5,247.5 273.5,248.7 274.5,252.1 275.5,251.7 276.5,250.6 277.5,253 278.5,249.6 279.5,248.2 280.5,247.6 281.5,244.7 282.5,243.4 283.5,242.3 284.5,239.8 285.5,240 286.5,240.8 287.5,240.9 288.5,238.7 289.5,237.4 290.5,237.1 291.5,235.6 292.5,235.6 293.5,235.2 294.5,234.4 295.5,233.9 296.5,234 297.5,233.1 298.5,231.9 299.5,231.2 300.5,230.2 301.5,229.5 302.5,229.1 303.5,228.4 304.5,227.2 305.5,226 306.5,225.3 307.5,224.7 308.5,223.7 309.5,222.7 310.5,222.3 311.5,221.9 312.5,221 313.5,219.6 314.5,218 315.5,217 316.5,215.9 317.5,215 318.5,214.5 319.5,213.5 320.5,212.4 321.5,211.6 322.5,211.1 323.5,210.8 324.5,209.9 325.5,208.8 326.5,208.4 327.5,208.3 328.5,207.8 329.5,207.5 330.5,206.8 331.5,205.8 332.5,205.9 333.5,206.4 334.5,206.1 335.5,205.1 336.5,204.3 337.5,204.3 338.5,204.1 339.5,202.9 340.5,202.1 341.5,201.9 342.5,201.2 343.5,200.2 344.5,199.7 345.5,199.8 346.5,200.1 347.5,200.2 348.5,199.9 349.5,199.9 350.5,200.5 351.5,200.7 352.5,199.8 353.5,199 354.5,199.1 355.5,199.1 356.5,199.2 357.5,199.5 358.5,199.2 359.5,198.6 360.5,198.7 361.5,199.4 362.5,200.3 363.5,200.8 364.5,200.5 365.5,200.1 366.5,200.1 367.5,200.2 368.5,200.2 369.5,200.5 370.5,201.1 371.5,201.6 372.5,201.8 373.5,202.2 374.5,202.5 375.5,202.8 376.5,203.2 377.5,203.7 378.5,203.7 379.5,203.7 380.5,204.6 381.5,205.4 382.5,205.7 383.5,206.2 384.5,206.6 385.5,207 386.5,207.5 387.5,208.3 388.5,208.6 389.5,208.6 390.5,209.2 391.5,210.3 392.5,210.9 393.5,211.1 394.5,211.2 395.5,211.8 396.5,212.7 397.5,213.4 398.5,213.7 399.5,214 400.5,214.6 401.5,215 402.5,215.3 403.5,215.9 404.5,216.5 405.5,217.2 406.5,218.4 407.5,219.5 408.5,219.9 409.5,219.9 410.5,220.4 411.5,221.3 412.5,221.8 413.5,222.4 414.5,222.8 415.5,223.4 416.5,224.4 417.5,224.5 418.5,225.1 419.5,226.2 420.5,226.9 421.5,227.9 422.5,228.6 423.5,229 424.5,229.1 425.5,229.2 426.5,229.9 427.5,230.8 428.5,231.3 429.5,231.3 430.5,231.7 431.5,232.4 432.5,233.2 433.5,234 434.5,234.4 435.5,234.6 436.5,235.2 437.5,235.7 438.5,235.7 439.5,235.5 440.5,235.9 441.5,236 442.5,235.7 443.5,236.1 444.5,236.5 445.5,236.3 446.5,236.2 447.5,236 448.5,235.4 449.5,235.1 450.5,235.3 451.5,234.9 452.5,234.4 453.5,234.6 454.5,234.8 455.5,234.1 456.5,233.6 457.5,233.6 458.5,233.5 459.5,233.1 460.5,232.4 461.5,231.8 462.5,231.3 463.5,231.3 464.5,231.2 465.5,230.6 466.5,230.2 467.5,230.1 468.5,229.5 469.5,228.7 470.5,228.7 471.5,229.1 472.5,229.4 473.5,228.9 474.5,227.9 475.5,227.5 476.5,227.6 477.5,227.5 478.5,227.3 479.5,227 480.5,226.7 481.5,226.9 482.5,226.6 483.5,225.6 484.5,225.7 485.5,226 486.5,225.8 487.5,225.5 488.5,225.1 489.5,224.9 490.5,224.7 491.5,224.7 492.5,224.8 493.5,224.6 494.5,224 495.5,223.3 496.5,223.1 497.5,223.1 498.5,222.8 499.5,222.6 500.5,222.5 501.5,223 502.5,222.8 503.5,221.8 504.5,221.1 505.5,220.7 506.5,221.2 507.5,221.7 508.5,221.4 509.5,221.3 510.5,221.6 511.5,221.3 512.5,220.8 513.5,220.7 514.5,221.2 515.5,221.7 516.5,221.1 517.5,220.6 518.5,221.5 519.5,222.7 520.5,222.9 521.5,222.8 522.5,223 523.5,223.3 524.5,223.9 525.5,224.1 526.5,224.3 527.5,224.7 528.5,225.5 529.5,226.6 530.5,227 531.5,226.8 532.5,227.2 533.5,227.8 534.5,227.8 535.5,227.6 536.5,228.1 537.5,228.9 538.5,229.1 539.5,229 540.5,228.9 541.5,229.2 542.5,229.7 543.5,229.7 544.5,229.4 545.5,229.4 546.5,229.7 547.5,230.1 548.5,230.3 549.5,230.2 550.5,230.6 551.5,230.7 552.5,230.7 553.5,231.4 554.5,231.7 555.5,231.6 556.5,232.1 557.5,232.7 558.5,232.9 559.5,233 560.5,233.3 561.5,233.4 562.5,233.1 563.5,233.4 564.5,234 565.5,234 566.5,233.9 567.5,234 568.5,234.3 569.5,234.4 570.5,234.1 571.5,234 572.5,234.4 573.5,235.5 574.5,236.5 575.5,236.6 576.5,236.3 577.5,236.3 578.5,236.5 579.5,236.4 580.5,236.4 581.5,236.3 582.5,235.6 583.5,235.1 584.5,235.8 585.5,236.8 586.5,237 587.5,236.6 588.5,236.4 589.5,236.5 590.5,236.6 591.5,236.6 592.5,236.7 593.5,236.8 594.5,237.1 595.5,236.9 596.5,236.6 597.5,236.7 598.5,236.8 599.5,236.7 600.5,236.6 601.5,236.9 602.5,237.4 603.5,237.6 604.5,237.7 605.5,238"/>
</g>
<g clip-path="url(#clipB)" fill="none" stroke-width="1.1" stroke-linejoin="round">
<polyline stroke="#000000" points="117,544 117.3,534.3 117.6,538.6 117.9,540.5 118.2,541.2 118.5,533.6 118.8,540.4 119.1,536.2 119.4,538.2 119.7,535.3 120,542 120.3,548.7 120.6,542.7 120.9,539 121.2,534.8 121.5,542.3 121.8,543.3 122.1,536.7 122.4,542.5 122.7,534.7 123,536.2 123.3,540.2 123.6,535.8 123.9,542 124.2,543.9 124.5,540 124.8,541.2 125.1,544.4 125.4,541.3 125.7,543.5 126,543.9 126.3,536.8 126.6,546.1 126.9,543.2 127.2,540.2 127.5,542.2 127.8,540.7 128.1,540.5 128.4,536.9 128.7,538.6 129,538.8 129.3,542.9 129.6,541.1 129.9,540.9 130.2,539.4 130.5,543.3 130.8,532.7 131.1,537.1 131.4,542.4 131.7,538.5 132,541.5 132.3,544.2 132.6,541.9 132.9,535.4 133.2,539 133.5,536.3 133.8,541 134.1,542.5 134.4,538.9 134.7,541 135,539 135.3,545 135.6,539.9 135.9,540.1 136.2,541.1 136.5,542.5 136.8,541.4 137.1,539.3 137.4,539.5 137.7,540.8 138,541 138.3,538.3 138.6,537.7 138.9,538.6 139.2,540.6 139.5,538 139.8,536.1 140.1,538.2 140.4,537.8 140.7,540.9 141,537.6 141.3,537.9 141.6,544.4 141.9,540.3 142.2,536.4 142.5,542.4 142.8,537.9 143.1,536.6 143.4,540.7 143.7,534.8 144,538.6 144.3,540.4 144.6,540.9 144.9,537.2 145.2,537.2 145.5,538.4 145.8,542 146.1,533.4 146.4,540.9 146.7,539.3 147,542.3 147.3,535.2 147.6,541.6 147.9,535.9 148.2,539.1 148.5,537.1 148.8,531.2 149.1,538 149.4,539.2 149.7,540.5 150,536.2 150.3,534.6 150.6,539.8 150.9,536.5 151.2,540.1 151.5,540.7 151.8,535.5 152.1,535.1 152.4,532.8 152.7,528.3 153,533.3 153.3,534.5 153.6,534.4 153.9,530.3 154.2,534.4 154.5,525.6 154.8,524.4 155.1,519.6 155.4,516.1 155.7,512.3 156,508 156.6,497.8 157.2,481 157.8,459.6 158.4,441.4 159,431.2 159.6,420.1 160.2,412 160.8,405.4 161.4,401.5 162,402.8 162.6,406.8 163.2,410 163.8,414.5 164.4,418.8 165,423.2 165.6,427.9 166.2,432 166.8,437.6 167.4,440.7 168,444.9 168.6,449.2 169.2,453.5 169.8,458.4 170.4,462.7 171,463.9 171.6,467.2 172.2,470.9 172.8,473.1 173.4,476.4 174,477.2 174.6,480.7 175.2,480.4 175.8,484.3 176.4,486.1 177,489 177.6,487.6 178.2,489.9 178.8,490.7 179.4,490.4 180,492.1 180.6,491.9 181.2,492 181.8,491.8 182.4,492.4 183,490.7 183.6,488.6 184.2,489 184.8,485.9 185.4,485.9 186,483.4 186.6,480.2 187.2,477.1 187.8,475 188.4,471.8 189,469.4 189.6,466.1 190.2,464.7 190.8,457.1 191.4,453.9 192,450.4 192.6,446.4 193.2,442 193.8,435.6 194.4,432.6 195,425.8 195.6,424.1 196.2,421.4 196.8,418 197.4,413.2 198,410.7 198.6,407 199.2,405.3 199.8,402.1 200,402.5 200.8,399.6 201.6,399 202.4,398.2 203.2,397.6 204,398 204.8,397.2 205.6,395.8 206.4,396.3 207.2,395.4 208,394.7 208.8,392.5 209.6,388.8 210.4,386 211.2,381.8 212,379.3 212.8,377.3 213.6,375.9 214.4,373.3 215.2,371.4 216,369.8 216.8,367.7 217.6,367.3 218.4,366.2 219.2,365.1 220,364.6 220.8,364.1 221.6,364 222.4,363.9 223.2,362.9 224,362.8 224.8,363.5 225.6,364.2 226.4,363.9 227.2,363.6 228,363.8 228.8,364.6 229.6,364.9 230.4,365 231.2,366.4 232,367.5 232.8,366.9 233.6,367.7 234.4,368.6 235.2,369.3 236,370.7 236.8,370.8 237.6,372.3 238.4,372.9 239.2,373.8 240,373.8 240.8,375 241.6,375.8 242.4,376.7 243.2,377.2 244,377.6 244.8,378.9 245.6,379.6 246.4,380.4 247.2,380.5 248,381.6 248.8,382 249.6,383 250.4,384 251.2,384.1 252,386.1 252.8,386.4 253.6,386.5 254.4,387.1 255.2,387.8 256,388.3 256.8,388.5 257.6,389.4 258.4,389.5 259.2,390.2 260,391.4 260.8,391.3 261.6,391.6 262.4,392.5 263.2,392.4 264,392.7 264.8,392.5 265.6,393.1 266.4,392.8 267.2,393.3 268,393.4 268.8,393.8 269.6,393.6 270.4,393.4 271.2,393.2 272,393.5 272.8,393.4 273.6,394 274.4,393.5 275.2,392.8 276,393.4 276.8,393.2 277.6,392.4 278.4,392.5 279.2,391.4 280,391.5 280.8,390.9 281.6,390.7 282.4,390.4 283.2,389.8 284,390 284.8,389.4 285.6,389.4 286.4,389.6 287.2,388.7 288,388.9 288.8,389.2 289.6,388.9 290.4,388.3 291.2,388.2 292,388.6 292.8,388.2 293.6,388.4 294.4,388 295.2,388.6 296,388 296.8,388.5 297.6,388.7 298.4,388.3 299.2,388.1 300,388.2 300.8,388.1 301.6,389.2 302.4,388.1 303.2,388.4 304,388.9 304.8,388.9 305.6,389.3 306.4,389.5 307.2,389.3 308,389.3 308.8,389.3 309.6,389.6 310.4,390.1 311.2,390.1 312,390.3 312.8,389.7 313.6,390.1 314.4,390.2 315.2,390.3 316,390.2 316.8,390.7 317.6,390.8 318.4,391 319.2,390.3 320,390.4 320.8,390.4 321.6,390.4 322.4,390.1 323.2,390.5 324,389.6 324.8,390.1 325.6,389.6 326.4,390.3 327.2,389.6 328,389.7 328.8,389.9 329.6,389.5 330.4,389.7 331.2,389.3 332,389.8 332.8,388.7 333.6,388.6 334.4,388.8 335.2,388.4 336,388.3 336.8,387.9 337.6,388.1 338.4,387.8 339.2,388 340,387.2 340.8,387.7 341.6,387.6 342.4,387.8 343.2,387.4 344,388 344.8,387.4 345.6,388.2 346.4,388.2 347.2,387.6 348,388.3 348.8,387.7 349.6,388.6 350.4,388.1 351.2,388.7 352,388.7 352.8,388.5 353.6,388.6 354.4,389.5 355.2,389.5 356,390.3 356.8,390.2 357.6,391.4 358.4,391 359.2,391.9 360,391.8 360.8,392.1 361.6,392.6 362.4,392.6 363.2,393 364,394.1 364.8,393.9 365.6,394 366.4,394.9 367.2,394.8 368,395.5 368.8,396.2 369.6,396.6 370.4,397.2 371.2,397.4 372,397.7 372.8,398.1 373.6,398.4 374.4,398.7 375.2,399.9 376,399.6 376.8,400.6 377.6,400.5 378.4,401.4 379.2,400.7 380,402.1 380.8,402.3 381.6,403.5 382.4,404 383.2,403.9 384,404.5 384.8,405.3 385.6,405.6 386.4,406 387.2,406.7 388,406.4 388.8,407.7 389.6,407.7 390.4,407 391.2,408 392,408.5 392.8,409.6 393.6,409.2 394.4,409 395.2,410.2 396,410.2 396.8,410.4 397.6,411 398.4,410.9 399.2,411.3 400,412 400.8,412.2 401.6,412.8 402.4,412.8 403.2,413.8 404,413.3 404.8,413.7 405.6,414.7 406.4,414.9 407.2,415.4 408,415.8 408.8,416.2 409.6,416.3 410.4,417.1 411.2,417.8 412,417.5 412.8,418.7 413.6,418.9 414.4,418.5 415.2,419.3 416,419.1 416.8,419.7 417.6,419.7 418.4,420.2 419.2,420.1 420,420.9 420.8,421 421.6,421.3 422.4,421.3 423.2,422.2 424,423.1 424.8,422.8 425.6,423.2 426.4,423.3 427.2,424 428,424.2 428.8,424.4 429.6,424.9 430.4,425.2 431.2,425.5 432,425.3 432.8,425.5 433.6,425.7 434.4,425.5 435.2,424.9 436,424.4 436.8,424.7 437.6,424.6 438.4,424.7 439.2,424.2 440,424.9 440.8,423.7 441.6,423.8 442.4,423.1 443.2,422.8 444,422.8 444.8,422.6 445.6,422.5 446.4,421.1 447.2,422.1 448,421.9 448.8,421.6 449.6,421.2 450.4,420.7 451.2,420.7 452,420.8 452.8,419.9 453.6,420.3 454.4,420.1 455.2,419.7 456,420.2 456.8,419.3 457.6,419.1 458.4,419.2 459.2,418.9 460,419.3 460.8,418.3 461.6,418.2 462.4,418.5 463.2,418.5 464,417.7 464.8,418.2 465.6,417.1 466.4,417.7 467.2,416.9 468,416.8 468.8,417.3 469.6,416.5 470.4,416.1 471.2,416.1 472,416.3 472.8,415.5 473.6,415 474.4,415 475.2,414.3 476,414.2 476.8,414 477.6,414.1 478.4,413.4 479.2,413.4 480,413.4 480.8,413.2 481.6,411.9 482.4,412.1 483.2,411.5 484,411.7 484.8,411.2 485.6,410.8 486.4,410.3 487.2,409.7 488,409.1 488.8,409.5 489.6,408.7 490.4,408.1 491.2,407.6 492,407 492.8,406.6 493.6,405.3 494.4,404.9 495.2,403.7 496,403.7 496.8,403.3 497.6,403.1 498.4,403.4 499.2,402.9 500,402.7 500.8,402.6 501.6,402.4 502.4,402.4 503.2,402.2 504,402.4 504.8,402.6 505.6,402.9 506.4,402.6 507.2,403.5 508,403.8 508.8,404.3 509.6,404.2 510.4,404.6 511.2,405.4 512,405.3 512.8,405.9 513.6,405.8 514.4,405.9 515.2,406.2 516,406.7 516.8,407 517.6,407.1 518.4,408.1 519.2,407.9 520,407.9 520.8,408.8 521.6,408.7 522.4,408.3 523.2,408.4 524,408.7 524.8,409.1 525.6,408.5 526.4,409.4 527.2,409 528,409.4 528.8,409.2 529.6,409.4 530.4,409.5 531.2,409.8 532,409.3 532.8,410.1 533.6,409.2 534.4,409.7 535.2,409.9 536,409.7 536.8,410.1 537.6,409.4 538.4,409.9 539.2,410.3 540,410 540.8,409.8 541.6,410.2 542.4,410.3 543.2,410 544,410.7 544.8,410.2 545.6,410.1 546.4,410.5 547.2,410.4 548,410.6 548.8,410.8 549.6,410.6 550.4,411 551.2,411 552,411.3 552.8,410.7 553.6,411.1 554.4,411.3 555.2,411.4 556,410.8 556.8,411.2 557.6,411.7 558.4,411.9 559.2,411.8 560,411.9 560.8,412.4 561.6,412 562.4,412 563.2,412.8 564,412.6 564.8,412.5 565.6,412.4 566.4,413.2 567.2,412.8 568,412.8 568.8,413.5 569.6,412.8 570.4,413.3 571.2,413.7 572,413.5 572.8,413.6 573.6,414 574.4,413.6 575.2,414 576,414.4 576.8,414 577.6,414.8 578.4,414.4 579.2,414.5 580,414.5 580.8,414.9 581.6,414.6 582.4,414.9 583.2,415.3 584,415.3 584.8,414.6 585.6,415.5"/>
<polyline stroke="#FF0000" points="117,507.7 117.3,509.2 117.6,508.6 117.9,508.8 118.2,506.7 118.5,509.1 118.8,509.9 119.1,506.2 119.4,507.3 119.7,508.9 120,509.3 120.3,507.5 120.6,507.2 120.9,507.4 121.2,505.5 121.5,506.8 121.8,505.3 122.1,504.9 122.4,500.4 122.7,501.4 123,505.9 123.3,506.6 123.6,505.7 123.9,504.8 124.2,503.8 124.5,505.5 124.8,503.2 125.1,503.9 125.4,506.9 125.7,500.5 126,502 126.3,502.6 126.6,498.8 126.9,500.2 127.2,504.9 127.5,503.6 127.8,502 128.1,504.9 128.4,499.8 128.7,505.9 129,501.4 129.3,500.1 129.6,503.6 129.9,502.2 130.2,501.3 130.5,500.4 130.8,496.6 131.1,495.8 131.4,500.2 131.7,502.1 132,498.1 132.3,499.8 132.6,496.1 132.9,496.1 133.2,499 133.5,500.5 133.8,500.4 134.1,501.2 134.4,496.7 134.7,497.9 135,499.8 135.3,495.7 135.6,497.1 135.9,497.6 136.2,497.4 136.5,499.2 136.8,498 137.1,496 137.4,491.7 137.7,498.3 138,498.6 138.3,497.4 138.6,496.9 138.9,497 139.2,498.5 139.5,494.6 139.8,495.4 140.1,493.3 140.4,494.8 140.7,493.3 141,493.2 141.3,490.5 141.6,494.4 141.9,496.7 142.2,487.8 142.5,497 142.8,494 143.1,492.4 143.4,494.4 143.7,493 144,493.2 144.3,496.3 144.6,493.5 144.9,493.7 145.2,492.2 145.5,492.2 145.8,490.4 146.1,492 146.4,490.4 146.7,494.4 147,491.2 147.3,493.1 147.6,494.1 147.9,493.4 148.2,489.5 148.5,494.4 148.8,486.5 149.1,493.4 149.4,484.7 149.7,488 150,489.6 150.3,488 150.6,484.7 150.9,485.9 151.2,489.5 151.5,485.1 151.8,489.9 152.1,490.9 152.4,491.1 152.7,488.5 153,487.6 153.3,486.5 153.6,493 153.9,489.3 154.2,487.7 154.5,486.6 154.8,487.7 155.1,480.6 155.4,484.6 155.7,478 156,473.3 156.6,464.1 157.2,451.3 157.8,442.5 158.4,435.6 159,429.9 159.6,425.7 160.2,420.4 160.8,417.4 161.4,415.1 162,417.4 162.6,418.8 163.2,422.7 163.8,425.6 164.4,430.2 165,433.8 165.6,435.7 166.2,440 166.8,442.6 167.4,447.1 168,449.7 168.6,452.5 169.2,457.9 169.8,458.5 170.4,460 171,463.8 171.6,465.6 172.2,468.8 172.8,468.4 173.4,472.6 174,471.3 174.6,472.3 175.2,472.6 175.8,473.4 176.4,475.4 177,473.5 177.6,471.8 178.2,472 178.8,471.7 179.4,471.5 180,469.5 180.6,469.3 181.2,471.2 181.8,467.9 182.4,467.7 183,466.2 183.6,467.9 184.2,466.2 184.8,468 185.4,467 186,466.1 186.6,464.1 187.2,463 187.8,461.4 188.4,460.1 189,457.9 189.6,455.9 190.2,454.6 190.8,452.5 191.4,450 192,448.9 192.6,446.6 193.2,442.4 193.8,442 194.4,437.2 195,434.8 195.6,432 196.2,425 196.8,422.4 197.4,418.5 198,414.8 198.6,411.4 199.2,409.2 199.8,404.6 200,405 200.8,403.3 201.6,400.6 202.4,400 203.2,399.3 204,398.9 204.8,398.5 205.6,397.7 206.4,397 207.2,396.5 208,396.5 208.8,395 209.6,392.3 210.4,388.8 211.2,385.4 212,381.7 212.8,379.9 213.6,378 214.4,375 215.2,373.6 216,371.8 216.8,371 217.6,368.9 218.4,368.1 219.2,367.1 220,366.6 220.8,365.9 221.6,365.4 222.4,366 223.2,365.5 224,365.5 224.8,364.7 225.6,364.6 226.4,364.9 227.2,366.5 228,366.7 228.8,366.1 229.6,367 230.4,367.5 231.2,367.6 232,368.3 232.8,369.7 233.6,370.3 234.4,371.2 235.2,371.8 236,372.5 236.8,373.4 237.6,374 238.4,375.3 239.2,375.6 240,376.4 240.8,376.9 241.6,377.5 242.4,378.3 243.2,379 244,379.5 244.8,380.7 245.6,381.8 246.4,381.9 247.2,382.5 248,383.1 248.8,383.6 249.6,384.9 250.4,385.7 251.2,386 252,386.9 252.8,387.3 253.6,388.6 254.4,388.9 255.2,389.5 256,390.4 256.8,389.8 257.6,391.1 258.4,391.6 259.2,391.9 260,392.5 260.8,393.3 261.6,393.2 262.4,393.6 263.2,394.6 264,394.6 264.8,394.7 265.6,394.9 266.4,394.8 267.2,394.8 268,395 268.8,395.2 269.6,395.1 270.4,394.9 271.2,395.4 272,395.5 272.8,395.5 273.6,395.7 274.4,395.6 275.2,395.7 276,395.3 276.8,394.9 277.6,394.8 278.4,394.6 279.2,393.8 280,393.3 280.8,393.5 281.6,392.6 282.4,392.5 283.2,392 284,391.9 284.8,392 285.6,391.9 286.4,390.7 287.2,390.4 288,389.7 288.8,390.6 289.6,390.7 290.4,390.2 291.2,390 292,390.3 292.8,389.7 293.6,390.2 294.4,390.4 295.2,390.4 296,390.3 296.8,390 297.6,390 298.4,389.9 299.2,390.7 300,390.6 300.8,390.2 301.6,390.3 302.4,390.4 303.2,390.2 304,390.6 304.8,390.6 305.6,390.7 306.4,390.7 307.2,390.1 308,390.9 308.8,390.7 309.6,390.7 310.4,392 311.2,391.4 312,391.6 312.8,391.7 313.6,391.6 314.4,392.4 315.2,391.5 316,392.2 316.8,391.8 317.6,392.4 318.4,392.2 319.2,392 320,391.5 320.8,392.1 321.6,392.2 322.4,392 323.2,391.7 324,391.9 324.8,391.5 325.6,391.7 326.4,391.7 327.2,391.5 328,391.2 328.8,391.4 329.6,391.1 330.4,390.8 331.2,391.4 332,390.8 332.8,390.5 333.6,390.4 334.4,390.4 335.2,390 336,389.8 336.8,389.9 337.6,389.7 338.4,389.3 339.2,389.2 340,389.9 340.8,389.4 341.6,389.9 342.4,389.7 343.2,389.6 344,389.6 344.8,390.2 345.6,389.6 346.4,389.7 347.2,389.7 348,390 348.8,389.8 349.6,390.2 350.4,389.9 351.2,390.6 352,390.6 352.8,390.7 353.6,390.6 354.4,391.4 355.2,391.9 356,391.5 356.8,391.6 357.6,392.3 358.4,392.4 359.2,392.9 360,393.4 360.8,393.2 361.6,394.1 362.4,394 363.2,394.3 364,394.9 364.8,395.8 365.6,395.5 366.4,396.2 367.2,396.2 368,397 368.8,397.3 369.6,398 370.4,398.1 371.2,398.5 372,398.3 372.8,399.4 373.6,400 374.4,400.2 375.2,400.6 376,401.2 376.8,401.7 377.6,401.6 378.4,402.4 379.2,403 380,403.4 380.8,403.6 381.6,403.8 382.4,404.9 383.2,405.5 384,406.3 384.8,406.4 385.6,406.5 386.4,407.3 387.2,407.6 388,407.8 388.8,408 389.6,408.2 390.4,408.9 391.2,409.3 392,409.8 392.8,410.1 393.6,410.5 394.4,411.3 395.2,411 396,411.7 396.8,411.4 397.6,411.8 398.4,412.2 399.2,412.1 400,413.5 400.8,413.5 401.6,414 402.4,414.7 403.2,414.7 404,415.4 404.8,414.7 405.6,416.2 406.4,416.3 407.2,416.5 408,417.4 408.8,417.5 409.6,417.7 410.4,417.7 411.2,419.2 412,418.2 412.8,419.4 413.6,420.2 414.4,420.3 415.2,420.2 416,420.7 416.8,420.9 417.6,421.5 418.4,421.7 419.2,421.7 420,421.9 420.8,423 421.6,422.6 422.4,423 423.2,424.4 424,423.8 424.8,424 425.6,424.5 426.4,425.4 427.2,425.4 428,426 428.8,425.7 429.6,426.5 430.4,426.9 431.2,427 432,427.4 432.8,427.1 433.6,426 434.4,426.2 435.2,426.3 436,426.3 436.8,426.3 437.6,426.3 438.4,425.4 439.2,425 440,425.7 440.8,425 441.6,424.4 442.4,424.5 443.2,424.4 444,423.9 444.8,423.6 445.6,423.9 446.4,423 447.2,423.1 448,422.8 448.8,422.4 449.6,422.9 450.4,421.6 451.2,422.6 452,421.4 452.8,421.4 453.6,421.4 454.4,421.5 455.2,421.2 456,420.8 456.8,420.6 457.6,420.9 458.4,420.9 459.2,420.1 460,420.5 460.8,420.2 461.6,419.9 462.4,419.4 463.2,419.1 464,419.5 464.8,418.3 465.6,418.8 466.4,418.9 467.2,418.1 468,418.8 468.8,418.6 469.6,417.6 470.4,417.7 471.2,417.4 472,417.1 472.8,416.9 473.6,416.9 474.4,417 475.2,416.3 476,416 476.8,415.8 477.6,415.2 478.4,415.3 479.2,414.7 480,414.3 480.8,414.4 481.6,413.4 482.4,413.4 483.2,413.1 484,412.8 484.8,412.1 485.6,411.9 486.4,411.7 487.2,411.5 488,410.9 488.8,410.4 489.6,409.7 490.4,409.4 491.2,407.9 492,408.2 492.8,407.6 493.6,406.7 494.4,405.8 495.2,405.9 496,405 496.8,405.3 497.6,404.6 498.4,404.3 499.2,404.3 500,404 500.8,404.1 501.6,404.2 502.4,403.9 503.2,403.9 504,404.1 504.8,404.3 505.6,404.4 506.4,404.8 507.2,405.1 508,405.3 508.8,405.7 509.6,405.8 510.4,406.4 511.2,406.4 512,406.8 512.8,406.7 513.6,406.6 514.4,407.2 515.2,407.6 516,408 516.8,408.1 517.6,408.9 518.4,408.3 519.2,408.4 520,409.1 520.8,409.1 521.6,409.4 522.4,409.7 523.2,410.5 524,409.4 524.8,409.5 525.6,409.9 526.4,409.6 527.2,409.9 528,410.5 528.8,410.2 529.6,410.3 530.4,410.7 531.2,409.9 532,410.5 532.8,410.5 533.6,410.6 534.4,410.3 535.2,410.5 536,410.7 536.8,411 537.6,410.6 538.4,411.1 539.2,410.3 540,411.1 540.8,411.3 541.6,410.9 542.4,411.1 543.2,411.3 544,411.4 544.8,411.7 545.6,411.5 546.4,411.4 547.2,411.5 548,411.7 548.8,411.9 549.6,411.8 550.4,411.6 551.2,411.8 552,411.7 552.8,411.8 553.6,412 554.4,412 555.2,412.5 556,412 556.8,412.5 557.6,412.2 558.4,412.9 559.2,412.8 560,413.2 560.8,413.1 561.6,412.7 562.4,413.1 563.2,413.1 564,413.2 564.8,413.1 565.6,413.4 566.4,413.6 567.2,413.8 568,414.5 568.8,413.9 569.6,414 570.4,414.1 571.2,414.1 572,414.2 572.8,414.4 573.6,414.4 574.4,414.8 575.2,414.8 576,414.5 576.8,414.9 577.6,415 578.4,415 579.2,415 580,415.2 580.8,415.5 581.6,415.4 582.4,415.3 583.2,415.5 584,415.9 584.8,415.4 585.6,415.9"/>
<polyline stroke="#00FF00" points="117,544.3 117.3,549 117.6,546.8 117.9,545.2 118.2,544.7 118.5,540.6 118.8,543.5 119.1,549 119.4,546 119.7,544.2 120,545 120.3,545.1 120.6,542.2 120.9,545.3 121.2,546.4 121.5,540.7 121.8,544.3 122.1,537.1 122.4,540.1 122.7,547.3 123,548.5 123.3,549 123.6,541.2 123.9,544.7 124.2,543.9 124.5,547.9 124.8,545.8 125.1,545.1 125.4,546.6 125.7,543.5 126,547.6 126.3,543.8 126.6,548 126.9,545.3 127.2,545.4 127.5,541.5 127.8,540.3 128.1,540.2 128.4,546.1 128.7,538.5 129,548.6 129.3,543.7 129.6,540.8 129.9,545.6 130.2,541 130.5,544.7 130.8,543.8 131.1,547.9 131.4,547 131.7,547.1 132,543.1 132.3,548 132.6,544.2 132.9,544.7 133.2,545.6 133.5,545.1 133.8,540.4 134.1,546.1 134.4,539.6 134.7,545.5 135,543.9 135.3,544.3 135.6,540.9 135.9,546.8 136.2,543.5 136.5,546.3 136.8,541.8 137.1,541.8 137.4,544 137.7,546.7 138,539.9 138.3,542 138.6,542.2 138.9,542.8 139.2,542.2 139.5,546.5 139.8,545.4 140.1,543.4 140.4,545.7 140.7,546.2 141,541.4 141.3,541.1 141.6,545.1 141.9,549 142.2,536.2 142.5,541.1 142.8,545.1 143.1,540.5 143.4,545.2 143.7,543.3 144,539 144.3,541.2 144.6,543.5 144.9,539.8 145.2,544 145.5,543.1 145.8,541.3 146.1,543.2 146.4,541 146.7,542.6 147,539 147.3,545.8 147.6,540.9 147.9,544.9 148.2,547.7 148.5,546 148.8,541.3 149.1,541.7 149.4,541.1 149.7,542 150,538.7 150.3,535.7 150.6,541.5 150.9,540.4 151.2,544.1 151.5,544.3 151.8,534.5 152.1,534.9 152.4,538.9 152.7,539 153,534.9 153.3,533.4 153.6,526.7 153.9,537.1 154.2,526.6 154.5,527 154.8,522 155.1,513.3 155.4,512.9 155.7,509.2 156,500 156.6,490.2 157.2,480 157.8,470.2 158.4,461.7 159,453.6 159.6,446.5 160.2,440.5 160.8,434.6 161.4,433.3 162,435 162.6,438.4 163.2,443.2 163.8,449.1 164.4,452.8 165,457.2 165.6,460.8 166.2,464.7 166.8,468.3 167.4,472.5 168,474.6 168.6,477.8 169.2,482.4 169.8,485.9 170.4,488.3 171,490.8 171.6,497 172.2,500.7 172.8,506.5 173.4,510.4 174,516.9 174.6,519.6 175.2,519.9 175.8,521.7 176.4,523.9 177,523.9 177.6,522.1 178.2,517.5 178.8,513.1 179.4,510.9 180,506.6 180.6,500.6 181.2,498.7 181.8,495.8 182.4,492.5 183,491.3 183.6,489.8 184.2,487.2 184.8,482.8 185.4,480.8 186,479.8 186.6,476.3 187.2,473.8 187.8,474 188.4,466.5 189,465.9 189.6,463 190.2,461 190.8,459.7 191.4,454.5 192,451 192.6,448 193.2,444.1 193.8,441.5 194.4,440.5 195,433.7 195.6,430.8 196.2,427.6 196.8,422.3 197.4,422.2 198,418.9 198.6,414.6 199.2,414.1 199.8,412.4 200,411.3 200.8,409.7 201.6,407.4 202.4,406 203.2,406.1 204,405.1 204.8,404.7 205.6,403.6 206.4,403.4 207.2,403.3 208,403.3 208.8,402.9 209.6,401.8 210.4,398.8 211.2,394.3 212,389.9 212.8,386.5 213.6,382.2 214.4,380.1 215.2,377.8 216,376.3 216.8,374.7 217.6,373.3 218.4,372.7 219.2,371.5 220,371.1 220.8,370.7 221.6,370.8 222.4,368.8 223.2,369.1 224,369 224.8,368.4 225.6,368.8 226.4,368.8 227.2,369 228,368.9 228.8,369.3 229.6,369.7 230.4,369.8 231.2,370.7 232,370.7 232.8,371.3 233.6,371.8 234.4,373.5 235.2,373.7 236,374.3 236.8,375.6 237.6,376 238.4,376.9 239.2,377.4 240,378.2 240.8,378.8 241.6,378.8 242.4,380.5 243.2,381 244,380.9 244.8,382.2 245.6,382.6 246.4,383.4 247.2,384.4 248,385.1 248.8,385.9 249.6,387 250.4,387.5 251.2,387.8 252,388.3 252.8,389.7 253.6,389.6 254.4,390.7 255.2,391.3 256,391.7 256.8,392.8 257.6,393.1 258.4,393.5 259.2,394.3 260,394.4 260.8,395.3 261.6,396 262.4,395.7 263.2,396 264,396.6 264.8,395.9 265.6,396.3 266.4,396.5 267.2,396.4 268,397 268.8,397.2 269.6,397.2 270.4,397.3 271.2,397.6 272,397.7 272.8,397.8 273.6,397.5 274.4,397.5 275.2,397.8 276,397.3 276.8,397.3 277.6,396.5 278.4,396.3 279.2,395.7 280,395.5 280.8,395.2 281.6,394.6 282.4,394.9 283.2,393.7 284,394.1 284.8,393.3 285.6,393.5 286.4,392.9 287.2,392.9 288,392.7 288.8,392.3 289.6,392 290.4,392 291.2,392.1 292,392.2 292.8,392.4 293.6,391.4 294.4,392 295.2,391.7 296,391.8 296.8,391.8 297.6,391.9 298.4,391.8 299.2,391.7 300,392.1 300.8,391.7 301.6,391.6 302.4,391.9 303.2,391.3 304,391.3 304.8,392 305.6,391.6 306.4,391.1 307.2,391.9 308,392 308.8,391.5 309.6,391.4 310.4,391.8 311.2,391.9 312,391.7 312.8,391.6 313.6,392.1 314.4,392.1 315.2,391.6 316,391.8 316.8,392.1 317.6,392 318.4,392.3 319.2,392.4 320,392.9 320.8,392.5 321.6,392.7 322.4,392 323.2,392.3 324,392.8 324.8,392.1 325.6,392.9 326.4,392.7 327.2,392.6 328,392.6 328.8,392.3 329.6,392.3 330.4,392.4 331.2,392.4 332,392.9 332.8,392.2 333.6,392.3 334.4,392 335.2,392.5 336,392.4 336.8,392.7 337.6,392.9 338.4,392.4 339.2,392 340,392.3 340.8,392.2 341.6,392.1 342.4,391.8 343.2,392.1 344,391.7 344.8,391.9 345.6,391.8 346.4,391.2 347.2,392 348,392.5 348.8,391.7 349.6,391.6 350.4,392.1 351.2,391.4 352,391.8 352.8,391.9 353.6,391.7 354.4,391.9 355.2,391.9 356,392.1 356.8,392.6 357.6,392.4 358.4,392.8 359.2,393 360,393.6 360.8,393.7 361.6,393.9 362.4,394.6 363.2,394.3 364,394.7 364.8,395.7 365.6,396.5 366.4,396.2 367.2,396.9 368,396.8 368.8,397.6 369.6,398 370.4,398.5 371.2,398.5 372,399.7 372.8,399.2 373.6,400.3 374.4,399.9 375.2,400.7 376,401.2 376.8,401.7 377.6,401.3 378.4,401.2 379.2,402.2 380,402 380.8,402.2 381.6,402.6 382.4,402.7 383.2,403.5 384,403.6 384.8,404 385.6,404.3 386.4,404.2 387.2,404.8 388,405.2 388.8,405.7 389.6,405.5 390.4,405.6 391.2,405.7 392,406.1 392.8,406.5 393.6,406.9 394.4,406.7 395.2,407.3 396,407.6 396.8,407.8 397.6,408.1 398.4,408.7 399.2,408.7 400,409.4 400.8,409.3 401.6,410.1 402.4,410.1 403.2,411.2 404,411.5 404.8,412.1 405.6,412 406.4,412.3 407.2,412.8 408,413.7 408.8,414.5 409.6,415 410.4,415.5 411.2,415.5 412,416.7 412.8,417.1 413.6,417.3 414.4,417.3 415.2,418.3 416,419.1 416.8,420.1 417.6,420.2 418.4,420.6 419.2,421.6 420,422.1 420.8,422.2 421.6,422.7 422.4,423.4 423.2,423.2 424,423.9 424.8,424.1 425.6,424.2 426.4,425 427.2,425.5 428,425.9 428.8,425.9 429.6,426.2 430.4,425.9 431.2,425.7 432,426.1 432.8,426.5 433.6,426.3 434.4,427.1 435.2,427 436,426.7 436.8,427.3 437.6,427.1 438.4,427.4 439.2,426.9 440,427.2 440.8,426.9 441.6,426.8 442.4,427 443.2,427 444,426.2 444.8,425.9 445.6,425.2 446.4,425 447.2,424.9 448,424 448.8,423.9 449.6,423.5 450.4,423.6 451.2,423.6 452,423.2 452.8,422.8 453.6,422.4 454.4,422.1 455.2,422.4 456,422.7 456.8,422 457.6,421.9 458.4,421.6 459.2,421.3 460,421.8 460.8,421.5 461.6,420.8 462.4,420.7 463.2,421.3 464,420.5 464.8,420.6 465.6,420.2 466.4,420.4 467.2,419.9 468,419.8 468.8,419.5 469.6,420.2 470.4,420.2 471.2,419.4 472,419.3 472.8,419.1 473.6,418.7 474.4,418.5 475.2,418.1 476,418.2 476.8,417.4 477.6,417.2 478.4,417.3 479.2,416.3 480,416.7 480.8,415.7 481.6,415.4 482.4,415.2 483.2,414.3 484,413.8 484.8,413.1 485.6,412.9 486.4,412.4 487.2,411.4 488,411.3 488.8,410.9 489.6,410.2 490.4,409.4 491.2,409.4 492,409.1 492.8,408.2 493.6,407.4 494.4,407.4 495.2,407.4 496,407.5 496.8,407.3 497.6,407 498.4,406.4 499.2,406.6 500,406.3 500.8,405.8 501.6,405.5 502.4,406.3 503.2,405.5 504,406.4 504.8,406.8 505.6,406.3 506.4,406.2 507.2,406.4 508,406.6 508.8,407.1 509.6,407.6 510.4,407.3 511.2,407.7 512,407.9 512.8,408.7 513.6,409 514.4,408.7 515.2,409.2 516,409.6 516.8,409.3 517.6,409.9 518.4,410.3 519.2,410.1 520,410.7 520.8,410.8 521.6,410.8 522.4,411.3 523.2,410.9 524,411.3 524.8,411.2 525.6,411.7 526.4,411.2 527.2,411.7 528,411.7 528.8,411.9 529.6,412.1 530.4,411.3 531.2,411.7 532,411.5 532.8,412.1 533.6,412.3 534.4,411.9 535.2,412.1 536,412.4 536.8,412.1 537.6,412.1 538.4,411.7 539.2,412 540,412.5 540.8,411.9 541.6,412.4 542.4,412.4 543.2,412.4 544,412.7 544.8,412.3 545.6,412.9 546.4,412.4 547.2,412.9 548,412.5 548.8,412.8 549.6,412.7 550.4,413.3 551.2,412.6 552,412.8 552.8,413.4 553.6,413.3 554.4,413.1 555.2,413.2 556,412.9 556.8,413.3 557.6,413.6 558.4,413.9 559.2,413.9 560,414.1 560.8,413.9 561.6,413.6 562.4,413.8 563.2,414.5 564,414.1 564.8,414.6 565.6,413.8 566.4,414.2 567.2,414.2 568,414.6 568.8,414.4 569.6,414.4 570.4,414.8 571.2,414.3 572,414.9 572.8,415.3 573.6,414.9 574.4,415.3 575.2,415.2 576,415.5 576.8,415.7 577.6,415.9 578.4,416 579.2,415.8 580,416.5 580.8,416.3 581.6,416.1 582.4,416.8 583.2,416.4 584,417.2 584.8,417 585.6,416.9"/>
<polyline stroke="#0000FF" points="117,539.6 117.3,538.6 117.6,538.8 117.9,540.2 118.2,545 118.5,541.6 118.8,540.8 119.1,542.3 119.4,540.1 119.7,537.4 120,536.7 120.3,545.2 120.6,540.2 120.9,545.7 121.2,546.6 121.5,541.9 121.8,543.3 122.1,540 122.4,540.6 122.7,541.3 123,541 123.3,545.4 123.6,540.7 123.9,543.6 124.2,541.3 124.5,542.8 124.8,546.3 125.1,536.4 125.4,544.4 125.7,539.1 126,541.5 126.3,539.9 126.6,539.5 126.9,536.9 127.2,533 127.5,547.1 127.8,543.4 128.1,540.1 128.4,535.3 128.7,542.7 129,545.4 129.3,542 129.6,535.6 129.9,539.1 130.2,541.4 130.5,540.4 130.8,543.9 131.1,537.7 131.4,538.6 131.7,533.1 132,543.8 132.3,542.3 132.6,539.1 132.9,535 133.2,542.9 133.5,536.1 133.8,536.5 134.1,534.5 134.4,536 134.7,537.3 135,536.9 135.3,543.4 135.6,542.2 135.9,540.2 136.2,538.2 136.5,539.8 136.8,535.9 137.1,541 137.4,537 137.7,538.2 138,540.7 138.3,537 138.6,535.4 138.9,542.6 139.2,534.3 139.5,535.6 139.8,535.9 140.1,537.2 140.4,538.9 140.7,529.5 141,537.7 141.3,543.3 141.6,542.6 141.9,541.6 142.2,538.7 142.5,539.5 142.8,537.1 143.1,533.7 143.4,539.8 143.7,541.9 144,539.5 144.3,538.4 144.6,541 144.9,539.3 145.2,541.7 145.5,536.9 145.8,532.7 146.1,539.5 146.4,540.7 146.7,535.6 147,538.6 147.3,539.9 147.6,529.4 147.9,545 148.2,539.9 148.5,536.8 148.8,533.8 149.1,532.5 149.4,547.3 149.7,536.1 150,539.1 150.3,534.9 150.6,535.6 150.9,538.3 151.2,533 151.5,535.1 151.8,534.1 152.1,535.5 152.4,535.9 152.7,531.9 153,535.8 153.3,529.1 153.6,528.3 153.9,528.6 154.2,526.2 154.5,526.9 154.8,512.6 155.1,511.9 155.4,506.3 155.7,512.5 156,504.1 156.6,494.3 157.2,488.1 157.8,480.2 158.4,474.2 159,468.6 159.6,461.8 160.2,457.2 160.8,451.3 161.4,449.4 162,447.8 162.6,448.8 163.2,451.1 163.8,454.8 164.4,459.3 165,463 165.6,467.5 166.2,471.2 166.8,475.5 167.4,479 168,484.5 168.6,489.4 169.2,493.7 169.8,498.3 170.4,502.8 171,508.2 171.6,514.1 172.2,520.8 172.8,529.2 173.4,535.3 174,540.7 174.6,546.4 175.2,548.5 175.8,544 176.4,537.8 177,535.3 177.6,528.1 178.2,528.7 178.8,529.1 179.4,535.7 180,536.6 180.6,540.6 181.2,545.2 181.8,546.9 182.4,547.2 183,540.8 183.6,538 184.2,531.9 184.8,526.9 185.4,519.4 186,510.4 186.6,502.4 187.2,496.5 187.8,493 188.4,485.6 189,479.3 189.6,472.2 190.2,468.8 190.8,464.4 191.4,461.2 192,455.2 192.6,452.6 193.2,446.9 193.8,444.7 194.4,439.9 195,435.2 195.6,433.2 196.2,427.6 196.8,428.9 197.4,425.2 198,423.3 198.6,421.1 199.2,418.1 199.8,416.7 200,417.3 200.8,415.2 201.6,414 202.4,412.7 203.2,412.3 204,411.5 204.8,410.1 205.6,411 206.4,410.2 207.2,409.8 208,409.2 208.8,408.4 209.6,407.4 210.4,405.8 211.2,401.7 212,398.1 212.8,395.2 213.6,392.3 214.4,390.1 215.2,387 216,385.1 216.8,383 217.6,381.7 218.4,380.3 219.2,378.9 220,378.5 220.8,377.4 221.6,376.7 222.4,375.2 223.2,375.3 224,374.8 224.8,375.3 225.6,375.1 226.4,374.7 227.2,375.3 228,375.5 228.8,376.1 229.6,376.1 230.4,376.4 231.2,377.6 232,377.5 232.8,378.5 233.6,378.4 234.4,379.3 235.2,380 236,380.5 236.8,381.7 237.6,381.8 238.4,382.9 239.2,382.8 240,384.3 240.8,384.7 241.6,385.6 242.4,386.5 243.2,386.3 244,387.1 244.8,387.3 245.6,388.2 246.4,388.9 247.2,389.5 248,390.3 248.8,390.8 249.6,391.5 250.4,391.6 251.2,392.4 252,392.5 252.8,393.3 253.6,393.1 254.4,394.4 255.2,394.9 256,395.2 256.8,395.8 257.6,395.9 258.4,396.8 259.2,397.3 260,398.1 260.8,398.7 261.6,398.8 262.4,399.3 263.2,399.8 264,399.6 264.8,400.3 265.6,400.7 266.4,400.3 267.2,400.1 268,400.3 268.8,400.7 269.6,400.8 270.4,400 271.2,400.5 272,400.3 272.8,400.4 273.6,400.6 274.4,400.7 275.2,400.3 276,400 276.8,399.9 277.6,399.3 278.4,399.8 279.2,398.4 280,398.6 280.8,398.1 281.6,397.7 282.4,397 283.2,396.9 284,396.8 284.8,396.5 285.6,396.4 286.4,396.3 287.2,396 288,396.1 288.8,396 289.6,395.4 290.4,395.6 291.2,395.2 292,394.9 292.8,395 293.6,395 294.4,394.5 295.2,393.9 296,394.5 296.8,394.5 297.6,393.7 298.4,393.9 299.2,394 300,393.1 300.8,394 301.6,393.9 302.4,393.9 303.2,394.1 304,393.3 304.8,393.9 305.6,394.3 306.4,393 307.2,393.5 308,393.9 308.8,393.5 309.6,393.2 310.4,393.9 311.2,393.9 312,393.7 312.8,394 313.6,394.3 314.4,394.4 315.2,394.3 316,393.8 316.8,394.2 317.6,393.6 318.4,394.1 319.2,394.5 320,394.6 320.8,394.5 321.6,394.6 322.4,394 323.2,394.3 324,394.4 324.8,394.6 325.6,394.6 326.4,395.4 327.2,395.1 328,394.5 328.8,394.6 329.6,394.6 330.4,394.6 331.2,394.6 332,394.2 332.8,395.1 333.6,395 334.4,395 335.2,394.8 336,394.9 336.8,394.7 337.6,394.2 338.4,394.8 339.2,394.8 340,394.4 340.8,394.1 341.6,395.1 342.4,394.5 343.2,394.7 344,394.6 344.8,395.3 345.6,394.3 346.4,395.1 347.2,394 348,395.1 348.8,394.6 349.6,394.1 350.4,394.8 351.2,394.8 352,394.3 352.8,394.9 353.6,394.8 354.4,395.1 355.2,394.6 356,394.9 356.8,395 357.6,395.5 358.4,395.5 359.2,395.5 360,396.5 360.8,396.1 361.6,396.9 362.4,397 363.2,396.8 364,396.8 364.8,397.7 365.6,398.2 366.4,398.6 367.2,398.7 368,399 368.8,399 369.6,399.3 370.4,400.8 371.2,400.5 372,400.1 372.8,400.9 373.6,401.3 374.4,400.9 375.2,401.6 376,402.2 376.8,402.8 377.6,403 378.4,402.7 379.2,403 380,403.3 380.8,403.8 381.6,404.3 382.4,404 383.2,404.6 384,404.8 384.8,405 385.6,405.4 386.4,406.5 387.2,406.7 388,407 388.8,406.4 389.6,407.3 390.4,408.3 391.2,408 392,408 392.8,408.7 393.6,408.8 394.4,409.1 395.2,409.7 396,410.1 396.8,410.2 397.6,410.6 398.4,410.7 399.2,411.3 400,411.9 400.8,412.1 401.6,412.4 402.4,412.4 403.2,413.6 404,413.3 404.8,414.3 405.6,414.4 406.4,415.2 407.2,415.7 408,415.7 408.8,415.4 409.6,416.1 410.4,416.9 411.2,417.4 412,418.3 412.8,419.2 413.6,419.3 414.4,419.5 415.2,420.4 416,420.4 416.8,421.2 417.6,421.5 418.4,421.2 419.2,422.6 420,423.2 420.8,423 421.6,423.7 422.4,424 423.2,424.1 424,424.5 424.8,425.2 425.6,425 426.4,425.4 427.2,426 428,426.3 428.8,426.8 429.6,426.3 430.4,426.3 431.2,427.2 432,426.5 432.8,427 433.6,427.2 434.4,427.9 435.2,427.6 436,427.3 436.8,427.8 437.6,428.3 438.4,427.4 439.2,427.6 440,428.3 440.8,428 441.6,427.7 442.4,427.9 443.2,427.9 444,427.5 444.8,427.6 445.6,428.1 446.4,427.7 447.2,427.8 448,427.3 448.8,427 449.6,427.1 450.4,426.6 451.2,426.8 452,426.5 452.8,426.3 453.6,426.1 454.4,425.7 455.2,426.2 456,425.1 456.8,425.4 457.6,424.8 458.4,425.2 459.2,424.6 460,424.5 460.8,424.3 461.6,424 462.4,423.7 463.2,423.5 464,423.2 464.8,422.7 465.6,422.5 466.4,422.3 467.2,421.8 468,421.6 468.8,421.9 469.6,420.8 470.4,421.4 471.2,420.5 472,420.6 472.8,420.1 473.6,419.8 474.4,419.7 475.2,419.8 476,419 476.8,418.7 477.6,418.2 478.4,418.6 479.2,418 480,417.6 480.8,416.8 481.6,415.8 482.4,416.1 483.2,415 484,414.8 484.8,414.8 485.6,413.9 486.4,413.4 487.2,412.5 488,412.9 488.8,412.3 489.6,411.6 490.4,411.5 491.2,410.5 492,410.3 492.8,410.3 493.6,410.2 494.4,409.6 495.2,409 496,409 496.8,409.3 497.6,408.6 498.4,408.6 499.2,408.5 500,408.1 500.8,408.1 501.6,407.5 502.4,407.8 503.2,408 504,408.2 504.8,408.5 505.6,408 506.4,408.4 507.2,408.4 508,408.4 508.8,408.6 509.6,409 510.4,409.2 511.2,409.2 512,410.5 512.8,409.8 513.6,410.3 514.4,410.2 515.2,411.4 516,410.1 516.8,410.9 517.6,411.2 518.4,411.7 519.2,411.5 520,411.4 520.8,412.3 521.6,412.1 522.4,412 523.2,412 524,412.1 524.8,412.3 525.6,411.8 526.4,412.4 527.2,412.3 528,412.7 528.8,412.7 529.6,412.3 530.4,413.1 531.2,413 532,412.5 532.8,412.5 533.6,412.7 534.4,413 535.2,413.3 536,412.7 536.8,412.8 537.6,413.2 538.4,413.1 539.2,413.2 540,413.2 540.8,413.2 541.6,413.8 542.4,413.6 543.2,413.3 544,413.8 544.8,414 545.6,413.7 546.4,413.7 547.2,413.5 548,413.7 548.8,413.8 549.6,414.2 550.4,413.5 551.2,413.4 552,413.8 552.8,414.1 553.6,413.5 554.4,414.1 555.2,414 556,413.9 556.8,414.4 557.6,414.8 558.4,414.1 559.2,414.6 560,414.6 560.8,414.9 561.6,414.8 562.4,414.7 563.2,415.2 564,415.1 564.8,414.8 565.6,414.6 566.4,415 567.2,415.4 568,415.6 568.8,415.3 569.6,415.4 570.4,415.1 571.2,415.6 572,415.9 572.8,415.7 573.6,416 574.4,415.8 575.2,415.9 576,416.3 576.8,415.9 577.6,416.4 578.4,416.9 579.2,416.5 580,416.6 580.8,416.6 581.6,416.5 582.4,416.8 583.2,416.7 584,417.1 584.8,417.1 585.6,417.1"/>
<polyline stroke="#00FFFF" points="117,513.5 117.3,515.5 117.6,514.9 117.9,512.4 118.2,512.8 118.5,510.4 118.8,512 119.1,513.8 119.4,513.9 119.7,515 120,508.6 120.3,515.2 120.6,512.5 120.9,514.9 121.2,511.4 121.5,513.9 121.8,511 122.1,508.6 122.4,511.5 122.7,509.5 123,510.4 123.3,511.5 123.6,511.9 123.9,511.5 124.2,512 124.5,506.4 124.8,512.1 125.1,507.6 125.4,509.5 125.7,508.3 126,506.5 126.3,510.8 126.6,506.5 126.9,507.4 127.2,511.6 127.5,503.4 127.8,504.5 128.1,510.1 128.4,507 128.7,509.5 129,507.6 129.3,506.4 129.6,508.8 129.9,505.6 130.2,505.8 130.5,507.4 130.8,504.4 131.1,503.5 131.4,502.9 131.7,508.4 132,510.4 132.3,508.6 132.6,504.5 132.9,504.6 133.2,503.5 133.5,505.5 133.8,507.6 134.1,505.1 134.4,505 134.7,497.9 135,505.5 135.3,502 135.6,504 135.9,505.2 136.2,504.5 136.5,505.8 136.8,507.4 137.1,498.9 137.4,500.4 137.7,507.3 138,504.6 138.3,501.8 138.6,502.7 138.9,503.2 139.2,505.4 139.5,502.2 139.8,502.8 140.1,499.8 140.4,505.8 140.7,503.5 141,501.3 141.3,499.3 141.6,502.1 141.9,503.9 142.2,507 142.5,506 142.8,500.8 143.1,500.6 143.4,499.3 143.7,502.3 144,499.5 144.3,502.3 144.6,501.6 144.9,501.7 145.2,498.5 145.5,503.1 145.8,500 146.1,497.6 146.4,500 146.7,500.3 147,499.9 147.3,501.7 147.6,502.2 147.9,504.4 148.2,499 148.5,501.7 148.8,493.1 149.1,502.8 149.4,498.4 149.7,501.1 150,497.6 150.3,499.1 150.6,499.1 150.9,496.2 151.2,496.2 151.5,490.9 151.8,498.3 152.1,496.5 152.4,496.1 152.7,499.1 153,496.9 153.3,496.4 153.6,491.4 153.9,495.6 154.2,494.2 154.5,496.6 154.8,492.9 155.1,490.7 155.4,491.7 155.7,494.4 156,487.5 156.6,483.1 157.2,476.2 157.8,470 158.4,468.1 159,465.6 159.6,461 160.2,457.1 160.8,455.1 161.4,453.1 162,454.7 162.6,453.8 163.2,453.4 163.8,457.3 164.4,459.4 165,460.9 165.6,463.3 166.2,465.5 166.8,468.4 167.4,469 168,470.7 168.6,474.3 169.2,473.5 169.8,474.2 170.4,476.3 171,478.4 171.6,478.2 172.2,478 172.8,481.1 173.4,481.5 174,477.7 174.6,478.7 175.2,479.5 175.8,480.9 176.4,481.8 177,481.7 177.6,482.2 178.2,482.8 178.8,480.3 179.4,479 180,482.3 180.6,483.4 181.2,481.7 181.8,480.5 182.4,481.6 183,479.9 183.6,478.2 184.2,479 184.8,480.1 185.4,478.8 186,478.5 186.6,475.9 187.2,476.3 187.8,476.4 188.4,472.6 189,470.9 189.6,471.2 190.2,467.2 190.8,462.7 191.4,461 192,460.8 192.6,457 193.2,456.7 193.8,452.6 194.4,449.7 195,448.4 195.6,443.6 196.2,443.6 196.8,439.4 197.4,436.3 198,434.2 198.6,429.9 199.2,426.1 199.8,423.7 200,424.4 200.8,421.6 201.6,420 202.4,419.7 203.2,418.8 204,418.7 204.8,419 205.6,417.4 206.4,417.4 207.2,415.8 208,414.9 208.8,413.5 209.6,411.5 210.4,409 211.2,406.1 212,402 212.8,398.6 213.6,396.5 214.4,393.8 215.2,391.9 216,390 216.8,388.2 217.6,386.1 218.4,385.6 219.2,384.6 220,383.6 220.8,383.3 221.6,383 222.4,383.1 223.2,381.8 224,382.2 224.8,381.3 225.6,381.6 226.4,381.4 227.2,381.9 228,381.9 228.8,382 229.6,381.8 230.4,383.2 231.2,382.5 232,383.2 232.8,384.6 233.6,384.5 234.4,385 235.2,385.6 236,386.2 236.8,386.6 237.6,387.4 238.4,387.8 239.2,388.3 240,389.1 240.8,389.7 241.6,390.1 242.4,390.9 243.2,391.7 244,392.2 244.8,392.3 245.6,392.5 246.4,393.7 247.2,394 248,394.7 248.8,394.9 249.6,395.8 250.4,395.8 251.2,396.7 252,396.7 252.8,398.2 253.6,398 254.4,397.9 255.2,399.3 256,399.6 256.8,400.1 257.6,399.8 258.4,400.7 259.2,401.4 260,401.3 260.8,401.8 261.6,402 262.4,402.3 263.2,403 264,402.6 264.8,403 265.6,403.3 266.4,403.3 267.2,403.7 268,402.9 268.8,404 269.6,403.4 270.4,403.8 271.2,403.8 272,404.1 272.8,403.9 273.6,403.9 274.4,404.2 275.2,404.5 276,403.6 276.8,403.4 277.6,403.1 278.4,402.6 279.2,402.3 280,402.1 280.8,402.2 281.6,401.5 282.4,401.1 283.2,401.1 284,400.7 284.8,401.5 285.6,400.9 286.4,400.3 287.2,399.6 288,399.7 288.8,399.4 289.6,399.2 290.4,398.6 291.2,398.9 292,398.7 292.8,398.5 293.6,398.1 294.4,398.5 295.2,397.9 296,397.4 296.8,397.6 297.6,398 298.4,398 299.2,397.2 300,397.4 300.8,397.5 301.6,397.6 302.4,397.1 303.2,397.3 304,397.1 304.8,396.7 305.6,397.5 306.4,397.2 307.2,397.3 308,397.1 308.8,396.9 309.6,397.1 310.4,397.3 311.2,396.8 312,397.7 312.8,397.9 313.6,396.5 314.4,397.5 315.2,397.1 316,397.4 316.8,397.3 317.6,397.1 318.4,397.5 319.2,397.2 320,397.6 320.8,397.3 321.6,396.8 322.4,397.2 323.2,397.2 324,397 324.8,396.8 325.6,397.8 326.4,397.2 327.2,397.2 328,396.7 328.8,397.4 329.6,397.2 330.4,397.5 331.2,397.7 332,397.1 332.8,397.1 333.6,397.6 334.4,397.6 335.2,397.4 336,397.6 336.8,397.3 337.6,397.4 338.4,397.5 339.2,396.9 340,397.8 340.8,397.8 341.6,397.4 342.4,397.5 343.2,397.8 344,398 344.8,397.8 345.6,397.8 346.4,398.1 347.2,398.1 348,397.8 348.8,398 349.6,398.1 350.4,398.5 351.2,398 352,398.2 352.8,398.4 353.6,398.6 354.4,399.4 355.2,398.8 356,399.3 356.8,399.4 357.6,399.7 358.4,400.1 359.2,399.9 360,399.7 360.8,400.1 361.6,400.9 362.4,401.4 363.2,401.4 364,402 364.8,401.8 365.6,401.6 366.4,402.2 367.2,402.5 368,403 368.8,403.3 369.6,403.1 370.4,404 371.2,403.8 372,404.3 372.8,404.7 373.6,405 374.4,405.2 375.2,405.2 376,405.6 376.8,406.1 377.6,406 378.4,406 379.2,405.9 380,406.9 380.8,406.9 381.6,407.4 382.4,407.4 383.2,407.9 384,408.1 384.8,408.8 385.6,408.5 386.4,408.7 387.2,409.4 388,409.9 388.8,409.6 389.6,410.3 390.4,410.5 391.2,410.9 392,410.5 392.8,411.4 393.6,411.5 394.4,412 395.2,412 396,412.5 396.8,412.1 397.6,413.1 398.4,413.8 399.2,413.8 400,414 400.8,414.4 401.6,415.1 402.4,414.8 403.2,414.9 404,415.3 404.8,415.8 405.6,416.4 406.4,417 407.2,416.9 408,417.2 408.8,418.2 409.6,418.6 410.4,418.5 411.2,419.3 412,419.4 412.8,419.7 413.6,420.2 414.4,420.4 415.2,420.5 416,421 416.8,421.6 417.6,422.3 418.4,422.7 419.2,423.2 420,423.1 420.8,423.7 421.6,423.6 422.4,424.1 423.2,425 424,425 424.8,425.9 425.6,425.8 426.4,425.8 427.2,426 428,425.8 428.8,427.1 429.6,427.2 430.4,428.2 431.2,428 432,427.6 432.8,427.4 433.6,427.4 434.4,428 435.2,428.3 436,428.1 436.8,428.9 437.6,429.1 438.4,428.6 439.2,428.9 440,428.6 440.8,429.3 441.6,428.7 442.4,428.6 443.2,428.3 444,428.5 444.8,428.2 445.6,429 446.4,428.8 447.2,428.1 448,428.1 448.8,428.2 449.6,428.1 450.4,427.6 451.2,428.2 452,427.8 452.8,428.1 453.6,426.5 454.4,426.6 455.2,427.1 456,426.8 456.8,426.4 457.6,426 458.4,426.2 459.2,425.7 460,426 460.8,425.7 461.6,425.4 462.4,424.4 463.2,424.8 464,424.9 464.8,424.7 465.6,424.3 466.4,424 467.2,423.2 468,423.6 468.8,423.4 469.6,422.7 470.4,422.5 471.2,422 472,421.9 472.8,421.5 473.6,421.4 474.4,421 475.2,420.3 476,420.3 476.8,420.3 477.6,420 478.4,420 479.2,419.5 480,419.2 480.8,418.4 481.6,418.4 482.4,417.4 483.2,417 484,417 484.8,416.4 485.6,415.6 486.4,415.7 487.2,415.4 488,414.7 488.8,414.5 489.6,413.9 490.4,413.5 491.2,412.6 492,412 492.8,412.1 493.6,410.9 494.4,411.4 495.2,411 496,411.1 496.8,410.7 497.6,410.8 498.4,410.3 499.2,410.3 500,410.7 500.8,409.8 501.6,409.5 502.4,410.4 503.2,410.2 504,410 504.8,410 505.6,410.3 506.4,410.2 507.2,410.7 508,410.5 508.8,410.5 509.6,411 510.4,410.8 511.2,411.4 512,411.1 512.8,411.5 513.6,411.9 514.4,411.8 515.2,412.6 516,412.4 516.8,412.7 517.6,412.2 518.4,413.1 519.2,413.2 520,412.7 520.8,413.4 521.6,413.6 522.4,413.3 523.2,413.3 524,413.2 524.8,413.7 525.6,413.8 526.4,413.7 527.2,414.5 528,413.9 528.8,414 529.6,413.5 530.4,414.1 531.2,414.3 532,413.8 532.8,414.8 533.6,414 534.4,414.2 535.2,414.1 536,414.1 536.8,413.4 537.6,414.6 538.4,413.7 539.2,414.8 540,414.1 540.8,414.3 541.6,415.2 542.4,414.2 543.2,414.5 544,414.2 544.8,414.5 545.6,414.8 546.4,415.1 547.2,413.9 548,414.7 548.8,415 549.6,415.1 550.4,414.6 551.2,414.9 552,415.5 552.8,415.1 553.6,415.7 554.4,414.7 555.2,414.9 556,415.2 556.8,415 557.6,415.5 558.4,415.1 559.2,415.6 560,415.1 560.8,415.3 561.6,415.7 562.4,415.9 563.2,415.5 564,415.4 564.8,416.1 565.6,415.7 566.4,416.1 567.2,416.5 568,416.4 568.8,415.8 569.6,416.7 570.4,416.7 571.2,416.3 572,416.4 572.8,417 573.6,416.8 574.4,416.9 575.2,417.2 576,417.1 576.8,417.8 577.6,417.5 578.4,417.2 579.2,417.3 580,417.2 580.8,417.8 581.6,417.1 582.4,417.8 583.2,417.5 584,417.2 584.8,418.1 585.6,418.1"/>
<polyline stroke="#FF00FF" points="117,521.7 117.3,520.2 117.6,521 117.9,519.4 118.2,524.4 118.5,524.5 118.8,520.9 119.1,521 119.4,521.7 119.7,523.3 120,521.6 120.3,519.9 120.6,520.4 120.9,521.7 121.2,520.6 121.5,520 121.8,524.1 122.1,522 122.4,523.2 122.7,518.7 123,523 123.3,521 123.6,520.3 123.9,519.2 124.2,519.3 124.5,519.7 124.8,521.1 125.1,520.6 125.4,525.8 125.7,522 126,521.4 126.3,520.5 126.6,518.7 126.9,518.7 127.2,521.6 127.5,516.8 127.8,524.7 128.1,524.5 128.4,516.8 128.7,523.6 129,523.3 129.3,523.3 129.6,522.1 129.9,524.5 130.2,518.4 130.5,519.2 130.8,521.8 131.1,520.4 131.4,516.6 131.7,522.3 132,522.7 132.3,519.6 132.6,521 132.9,522.5 133.2,514.7 133.5,518.6 133.8,517.7 134.1,519.5 134.4,516.7 134.7,516.6 135,520.3 135.3,524.3 135.6,516.5 135.9,523.6 136.2,522 136.5,522 136.8,522.7 137.1,518.3 137.4,522.2 137.7,515.5 138,517.2 138.3,520 138.6,521 138.9,515.6 139.2,514.2 139.5,520 139.8,519.6 140.1,520.5 140.4,518.5 140.7,515.4 141,521.4 141.3,520.5 141.6,518.9 141.9,523.9 142.2,518.9 142.5,522.1 142.8,517.8 143.1,510.8 143.4,515.1 143.7,511.1 144,517.3 144.3,520.8 144.6,513.4 144.9,519.5 145.2,516.9 145.5,519.8 145.8,518.3 146.1,514.8 146.4,518.7 146.7,517.1 147,519.3 147.3,521.9 147.6,516.4 147.9,520.9 148.2,516.5 148.5,518.1 148.8,517 149.1,514.7 149.4,516.7 149.7,515.1 150,517.6 150.3,513.4 150.6,513.5 150.9,517.9 151.2,516.9 151.5,516.7 151.8,516.5 152.1,517.4 152.4,515.6 152.7,516.4 153,511.8 153.3,514.6 153.6,511 153.9,509.2 154.2,511.2 154.5,512.8 154.8,510.6 155.1,514.4 155.4,510.3 155.7,507.8 156,504.3 156.6,497.6 157.2,492.3 157.8,486.6 158.4,483 159,476.6 159.6,472.3 160.2,468 160.8,465.7 161.4,463.1 162,463.1 162.6,461.9 163.2,461.2 163.8,462.2 164.4,460.4 165,461.7 165.6,463.5 166.2,467 166.8,470.8 167.4,473.5 168,475.2 168.6,475.3 169.2,480.3 169.8,479.3 170.4,482.6 171,484.9 171.6,485.6 172.2,488.4 172.8,488.7 173.4,488.9 174,491.4 174.6,490.3 175.2,494 175.8,493.6 176.4,492.4 177,494.2 177.6,492.8 178.2,493.2 178.8,496.2 179.4,492.4 180,495.9 180.6,498.5 181.2,492.4 181.8,499.8 182.4,493.3 183,492.9 183.6,493.2 184.2,494.8 184.8,495.4 185.4,492.8 186,494.5 186.6,494.9 187.2,491 187.8,490.9 188.4,490.1 189,490.2 189.6,485.9 190.2,485.7 190.8,484.1 191.4,482 192,479.9 192.6,479.5 193.2,478.5 193.8,473.6 194.4,473.3 195,472.5 195.6,470.2 196.2,467.8 196.8,467.2 197.4,463.5 198,457 198.6,458.6 199.2,451.8 199.8,448.3 200,448.9 200.8,444.1 201.6,439.7 202.4,437.2 203.2,433.8 204,430.6 204.8,426.4 205.6,423.6 206.4,418.8 207.2,415 208,409.9 208.8,406.2 209.6,402.7 210.4,401 211.2,400.6 212,399.2 212.8,398 213.6,398.1 214.4,397 215.2,396.7 216,396.1 216.8,395.6 217.6,395.4 218.4,395.2 219.2,395.1 220,394.6 220.8,394.5 221.6,393.4 222.4,392.9 223.2,393.6 224,393.4 224.8,393.4 225.6,392.8 226.4,393.3 227.2,392.8 228,393.4 228.8,393.5 229.6,393.6 230.4,394 231.2,393.9 232,394.4 232.8,395 233.6,395.6 234.4,395.5 235.2,395.9 236,396.1 236.8,396.8 237.6,397.3 238.4,396.7 239.2,397.5 240,397.7 240.8,398.4 241.6,397.6 242.4,398.5 243.2,398.6 244,400 244.8,400.1 245.6,400.6 246.4,401 247.2,401.5 248,402 248.8,402.2 249.6,402.2 250.4,403.3 251.2,403.7 252,404 252.8,404.4 253.6,405.5 254.4,405.3 255.2,405.6 256,406.5 256.8,407.2 257.6,406.9 258.4,407.5 259.2,408 260,408.9 260.8,409.4 261.6,410.1 262.4,410 263.2,410.2 264,410.3 264.8,410.9 265.6,410.3 266.4,410.2 267.2,410.4 268,410.4 268.8,410.5 269.6,410.2 270.4,410.8 271.2,410.8 272,409.8 272.8,410.2 273.6,409.7 274.4,409.9 275.2,409.5 276,409.7 276.8,409.8 277.6,409.7 278.4,409.1 279.2,408.8 280,408.7 280.8,409.6 281.6,409 282.4,408.8 283.2,409 284,408 284.8,408.2 285.6,407.6 286.4,407.5 287.2,406.6 288,406.7 288.8,406.6 289.6,406.3 290.4,405.6 291.2,405.7 292,405.9 292.8,405.4 293.6,405.5 294.4,405.3 295.2,405 296,404.6 296.8,404.6 297.6,404.1 298.4,404.4 299.2,404.2 300,404.3 300.8,404.5 301.6,403.9 302.4,403.7 303.2,403.5 304,403.6 304.8,403.6 305.6,403 306.4,402.6 307.2,402.4 308,403 308.8,402.7 309.6,402.7 310.4,401.9 311.2,402.1 312,401.7 312.8,401.8 313.6,401.9 314.4,401.8 315.2,402.5 316,401.6 316.8,401.8 317.6,401.8 318.4,402 319.2,402.3 320,401.8 320.8,401.6 321.6,402 322.4,402.3 323.2,401.8 324,402.5 324.8,401.9 325.6,402.1 326.4,402.2 327.2,403 328,402.7 328.8,402.6 329.6,402.2 330.4,402.2 331.2,402.4 332,403.2 332.8,403.1 333.6,402.8 334.4,402.6 335.2,402.4 336,402.8 336.8,403.2 337.6,403.3 338.4,403.3 339.2,403 340,403.5 340.8,403.3 341.6,403.7 342.4,403.6 343.2,403.8 344,403.8 344.8,403.6 345.6,404.2 346.4,403.6 347.2,404.3 348,404 348.8,404.1 349.6,404.4 350.4,404.3 351.2,404.3 352,404.4 352.8,404.5 353.6,405 354.4,405.2 355.2,405.2 356,404.9 356.8,405.5 357.6,405.9 358.4,405.4 359.2,405.6 360,406.3 360.8,406.1 361.6,406.7 362.4,406.4 363.2,406.2 364,406.8 364.8,406.9 365.6,407.2 366.4,407 367.2,407.3 368,408.3 368.8,407.7 369.6,408.5 370.4,407.9 371.2,408.5 372,408.8 372.8,409.1 373.6,409.1 374.4,409.1 375.2,409.6 376,409.3 376.8,409.3 377.6,409.8 378.4,411 379.2,411 380,411.6 380.8,411.4 381.6,411.1 382.4,411.5 383.2,412.1 384,412.1 384.8,412.3 385.6,412.5 386.4,412.9 387.2,412.8 388,413.8 388.8,413.7 389.6,414.6 390.4,415 391.2,414.7 392,415.3 392.8,415.6 393.6,415.6 394.4,415.8 395.2,416.5 396,416.6 396.8,416.6 397.6,416.8 398.4,417.2 399.2,417.7 400,417.9 400.8,417.8 401.6,418.2 402.4,418.6 403.2,418.7 404,419.1 404.8,419.1 405.6,419.4 406.4,420.1 407.2,420.4 408,420.5 408.8,421.6 409.6,421.2 410.4,421.7 411.2,421.9 412,422 412.8,422.7 413.6,423.1 414.4,423.1 415.2,423.6 416,424.6 416.8,423.8 417.6,424.3 418.4,424.8 419.2,424.9 420,425 420.8,425.4 421.6,425.7 422.4,426 423.2,426.4 424,427.1 424.8,426.9 425.6,427 426.4,427.6 427.2,427.8 428,427.5 428.8,427.8 429.6,427.9 430.4,428.5 431.2,428.8 432,428.7 432.8,429.3 433.6,428.9 434.4,429.2 435.2,429.4 436,429.6 436.8,430.2 437.6,429.5 438.4,430.1 439.2,430 440,430.4 440.8,429.6 441.6,429.6 442.4,430.5 443.2,430.3 444,430.2 444.8,429.7 445.6,430 446.4,429.6 447.2,429.2 448,429.4 448.8,429.2 449.6,428.9 450.4,428.9 451.2,428.7 452,428.9 452.8,428.9 453.6,428.7 454.4,428.5 455.2,427.7 456,428 456.8,427.9 457.6,427.6 458.4,427 459.2,426.2 460,426.9 460.8,426.3 461.6,426.6 462.4,425.7 463.2,426.1 464,425.5 464.8,425 465.6,425.1 466.4,424.9 467.2,424.9 468,424.7 468.8,424.6 469.6,424.2 470.4,423.6 471.2,423.3 472,423.3 472.8,422.9 473.6,422.2 474.4,421.9 475.2,422.5 476,422 476.8,422.3 477.6,421.3 478.4,421.5 479.2,420.9 480,420.7 480.8,420.2 481.6,420.1 482.4,419.6 483.2,418.9 484,418.6 484.8,418.2 485.6,417.9 486.4,417.5 487.2,416.9 488,416.5 488.8,416.3 489.6,415.4 490.4,415.7 491.2,415.3 492,414 492.8,414.3 493.6,414.3 494.4,413.4 495.2,414 496,413.9 496.8,413.6 497.6,413.5 498.4,413.1 499.2,413.2 500,413 500.8,412.6 501.6,412.6 502.4,412 503.2,412.1 504,412.8 504.8,412.9 505.6,412.4 506.4,412.2 507.2,412.2 508,413.2 508.8,413.1 509.6,413.7 510.4,413.6 511.2,414 512,413.8 512.8,413.5 513.6,413.7 514.4,414.3 515.2,413.6 516,414.4 516.8,414.2 517.6,414.9 518.4,414.4 519.2,414.5 520,415.1 520.8,413.9 521.6,415.3 522.4,415.1 523.2,414.9 524,415.3 524.8,415 525.6,415.4 526.4,415.3 527.2,415.6 528,415.1 528.8,415.2 529.6,416 530.4,415.6 531.2,415.5 532,415.3 532.8,415.5 533.6,415.7 534.4,415.3 535.2,415.7 536,415.7 536.8,415.2 537.6,415.8 538.4,416.2 539.2,415.8 540,415.8 540.8,416 541.6,415.8 542.4,415.5 543.2,416.1 544,415.9 544.8,415.9 545.6,416.6 546.4,416.2 547.2,416 548,416 548.8,416.8 549.6,416.6 550.4,415.8 551.2,416.6 552,416.3 552.8,416.3 553.6,416.9 554.4,416.8 555.2,416.4 556,416.7 556.8,416.9 557.6,416.8 558.4,417 559.2,416.7 560,417.4 560.8,417.5 561.6,416.9 562.4,416.7 563.2,417 564,417.5 564.8,417.4 565.6,417.3 566.4,417.5 567.2,417 568,417.5 568.8,417.5 569.6,417.4 570.4,417.9 571.2,417.6 572,417.6 572.8,418.1 573.6,418.1 574.4,418 575.2,418.1 576,418.3 576.8,418.3 577.6,418 578.4,418.6 579.2,419 580,418.6 580.8,418.4 581.6,418.9 582.4,418.9 583.2,418.5 584,418.8 584.8,418.7 585.6,419.2"/>
<polyline stroke="#FFFF00" points="117,519.7 117.3,526.1 117.6,521.3 117.9,523.7 118.2,521.9 118.5,523.9 118.8,525.9 119.1,524.6 119.4,519.9 119.7,522.3 120,523.3 120.3,527.7 120.6,521.7 120.9,521.9 121.2,521 121.5,522.8 121.8,524.5 122.1,520.4 122.4,526.4 122.7,526 123,524.9 123.3,524.4 123.6,528.9 123.9,520.1 124.2,521.4 124.5,528.1 124.8,519.6 125.1,523.5 125.4,522.2 125.7,520.3 126,520.2 126.3,522 126.6,523.2 126.9,523.8 127.2,524 127.5,522.6 127.8,522.5 128.1,523.9 128.4,520.8 128.7,519 129,524.4 129.3,517 129.6,523.6 129.9,525.4 130.2,519 130.5,516.5 130.8,519.9 131.1,522.8 131.4,519.5 131.7,524.5 132,523.5 132.3,519.3 132.6,523.7 132.9,518.1 133.2,520.5 133.5,522.2 133.8,524.9 134.1,523.5 134.4,525.2 134.7,517.8 135,529.4 135.3,519.1 135.6,521.9 135.9,525.1 136.2,522.4 136.5,524.1 136.8,517.9 137.1,518.1 137.4,519.7 137.7,519.4 138,521 138.3,519.8 138.6,517.6 138.9,521.1 139.2,516.9 139.5,518.6 139.8,521.1 140.1,517.9 140.4,520.1 140.7,521.7 141,523.7 141.3,522.9 141.6,522 141.9,521 142.2,516.5 142.5,517.4 142.8,517.3 143.1,518 143.4,518.9 143.7,516.8 144,518 144.3,521.8 144.6,517.8 144.9,513.9 145.2,518 145.5,518.2 145.8,517.6 146.1,523.8 146.4,520.7 146.7,522.5 147,516.5 147.3,519.9 147.6,518.5 147.9,517.5 148.2,515.5 148.5,518.1 148.8,512.5 149.1,519.7 149.4,524.2 149.7,520.8 150,511.7 150.3,517.3 150.6,514.8 150.9,514.9 151.2,515.5 151.5,518.9 151.8,517.5 152.1,513.2 152.4,516.3 152.7,514.9 153,519.2 153.3,509.9 153.6,512.8 153.9,510.2 154.2,511.9 154.5,506.3 154.8,508.4 155.1,509.8 155.4,507.9 155.7,506.5 156,507.9 156.6,505.1 157.2,500.9 157.8,496.4 158.4,491.3 159,486.4 159.6,481 160.2,478.9 160.8,477.3 161.4,473.3 162,472 162.6,469.6 163.2,468.9 163.8,467.8 164.4,466.7 165,466.4 165.6,466.9 166.2,469.3 166.8,471.4 167.4,474.4 168,477.7 168.6,482.1 169.2,481 169.8,482.1 170.4,483.1 171,485.2 171.6,485.7 172.2,490.3 172.8,487.2 173.4,489.8 174,489.5 174.6,493 175.2,495.3 175.8,494 176.4,493.9 177,494.2 177.6,495.7 178.2,494.5 178.8,498.6 179.4,499.2 180,498.4 180.6,498.5 181.2,496.8 181.8,501 182.4,495.9 183,497.3 183.6,502.5 184.2,498.6 184.8,498.2 185.4,497.1 186,502 186.6,502.5 187.2,501 187.8,498 188.4,500.7 189,499.4 189.6,502 190.2,502.5 190.8,500.2 191.4,499.4 192,500.4 192.6,499.7 193.2,493.7 193.8,495.3 194.4,491.4 195,490.8 195.6,492.8 196.2,487.7 196.8,487.9 197.4,488.5 198,485.3 198.6,479.6 199.2,480 199.8,477.4 200,476.6 200.8,474.4 201.6,470.3 202.4,467 203.2,464.2 204,460.6 204.8,456.7 205.6,453.7 206.4,450.4 207.2,446.8 208,443.7 208.8,440.2 209.6,436.8 210.4,433.4 211.2,430.1 212,427.3 212.8,422.3 213.6,419.9 214.4,416.3 215.2,412.9 216,410.6 216.8,408.8 217.6,406.6 218.4,406.5 219.2,406.1 220,404.9 220.8,404.9 221.6,404.9 222.4,404.1 223.2,403.3 224,402.8 224.8,402.5 225.6,403.5 226.4,403 227.2,403 228,403 228.8,402.9 229.6,404 230.4,403.8 231.2,404.3 232,403.4 232.8,404.4 233.6,404.6 234.4,404.2 235.2,404.6 236,404.9 236.8,405.7 237.6,405.8 238.4,405.7 239.2,406.4 240,406.3 240.8,406.8 241.6,407.1 242.4,407.2 243.2,408 244,408.1 244.8,407.8 245.6,408.8 246.4,409.7 247.2,409 248,410.3 248.8,410.5 249.6,410.5 250.4,411.3 251.2,411.4 252,411.7 252.8,412.7 253.6,413.1 254.4,412.9 255.2,413.8 256,414.4 256.8,414.4 257.6,415.7 258.4,415.7 259.2,416.6 260,417.2 260.8,417.3 261.6,418.2 262.4,418.7 263.2,419.3 264,419.5 264.8,420.3 265.6,420.6 266.4,421.3 267.2,421.6 268,421.2 268.8,421.9 269.6,422.5 270.4,423 271.2,422.8 272,423.3 272.8,423.5 273.6,423.5 274.4,423.8 275.2,423.1 276,423.4 276.8,422.9 277.6,423 278.4,422.3 279.2,422.1 280,422.2 280.8,421.3 281.6,421.2 282.4,421 283.2,420.4 284,419.9 284.8,419.4 285.6,418.6 286.4,418.5 287.2,417.9 288,417.5 288.8,416.5 289.6,416.1 290.4,415 291.2,414.7 292,413.8 292.8,413.6 293.6,412.9 294.4,412.7 295.2,411.3 296,411.3 296.8,410.7 297.6,410.5 298.4,409.6 299.2,409.2 300,409.2 300.8,408.2 301.6,407.8 302.4,407.9 303.2,406.5 304,406.9 304.8,406.6 305.6,406.3 306.4,405.3 307.2,405.1 308,405 308.8,404.7 309.6,404.8 310.4,404.2 311.2,404.5 312,403.9 312.8,403.9 313.6,403.3 314.4,403.2 315.2,403.5 316,403.6 316.8,403.1 317.6,403.7 318.4,403.3 319.2,403.8 320,403 320.8,403.2 321.6,403.5 322.4,403.3 323.2,403.2 324,403.5 324.8,403.6 325.6,403.2 326.4,403.5 327.2,403.2 328,403.1 328.8,403.7 329.6,403.2 330.4,403.4 331.2,403.9 332,403.5 332.8,403.7 333.6,404.1 334.4,404.4 335.2,404.9 336,404.7 336.8,404.8 337.6,404.8 338.4,405.3 339.2,405.4 340,405.9 340.8,405.3 341.6,405.3 342.4,405.4 343.2,405.9 344,406.2 344.8,406.6 345.6,405.7 346.4,406.3 347.2,406.1 348,406.9 348.8,406.6 349.6,407 350.4,406.6 351.2,407 352,406.9 352.8,406.7 353.6,407.3 354.4,407.1 355.2,406.7 356,407.4 356.8,407.3 357.6,407.9 358.4,408.4 359.2,408.2 360,408.5 360.8,408.1 361.6,408.5 362.4,408.7 363.2,409.7 364,409.2 364.8,409.6 365.6,409.3 366.4,409.9 367.2,410.4 368,410.7 368.8,411 369.6,411.5 370.4,411.9 371.2,411.7 372,412 372.8,412.9 373.6,413.3 374.4,413 375.2,413.9 376,413.6 376.8,414.2 377.6,414.9 378.4,414.3 379.2,415.1 380,415.3 380.8,415.3 381.6,416.1 382.4,415.8 383.2,416.1 384,416.2 384.8,416.9 385.6,417.2 386.4,417.7 387.2,417.4 388,417.5 388.8,418.4 389.6,418 390.4,418.6 391.2,419.1 392,419.1 392.8,418.6 393.6,419 394.4,419.3 395.2,420.1 396,419.8 396.8,420.5 397.6,420.6 398.4,420.8 399.2,421 400,421.1 400.8,422 401.6,421.9 402.4,422.6 403.2,422.2 404,422.3 404.8,423.5 405.6,423.1 406.4,423.8 407.2,424 408,424.4 408.8,424.7 409.6,424.8 410.4,425.1 411.2,425.9 412,425.9 412.8,427 413.6,426.8 414.4,427.5 415.2,427.2 416,427.9 416.8,427.8 417.6,427.9 418.4,428.4 419.2,428.7 420,429.7 420.8,428.7 421.6,429.1 422.4,429.7 423.2,429.5 424,429.7 424.8,430 425.6,429.8 426.4,429.8 427.2,429.7 428,430.1 428.8,430.4 429.6,430.4 430.4,430.7 431.2,430.3 432,430.6 432.8,430.3 433.6,430.1 434.4,430.9 435.2,430.6 436,431 436.8,430.6 437.6,430.4 438.4,430.6 439.2,430.8 440,430.7 440.8,430.8 441.6,431 442.4,430.8 443.2,430.9 444,430.7 444.8,430.5 445.6,430.3 446.4,429.9 447.2,430.6 448,430.7 448.8,429.9 449.6,429.8 450.4,429.7 451.2,430 452,429.8 452.8,429.5 453.6,429.4 454.4,428.8 455.2,429.1 456,428.9 456.8,428.9 457.6,428.3 458.4,428.2 459.2,428.2 460,428.8 460.8,427.6 461.6,428.2 462.4,427.1 463.2,427.2 464,426.6 464.8,427.1 465.6,426.5 466.4,426.3 467.2,426.3 468,426.2 468.8,425.4 469.6,425.4 470.4,425 471.2,425.2 472,424 472.8,425.1 473.6,424.1 474.4,423.3 475.2,423.8 476,423.2 476.8,423.3 477.6,423 478.4,423 479.2,421.8 480,422.2 480.8,422 481.6,421 482.4,421.2 483.2,420.8 484,420 484.8,419.2 485.6,419.4 486.4,418.8 487.2,419.1 488,418.1 488.8,418 489.6,417.6 490.4,417.1 491.2,416.4 492,416.2 492.8,416.1 493.6,415.8 494.4,415.5 495.2,415.5 496,415.1 496.8,415.1 497.6,414.8 498.4,414.7 499.2,414.3 500,413.8 500.8,414.4 501.6,414.3 502.4,414.2 503.2,413.8 504,414.3 504.8,414.1 505.6,414.2 506.4,414 507.2,414.1 508,414.2 508.8,414.6 509.6,414.4 510.4,414.7 511.2,414.7 512,414.6 512.8,415.2 513.6,415.3 514.4,415.4 515.2,414.7 516,416 516.8,415.8 517.6,415.7 518.4,416.7 519.2,416.2 520,416.5 520.8,416.4 521.6,415.8 522.4,416.9 523.2,416.2 524,417 524.8,416.7 525.6,416.5 526.4,416.1 527.2,416.7 528,416.6 528.8,416.9 529.6,416.6 530.4,417.2 531.2,416.9 532,417 532.8,417.7 533.6,417.4 534.4,417 535.2,417.3 536,416.8 536.8,417.1 537.6,417.3 538.4,417.1 539.2,417.1 540,417.6 540.8,417.3 541.6,417.3 542.4,417.4 543.2,417.4 544,417.8 544.8,417.7 545.6,417.2 546.4,418.1 547.2,418.1 548,417.7 548.8,417.5 549.6,417.8 550.4,417.7 551.2,418.1 552,418 552.8,418.4 553.6,417.6 554.4,417.9 555.2,418.2 556,418 556.8,418.1 557.6,417.9 558.4,418.9 559.2,418.3 560,418.6 560.8,418.2 561.6,418.4 562.4,418.5 563.2,419.1 564,419 564.8,419.3 565.6,419.2 566.4,419.2 567.2,418.8 568,418.7 568.8,419.3 569.6,418.7 570.4,419.2 571.2,418.9 572,418.8 572.8,419.2 573.6,418.9 574.4,419.2 575.2,419.6 576,419.3 576.8,419.7 577.6,419.3 578.4,419.6 579.2,419.2 580,420 580.8,419 581.6,419.8 582.4,419.9 583.2,419 584,419.4 584.8,419.4 585.6,419.9"/>
<polyline stroke="#808000" points="117,524.2 117.3,523.9 117.6,526.7 117.9,531.6 118.2,521.9 118.5,526 118.8,525 119.1,528.1 119.4,518.7 119.7,520.1 120,521.7 120.3,521.7 120.6,525.6 120.9,523.4 121.2,518.9 121.5,522.6 121.8,520 122.1,522.5 122.4,524.2 122.7,522.4 123,528.3 123.3,531.3 123.6,526.2 123.9,520.1 124.2,528.8 124.5,530.8 124.8,524.1 125.1,525.7 125.4,527.8 125.7,525.1 126,528.2 126.3,526.1 126.6,522.7 126.9,523 127.2,523.7 127.5,522.4 127.8,528.2 128.1,525.2 128.4,523.7 128.7,526.6 129,524.4 129.3,527.2 129.6,528.9 129.9,524.6 130.2,522.3 130.5,520.5 130.8,529.1 131.1,525 131.4,522.1 131.7,523.5 132,520.4 132.3,527.7 132.6,524.6 132.9,522.5 133.2,519.2 133.5,529.7 133.8,523.8 134.1,516.9 134.4,521.7 134.7,523.2 135,523.7 135.3,520 135.6,526.5 135.9,524.8 136.2,523.1 136.5,521 136.8,517.6 137.1,521.5 137.4,522.1 137.7,519.2 138,523.5 138.3,524.9 138.6,521.1 138.9,521.2 139.2,522.3 139.5,527.1 139.8,526.3 140.1,517.2 140.4,520.6 140.7,529.4 141,520.9 141.3,526.9 141.6,523.2 141.9,525.3 142.2,520.5 142.5,521.7 142.8,523 143.1,521.2 143.4,521 143.7,525.3 144,520.5 144.3,524.8 144.6,519.1 144.9,519.8 145.2,522.8 145.5,522 145.8,523.3 146.1,520.4 146.4,520.1 146.7,518.7 147,515.4 147.3,518.7 147.6,522.9 147.9,519.5 148.2,520.2 148.5,523.1 148.8,516.7 149.1,520.3 149.4,517.5 149.7,522.3 150,514.6 150.3,517.7 150.6,517.1 150.9,517.4 151.2,516.5 151.5,523.3 151.8,516.9 152.1,516.8 152.4,512.6 152.7,512.5 153,513.8 153.3,512 153.6,516.5 153.9,512.8 154.2,512.6 154.5,513 154.8,510.1 155.1,508.5 155.4,509.6 155.7,511.5 156,510.2 156.6,508.4 157.2,508.4 157.8,505.7 158.4,503.3 159,500.8 159.6,496.2 160.2,494.1 160.8,490.5 161.4,487.6 162,484.1 162.6,482.2 163.2,480.2 163.8,477.7 164.4,476.4 165,473.4 165.6,472.4 166.2,471.5 166.8,471.2 167.4,472.8 168,474.6 168.6,479.5 169.2,480.7 169.8,479.6 170.4,480.8 171,483.9 171.6,484.2 172.2,490.9 172.8,489.2 173.4,488.8 174,489.1 174.6,489.2 175.2,492 175.8,488.5 176.4,493.4 177,494 177.6,498.3 178.2,493 178.8,498.4 179.4,496.7 180,499.3 180.6,497.1 181.2,499.7 181.8,501 182.4,504.5 183,499 183.6,500.6 184.2,501.1 184.8,500.6 185.4,501.8 186,502.3 186.6,501.9 187.2,499.6 187.8,503.3 188.4,500.4 189,502.8 189.6,504.7 190.2,500.4 190.8,502.1 191.4,502.2 192,501.2 192.6,499.8 193.2,499.9 193.8,500.3 194.4,496.4 195,497 195.6,497.6 196.2,494.2 196.8,492.2 197.4,494.6 198,493.2 198.6,492.2 199.2,488.9 199.8,485.9 200,487 200.8,484.2 201.6,481.2 202.4,477.7 203.2,474.9 204,471.4 204.8,468.3 205.6,465.7 206.4,462.9 207.2,460 208,456.7 208.8,454.2 209.6,449.8 210.4,447.5 211.2,443.6 212,441.1 212.8,437.4 213.6,435.6 214.4,432.2 215.2,427.8 216,425.7 216.8,422.2 217.6,419.8 218.4,417.1 219.2,415.2 220,413.6 220.8,413.1 221.6,412.4 222.4,411.1 223.2,410.7 224,410.5 224.8,410.2 225.6,409.6 226.4,410.1 227.2,409.3 228,409.8 228.8,410.1 229.6,409.4 230.4,410.3 231.2,409.9 232,409.8 232.8,410.9 233.6,411.2 234.4,410.6 235.2,411.3 236,411.5 236.8,411.5 237.6,412.3 238.4,411.9 239.2,412 240,412.5 240.8,412.7 241.6,413 242.4,413.4 243.2,413.4 244,414.4 244.8,414.2 245.6,415.4 246.4,415.7 247.2,415.8 248,416.3 248.8,416.7 249.6,417.4 250.4,418.4 251.2,418.4 252,418.7 252.8,419.9 253.6,419.8 254.4,420.3 255.2,421.5 256,421.6 256.8,422.3 257.6,422.8 258.4,423.4 259.2,424.1 260,424.8 260.8,425.9 261.6,425.6 262.4,425.8 263.2,427 264,427.2 264.8,428.1 265.6,428.1 266.4,428.8 267.2,429.5 268,429.5 268.8,429.8 269.6,430.6 270.4,430.5 271.2,431 272,431.3 272.8,431.2 273.6,432 274.4,431.6 275.2,432.2 276,432.1 276.8,431.7 277.6,431.8 278.4,432.1 279.2,431.7 280,432.2 280.8,431.2 281.6,431.6 282.4,430.6 283.2,430.8 284,430.9 284.8,429.8 285.6,430.2 286.4,429.6 287.2,429.1 288,428.9 288.8,428.4 289.6,427.9 290.4,427.3 291.2,426.6 292,425.5 292.8,426.1 293.6,425.9 294.4,424.9 295.2,424.3 296,423.7 296.8,423.6 297.6,423.2 298.4,422.5 299.2,422.3 300,422.2 300.8,421.7 301.6,421.2 302.4,420.9 303.2,420.2 304,420 304.8,419.6 305.6,418.9 306.4,418.5 307.2,418.3 308,417.8 308.8,416.3 309.6,416 310.4,416.1 311.2,415.4 312,414.9 312.8,413.9 313.6,413.9 314.4,413.7 315.2,413.3 316,412.7 316.8,412.5 317.6,412.5 318.4,412.3 319.2,412.4 320,411.1 320.8,411.4 321.6,411.7 322.4,410.8 323.2,411 324,411.3 324.8,410.4 325.6,410.7 326.4,411.1 327.2,410.2 328,409.9 328.8,410.8 329.6,410.4 330.4,410.5 331.2,410.6 332,411 332.8,410.6 333.6,411 334.4,411 335.2,410.8 336,411.2 336.8,411.1 337.6,411 338.4,412 339.2,410.6 340,411 340.8,411.1 341.6,411.4 342.4,411.7 343.2,411.6 344,412.5 344.8,411.8 345.6,411.7 346.4,412.1 347.2,412.1 348,412.2 348.8,412.7 349.6,412.7 350.4,413 351.2,412.5 352,413.1 352.8,413 353.6,412.9 354.4,412.8 355.2,413.3 356,413.2 356.8,413.8 357.6,413.9 358.4,414 359.2,414.9 360,414.6 360.8,413.8 361.6,414.7 362.4,414.7 363.2,414.9 364,414.8 364.8,415.4 365.6,414.5 366.4,415.1 367.2,415.8 368,415.9 368.8,416.3 369.6,416.1 370.4,416.2 371.2,416.8 372,416.8 372.8,416.4 373.6,417.4 374.4,417 375.2,417.8 376,417.8 376.8,418.1 377.6,418.4 378.4,418 379.2,418.7 380,418.7 380.8,418.9 381.6,419.2 382.4,419.3 383.2,419.7 384,420 384.8,420 385.6,420.8 386.4,420.8 387.2,420.7 388,421.4 388.8,421.7 389.6,421.3 390.4,422.1 391.2,422.2 392,422.6 392.8,422.7 393.6,423.2 394.4,423.3 395.2,422.9 396,423.8 396.8,424.2 397.6,424.5 398.4,424.8 399.2,424.8 400,425.3 400.8,425.4 401.6,425.2 402.4,425.3 403.2,426.1 404,426.2 404.8,425.7 405.6,426.1 406.4,427 407.2,426.9 408,426.6 408.8,427.5 409.6,427.8 410.4,428 411.2,428 412,428.2 412.8,428.3 413.6,428.5 414.4,428.9 415.2,429.8 416,430 416.8,429.4 417.6,429.2 418.4,429.8 419.2,430 420,430.2 420.8,429.9 421.6,430.6 422.4,430.6 423.2,430.9 424,430.6 424.8,431.2 425.6,431 426.4,431.2 427.2,431.4 428,431.5 428.8,431.6 429.6,431.7 430.4,431.8 431.2,431.8 432,431.9 432.8,432 433.6,432.8 434.4,432.5 435.2,432.1 436,432 436.8,432.8 437.6,432.4 438.4,432.6 439.2,432.8 440,431.9 440.8,432.3 441.6,432.5 442.4,432.9 443.2,432.4 444,432.4 444.8,432.3 445.6,432.2 446.4,432.2 447.2,431.9 448,431.7 448.8,431.7 449.6,431.9 450.4,431.9 451.2,431.5 452,431.2 452.8,431.5 453.6,431.2 454.4,431 455.2,430.6 456,430.4 456.8,430.4 457.6,430.1 458.4,430.3 459.2,429.5 460,429.6 460.8,429.3 461.6,428.8 462.4,428.8 463.2,428.3 464,428.3 464.8,428.1 465.6,428.8 466.4,427.5 467.2,427.7 468,427.2 468.8,427.2 469.6,426.7 470.4,426.4 471.2,426.8 472,426.5 472.8,425.4 473.6,425.6 474.4,425.3 475.2,424.8 476,425.1 476.8,424.9 477.6,424.5 478.4,424.4 479.2,424.5 480,423.5 480.8,423.7 481.6,423.6 482.4,421.7 483.2,422.2 484,422.3 484.8,421.6 485.6,420.9 486.4,421.2 487.2,420.7 488,419.6 488.8,419.9 489.6,419.3 490.4,419 491.2,418.3 492,418.5 492.8,418.1 493.6,417.5 494.4,417.4 495.2,417.7 496,417.6 496.8,416.5 497.6,416.9 498.4,416.5 499.2,416.3 500,416.4 500.8,416.6 501.6,416.2 502.4,415.7 503.2,416 504,416.2 504.8,416.4 505.6,416.1 506.4,416.2 507.2,416.3 508,416.5 508.8,415.8 509.6,416.9 510.4,416.7 511.2,416.7 512,416.5 512.8,417 513.6,417.6 514.4,417 515.2,416.8 516,417.5 516.8,417.5 517.6,417.6 518.4,417.3 519.2,417.9 520,418.1 520.8,416.7 521.6,418 522.4,418.3 523.2,417.8 524,417.5 524.8,418.2 525.6,418.8 526.4,418.3 527.2,418.9 528,418.4 528.8,418.2 529.6,418.1 530.4,418.8 531.2,418 532,418.2 532.8,418.3 533.6,418.5 534.4,418.5 535.2,418.1 536,418.2 536.8,419.1 537.6,418.6 538.4,418.6 539.2,418.5 540,418.7 540.8,418.4 541.6,419 542.4,419 543.2,418.7 544,419 544.8,418.7 545.6,418.7 546.4,419.1 547.2,418.8 548,418.6 548.8,419.4 549.6,418.9 550.4,419.1 551.2,419.4 552,418.6 552.8,418.9 553.6,419.3 554.4,419 555.2,419 556,419.1 556.8,419.1 557.6,419.1 558.4,419.4 559.2,419.3 560,419.8 560.8,419.4 561.6,419.9 562.4,419.4 563.2,420 564,419.4 564.8,419.9 565.6,419.6 566.4,420.1 567.2,419.4 568,419.5 568.8,419.8 569.6,419.4 570.4,420.2 571.2,419.7 572,420 572.8,420.2 573.6,420.1 574.4,419.7 575.2,419.6 576,419.5 576.8,419.8 577.6,419.9 578.4,419.9 579.2,420.3 580,419.8 580.8,419.8 581.6,420.3 582.4,420.8 583.2,420.1 584,420.4 584.8,420.4 585.6,420.8"/>
<polyline stroke="#000080" points="117,535.4 117.3,530.9 117.6,535.6 117.9,532.7 118.2,535.2 118.5,538.7 118.8,524.9 119.1,527.5 119.4,527.7 119.7,528.1 120,532.8 120.3,532.8 120.6,538.4 120.9,537.3 121.2,533.4 121.5,531.9 121.8,534.7 122.1,533.9 122.4,530.7 122.7,534.8 123,530.6 123.3,532 123.6,531.8 123.9,530.3 124.2,530.1 124.5,532.5 124.8,531.9 125.1,528 125.4,538 125.7,538.2 126,538 126.3,536.3 126.6,531.9 126.9,529 127.2,528.7 127.5,526.2 127.8,531.1 128.1,526.2 128.4,532.5 128.7,533.1 129,530.3 129.3,530.3 129.6,531.9 129.9,534 130.2,530.9 130.5,537.9 130.8,529 131.1,529.9 131.4,530.3 131.7,531.3 132,532.7 132.3,533.8 132.6,530.8 132.9,537.3 133.2,525.5 133.5,532.8 133.8,532 134.1,527.1 134.4,526.9 134.7,532.1 135,535.6 135.3,533 135.6,531.4 135.9,530.5 136.2,529.9 136.5,530.2 136.8,533.7 137.1,535.2 137.4,533.3 137.7,529.1 138,533.4 138.3,534.9 138.6,525.1 138.9,532.4 139.2,529.4 139.5,531.6 139.8,526.8 140.1,527.5 140.4,530.7 140.7,529.2 141,529.4 141.3,528 141.6,532.4 141.9,534.6 142.2,527.6 142.5,531.7 142.8,529.3 143.1,531.6 143.4,534.5 143.7,531.5 144,530.2 144.3,527 144.6,534.3 144.9,536.1 145.2,523.9 145.5,532.3 145.8,529.7 146.1,525.9 146.4,536.1 146.7,532 147,537.2 147.3,527.4 147.6,528.4 147.9,524.9 148.2,530.1 148.5,524.1 148.8,528.7 149.1,533.6 149.4,531.5 149.7,532.9 150,530 150.3,532.1 150.6,529 150.9,525.1 151.2,530.9 151.5,529 151.8,526.5 152.1,525.3 152.4,533.1 152.7,523.4 153,526 153.3,530 153.6,530.8 153.9,529.5 154.2,523.4 154.5,532.2 154.8,528 155.1,523.3 155.4,531.7 155.7,527.1 156,525.6 156.6,522.7 157.2,521.2 157.8,517.5 158.4,514.3 159,510.6 159.6,506.6 160.2,504.2 160.8,500.9 161.4,496.8 162,494.5 162.6,490.9 163.2,487.8 163.8,485.8 164.4,483.3 165,481.6 165.6,480.4 166.2,478.7 166.8,479.5 167.4,478.7 168,479.7 168.6,483.9 169.2,484.8 169.8,487.9 170.4,484 171,490.7 171.6,488.3 172.2,489.9 172.8,491.8 173.4,492.7 174,493.5 174.6,495.2 175.2,498.6 175.8,492.3 176.4,494.7 177,495.9 177.6,499.8 178.2,500.2 178.8,501.5 179.4,505.1 180,502.1 180.6,499.8 181.2,504 181.8,507.3 182.4,508.2 183,504.8 183.6,505.7 184.2,506.6 184.8,507.6 185.4,506.6 186,506.4 186.6,510.7 187.2,511 187.8,508.3 188.4,507.3 189,507.3 189.6,506.3 190.2,506 190.8,507.5 191.4,506.2 192,507.6 192.6,505.3 193.2,503.7 193.8,503.9 194.4,498.8 195,503.3 195.6,501.1 196.2,503.1 196.8,498.4 197.4,497.8 198,495.2 198.6,499.8 199.2,494.9 199.8,495.2 200,492.2 200.8,490.2 201.6,487 202.4,484.5 203.2,481.7 204,478.6 204.8,476.2 205.6,473.2 206.4,470.3 207.2,466.4 208,463.6 208.8,460.7 209.6,457.7 210.4,453.6 211.2,450.6 212,447.7 212.8,444.2 213.6,441.3 214.4,438.3 215.2,436 216,433.9 216.8,431.5 217.6,428 218.4,426.6 219.2,424.3 220,422.2 220.8,421.8 221.6,420.3 222.4,418.8 223.2,418 224,417.7 224.8,416.4 225.6,416.4 226.4,416.2 227.2,415.3 228,415.8 228.8,415.9 229.6,415.5 230.4,416 231.2,416.2 232,416.3 232.8,416 233.6,416.8 234.4,416.6 235.2,417 236,417.2 236.8,417.4 237.6,417.1 238.4,418.2 239.2,418.3 240,418.5 240.8,419 241.6,419.1 242.4,419.5 243.2,420.2 244,419.8 244.8,420.7 245.6,421.3 246.4,421.9 247.2,422.3 248,422.8 248.8,423.6 249.6,424.3 250.4,424.8 251.2,425.5 252,425.9 252.8,426.7 253.6,427.3 254.4,427.2 255.2,427.6 256,428.2 256.8,428.8 257.6,429.7 258.4,430.2 259.2,430.7 260,431.1 260.8,431.7 261.6,432.4 262.4,433.1 263.2,432.7 264,434.2 264.8,434.7 265.6,434.8 266.4,435.8 267.2,436 268,436.2 268.8,435.7 269.6,436.6 270.4,436.7 271.2,436.9 272,436.3 272.8,436.7 273.6,437.3 274.4,437.1 275.2,438 276,437.5 276.8,438.1 277.6,438.1 278.4,438.9 279.2,438.1 280,438.5 280.8,437.9 281.6,437.7 282.4,438 283.2,438.2 284,437.5 284.8,437.8 285.6,437.4 286.4,437 287.2,436.8 288,436.5 288.8,436 289.6,435.9 290.4,435.6 291.2,435 292,434.1 292.8,434.6 293.6,433.9 294.4,433.9 295.2,433.1 296,433.1 296.8,432.5 297.6,432.1 298.4,431.9 299.2,431.6 300,430.7 300.8,431.2 301.6,430.8 302.4,430.3 303.2,429.5 304,429.9 304.8,429.4 305.6,429.7 306.4,428.8 307.2,428.6 308,428.7 308.8,427.5 309.6,427.7 310.4,427.5 311.2,426.6 312,426.8 312.8,426.8 313.6,426.6 314.4,426.7 315.2,426.3 316,425.4 316.8,425.7 317.6,425.4 318.4,425.1 319.2,424.5 320,425.1 320.8,424.9 321.6,424.3 322.4,423.7 323.2,423.5 324,423.3 324.8,423.7 325.6,422.8 326.4,423.5 327.2,423 328,423.1 328.8,423.1 329.6,423.5 330.4,422.9 331.2,422.6 332,422.7 332.8,422.5 333.6,422.4 334.4,422.3 335.2,421.9 336,422.2 336.8,421.7 337.6,422.3 338.4,421.8 339.2,421.5 340,422 340.8,421.9 341.6,421.7 342.4,421.2 343.2,421.2 344,421.7 344.8,422.2 345.6,421.5 346.4,421.5 347.2,421.6 348,421.1 348.8,421.7 349.6,421.1 350.4,421.3 351.2,421.1 352,420.9 352.8,421.1 353.6,421 354.4,421.2 355.2,421.8 356,421.5 356.8,421.3 357.6,421.6 358.4,421.4 359.2,421.9 360,421.9 360.8,421.6 361.6,421.8 362.4,421.9 363.2,421.7 364,421.7 364.8,422.1 365.6,422 366.4,422.4 367.2,422.7 368,422.5 368.8,422.8 369.6,423.3 370.4,422.8 371.2,423.4 372,422.9 372.8,422.9 373.6,423.4 374.4,423.4 375.2,423.2 376,424.1 376.8,424.1 377.6,423.7 378.4,424 379.2,424.2 380,424 380.8,424.7 381.6,424.4 382.4,424.4 383.2,425.6 384,425.1 384.8,425.3 385.6,425.7 386.4,425.8 387.2,426.8 388,426.5 388.8,426.9 389.6,427.1 390.4,427.7 391.2,426.7 392,427.8 392.8,427.8 393.6,428 394.4,428.6 395.2,428.6 396,428.2 396.8,429 397.6,429 398.4,429.6 399.2,428.9 400,429.9 400.8,429.9 401.6,430.3 402.4,430.4 403.2,429.9 404,431 404.8,431 405.6,431 406.4,431.7 407.2,431.7 408,432.4 408.8,432.5 409.6,432.1 410.4,432.9 411.2,432.9 412,433.1 412.8,433.3 413.6,433.9 414.4,433.6 415.2,434.2 416,433.9 416.8,434.6 417.6,434.4 418.4,434.6 419.2,435.1 420,435 420.8,435.9 421.6,435.4 422.4,436.4 423.2,436.3 424,436.2 424.8,436.5 425.6,436.5 426.4,437.2 427.2,436.8 428,436.6 428.8,436.9 429.6,436.7 430.4,436.9 431.2,436.7 432,436.8 432.8,437.2 433.6,436.9 434.4,437.2 435.2,436.9 436,437 436.8,436.8 437.6,437.4 438.4,437.5 439.2,437 440,437.3 440.8,436.6 441.6,436.6 442.4,437.2 443.2,436.4 444,437.6 444.8,437 445.6,437.2 446.4,436.5 447.2,436 448,436 448.8,435.9 449.6,436.3 450.4,435.6 451.2,435.4 452,436 452.8,435 453.6,434.9 454.4,435.3 455.2,435.5 456,434 456.8,433.6 457.6,433.8 458.4,433.9 459.2,433.5 460,433.1 460.8,432.7 461.6,433.1 462.4,432.4 463.2,432.1 464,432 464.8,432.2 465.6,431.5 466.4,432 467.2,430.8 468,430.8 468.8,429.8 469.6,429.9 470.4,429.8 471.2,429.4 472,429.1 472.8,428.9 473.6,428.5 474.4,428.4 475.2,428.3 476,428.1 476.8,427.4 477.6,427.4 478.4,426.9 479.2,427.1 480,427 480.8,426.2 481.6,425.9 482.4,425.3 483.2,425.2 484,424.6 484.8,423.9 485.6,424.2 486.4,424.2 487.2,423.3 488,422.7 488.8,422.5 489.6,422.5 490.4,421.5 491.2,421.6 492,421.1 492.8,420.1 493.6,420.4 494.4,420.5 495.2,420.2 496,419.9 496.8,419.4 497.6,419.7 498.4,419.5 499.2,419.5 500,419.8 500.8,419.1 501.6,419.4 502.4,419.2 503.2,419.8 504,419.2 504.8,419.8 505.6,418.7 506.4,418.7 507.2,419.2 508,419 508.8,419.5 509.6,419.4 510.4,419.4 511.2,418.9 512,419.2 512.8,419.5 513.6,419.1 514.4,419.3 515.2,419.7 516,419.3 516.8,419.5 517.6,419.8 518.4,419.6 519.2,419 520,419.5 520.8,419.5 521.6,419.6 522.4,420.2 523.2,419.9 524,419.6 524.8,419.4 525.6,419.9 526.4,419.7 527.2,420 528,419.7 528.8,420 529.6,419.4 530.4,419.6 531.2,419.7 532,419.5 532.8,419.8 533.6,419.6 534.4,419.6 535.2,419.5 536,419.7 536.8,419.3 537.6,420 538.4,419.9 539.2,420 540,420.2 540.8,419.9 541.6,419.7 542.4,420.2 543.2,419.7 544,419.9 544.8,419.2 545.6,419.7 546.4,419.9 547.2,420.1 548,420.1 548.8,420.2 549.6,419.8 550.4,419.8 551.2,420.1 552,419.8 552.8,419.9 553.6,420.1 554.4,419.5 555.2,419.6 556,420.2 556.8,419.9 557.6,420.4 558.4,420 559.2,419.9 560,420.4 560.8,420.1 561.6,420.3 562.4,420 563.2,420 564,420.2 564.8,420.1 565.6,420.3 566.4,420 567.2,420.5 568,420.6 568.8,420.6 569.6,420.1 570.4,420.8 571.2,420 572,420.6 572.8,420.6 573.6,420.8 574.4,420.4 575.2,420.5 576,421 576.8,421 577.6,420.4 578.4,420.6 579.2,420.5 580,420 580.8,421.1 581.6,420.6 582.4,420.9 583.2,421 584,420.5 584.8,421.2 585.6,420.8"/>
<polyline stroke="#800080" points="117,535.2 117.3,542.4 117.6,541.7 117.9,538.9 118.2,540.8 118.5,547.8 118.8,543.8 119.1,541.1 119.4,539.6 119.7,548.4 120,539.3 120.3,533.3 120.6,545.9 120.9,539.1 121.2,532.4 121.5,535.5 121.8,535.6 122.1,532.3 122.4,538 122.7,538.6 123,547.6 123.3,540.7 123.6,538.7 123.9,540.4 124.2,541.8 124.5,545 124.8,546.3 125.1,533.2 125.4,535.1 125.7,540.9 126,548.7 126.3,539 126.6,545.3 126.9,538.8 127.2,538.8 127.5,540 127.8,546.6 128.1,539.1 128.4,541.3 128.7,542.3 129,544.7 129.3,541.2 129.6,544.6 129.9,547.8 130.2,544.2 130.5,539.5 130.8,540.5 131.1,542.1 131.4,539.9 131.7,536.5 132,537.3 132.3,538.8 132.6,533.1 132.9,549 133.2,544.4 133.5,538.7 133.8,538 134.1,545.9 134.4,535.3 134.7,536.8 135,545.1 135.3,540.6 135.6,544 135.9,541.4 136.2,540.9 136.5,538.3 136.8,542.8 137.1,541.9 137.4,541.8 137.7,539.2 138,545.7 138.3,541.2 138.6,543.3 138.9,536.2 139.2,534.2 139.5,543.8 139.8,538.2 140.1,537.5 140.4,542.3 140.7,546.1 141,539.7 141.3,539.6 141.6,542.6 141.9,543 142.2,541 142.5,533.5 142.8,543.8 143.1,537.6 143.4,549 143.7,537.9 144,541.6 144.3,540.5 144.6,541.5 144.9,549 145.2,539.6 145.5,544.7 145.8,540.7 146.1,539.2 146.4,543.7 146.7,542 147,539.9 147.3,536.7 147.6,542.3 147.9,549 148.2,540 148.5,543.1 148.8,538.2 149.1,549 149.4,534.8 149.7,538.1 150,532.9 150.3,543.2 150.6,541 150.9,542.1 151.2,540.3 151.5,546.6 151.8,545.9 152.1,545 152.4,529.5 152.7,536.6 153,540.7 153.3,543.8 153.6,529.2 153.9,546.6 154.2,541.6 154.5,546.6 154.8,535.5 155.1,537 155.4,535.6 155.7,536.8 156,537.8 156.6,534.9 157.2,533.5 157.8,529.4 158.4,524.5 159,519.5 159.6,517.2 160.2,511.2 160.8,508.4 161.4,505.2 162,502.3 162.6,499.8 163.2,496.9 163.8,493.7 164.4,490.3 165,489.8 165.6,488 166.2,486.1 166.8,485.6 167.4,482.5 168,482.3 168.6,481.5 169.2,482.7 169.8,486.8 170.4,487.5 171,487.9 171.6,493.1 172.2,492.1 172.8,492.4 173.4,493.4 174,493 174.6,496.4 175.2,496.1 175.8,498.7 176.4,500.8 177,501.9 177.6,500.8 178.2,506.8 178.8,501 179.4,505.8 180,505 180.6,506.2 181.2,504.7 181.8,505.1 182.4,508.7 183,504.1 183.6,508.7 184.2,505.8 184.8,505.5 185.4,510.1 186,509.2 186.6,515 187.2,507.4 187.8,511.8 188.4,511.9 189,512.2 189.6,511 190.2,508.5 190.8,513.4 191.4,513.2 192,512 192.6,511.2 193.2,512.5 193.8,511.2 194.4,509.8 195,506 195.6,508.5 196.2,503.4 196.8,505 197.4,500.9 198,501.5 198.6,502.5 199.2,498.9 199.8,500.4 200,497.7 200.8,496.5 201.6,493.5 202.4,492 203.2,488.6 204,485.4 204.8,482.1 205.6,479.3 206.4,477.2 207.2,472.9 208,469.7 208.8,467.5 209.6,465.1 210.4,461.6 211.2,458.5 212,455.7 212.8,452.7 213.6,450.3 214.4,447.8 215.2,444.3 216,441.7 216.8,439.2 217.6,436.7 218.4,435.1 219.2,432.3 220,431.2 220.8,428.9 221.6,427 222.4,426.5 223.2,424.1 224,424.4 224.8,423.4 225.6,422.8 226.4,422.2 227.2,421.3 228,421.7 228.8,421.8 229.6,420.5 230.4,421.4 231.2,421.5 232,421.6 232.8,422.1 233.6,422.1 234.4,422.3 235.2,423.1 236,422.7 236.8,423.2 237.6,423.5 238.4,423.7 239.2,424.1 240,425 240.8,424.6 241.6,426 242.4,425.1 243.2,425.3 244,426.2 244.8,426.4 245.6,427.6 246.4,427.8 247.2,427.8 248,428.5 248.8,429 249.6,430.3 250.4,430.1 251.2,430.6 252,431.1 252.8,431.5 253.6,431.9 254.4,432.1 255.2,432.9 256,433.4 256.8,433.4 257.6,434.4 258.4,434.5 259.2,434.9 260,436 260.8,436.7 261.6,437.4 262.4,437.5 263.2,437.8 264,438.5 264.8,439.2 265.6,439.7 266.4,440.3 267.2,440.5 268,441.3 268.8,441.2 269.6,441.9 270.4,442.3 271.2,442.6 272,443.1 272.8,443 273.6,443.9 274.4,443.8 275.2,444.2 276,444.3 276.8,444.9 277.6,444.9 278.4,445 279.2,445.5 280,445.1 280.8,445.4 281.6,445.3 282.4,445.3 283.2,445 284,444.5 284.8,444.7 285.6,444.6 286.4,444.8 287.2,444.5 288,444 288.8,443.7 289.6,442.3 290.4,442.6 291.2,442.1 292,442.2 292.8,441.9 293.6,441.5 294.4,441.1 295.2,440.7 296,440.2 296.8,439.7 297.6,439.7 298.4,439.1 299.2,439.1 300,438.3 300.8,438 301.6,437.5 302.4,437.7 303.2,436.9 304,436.2 304.8,436.4 305.6,436.2 306.4,436.1 307.2,435.7 308,435.9 308.8,435.4 309.6,435.3 310.4,435.1 311.2,434.7 312,434.4 312.8,433.7 313.6,433.7 314.4,433.3 315.2,433.3 316,432.6 316.8,432.7 317.6,432.1 318.4,432.2 319.2,432.1 320,431.9 320.8,431.2 321.6,431.5 322.4,430.3 323.2,430.7 324,430 324.8,430.3 325.6,429.8 326.4,430 327.2,429.6 328,430.1 328.8,430.2 329.6,429.7 330.4,429.7 331.2,429.4 332,429.1 332.8,428.9 333.6,428.5 334.4,428.5 335.2,428.9 336,428.4 336.8,428.6 337.6,428.1 338.4,428.9 339.2,428.6 340,428 340.8,428.5 341.6,428 342.4,428.1 343.2,427.7 344,427.5 344.8,428 345.6,427.8 346.4,427.7 347.2,427.8 348,427.4 348.8,427.2 349.6,427.5 350.4,426.8 351.2,427.3 352,427.7 352.8,427.2 353.6,427.9 354.4,427.2 355.2,427 356,427.5 356.8,427.3 357.6,427.6 358.4,427.2 359.2,427.6 360,427.5 360.8,427.6 361.6,427.8 362.4,427.4 363.2,427.6 364,428 364.8,428.1 365.6,428 366.4,427.5 367.2,427.9 368,427.8 368.8,427.9 369.6,427.6 370.4,427.5 371.2,428.4 372,428.4 372.8,427.8 373.6,428.2 374.4,428.4 375.2,428.3 376,428.7 376.8,428.5 377.6,428.2 378.4,428.6 379.2,429 380,428.7 380.8,429.3 381.6,429.5 382.4,429.5 383.2,429.7 384,429.6 384.8,430 385.6,429.8 386.4,429.4 387.2,430.1 388,430.9 388.8,431 389.6,430.6 390.4,431 391.2,431 392,431.1 392.8,431.5 393.6,432.1 394.4,432 395.2,432.1 396,431.7 396.8,433.2 397.6,432.4 398.4,433 399.2,433.4 400,433.4 400.8,433.7 401.6,433 402.4,433.6 403.2,433.9 404,433.9 404.8,434 405.6,435 406.4,434.6 407.2,435.5 408,435.7 408.8,435.6 409.6,435.5 410.4,436 411.2,436.2 412,436.5 412.8,436.7 413.6,437.2 414.4,437.3 415.2,437.6 416,437.9 416.8,438.5 417.6,438.9 418.4,438.6 419.2,438.7 420,438.9 420.8,439.4 421.6,439.5 422.4,439.5 423.2,439.6 424,440 424.8,440.3 425.6,440 426.4,440.3 427.2,439.7 428,440.2 428.8,440.6 429.6,440 430.4,440 431.2,440.6 432,439.9 432.8,440.4 433.6,441.1 434.4,440.6 435.2,441 436,441 436.8,440.3 437.6,440.4 438.4,440.6 439.2,440.8 440,440.9 440.8,440.7 441.6,440.6 442.4,440.1 443.2,440.7 444,440.1 444.8,440.5 445.6,440.5 446.4,439.6 447.2,440.5 448,439.7 448.8,439.9 449.6,439.8 450.4,439.9 451.2,439.5 452,439.4 452.8,439 453.6,438.3 454.4,438.3 455.2,438.3 456,438.2 456.8,437.7 457.6,437.2 458.4,436.8 459.2,436.9 460,437.5 460.8,436.3 461.6,435.9 462.4,436 463.2,435.8 464,435.3 464.8,434.4 465.6,434.5 466.4,434.2 467.2,434.3 468,433.6 468.8,433.5 469.6,432.9 470.4,432.8 471.2,433.3 472,432.6 472.8,432.2 473.6,431.6 474.4,431.2 475.2,431.6 476,431 476.8,430.9 477.6,430.5 478.4,430.1 479.2,429 480,429.6 480.8,429.5 481.6,428.6 482.4,428.1 483.2,427.9 484,427.3 484.8,426.4 485.6,426.4 486.4,426.1 487.2,426 488,425 488.8,424.8 489.6,424.5 490.4,424.3 491.2,424.4 492,423.6 492.8,423.3 493.6,422.5 494.4,423.1 495.2,421.8 496,422.5 496.8,422.2 497.6,421.8 498.4,421.3 499.2,421.6 500,421.2 500.8,421.6 501.6,420.2 502.4,421.1 503.2,420.2 504,421 504.8,420.8 505.6,421.1 506.4,420.5 507.2,420.5 508,420.1 508.8,420.6 509.6,420.8 510.4,420.6 511.2,420.4 512,420.6 512.8,420.8 513.6,420.7 514.4,420 515.2,420.4 516,420.3 516.8,419.7 517.6,420.7 518.4,420.6 519.2,420.2 520,420.7 520.8,420.6 521.6,420.4 522.4,420.6 523.2,420.4 524,420.3 524.8,420.8 525.6,420 526.4,421.1 527.2,420.6 528,420.4 528.8,420.6 529.6,420.2 530.4,420.4 531.2,421.1 532,420.6 532.8,420.5 533.6,420.5 534.4,420.8 535.2,420.8 536,420.4 536.8,420.9 537.6,420.5 538.4,420.5 539.2,420.7 540,420.3 540.8,420 541.6,420.5 542.4,420.8 543.2,420.4 544,420.8 544.8,420.9 545.6,420.4 546.4,420.5 547.2,420.5 548,420.7 548.8,420.7 549.6,420.6 550.4,420.9 551.2,420.6 552,420.6 552.8,420.3 553.6,420.5 554.4,420.9 555.2,420.7 556,420.6 556.8,420.5 557.6,420.3 558.4,420.3 559.2,420.9 560,420.6 560.8,420.6 561.6,421 562.4,420.5 563.2,420.5 564,421.1 564.8,420.9 565.6,420.2 566.4,420.7 567.2,420.5 568,420.6 568.8,420.7 569.6,420.3 570.4,420.6 571.2,421.4 572,420.9 572.8,420.8 573.6,421.3 574.4,420.6 575.2,421 576,421.5 576.8,421.1 577.6,421.2 578.4,421.1 579.2,421.3 580,421.4 580.8,421.2 581.6,421.3 582.4,421.4 583.2,420.8 584,421.7 584.8,422 585.6,421.7"/>
<polyline stroke="#8B0010" points="117,540.6 117.3,537.4 117.6,541.4 117.9,549 118.2,547.7 118.5,535.8 118.8,548 119.1,535.9 119.4,536.2 119.7,539 120,543.2 120.3,538.6 120.6,545.4 120.9,541.6 121.2,548.6 121.5,532.5 121.8,540.7 122.1,543.7 122.4,548.6 122.7,528.8 123,538.9 123.3,529.5 123.6,542.7 123.9,537.3 124.2,542.2 124.5,545.9 124.8,545.2 125.1,539.4 125.4,543.9 125.7,549 126,537.9 126.3,543.7 126.6,538 126.9,545.3 127.2,536.3 127.5,544 127.8,532.7 128.1,541.9 128.4,549 128.7,534.6 129,537.7 129.3,545.9 129.6,534.9 129.9,528.2 130.2,531.9 130.5,542.1 130.8,547 131.1,541.5 131.4,541.4 131.7,547 132,540.9 132.3,548.4 132.6,549 132.9,539.4 133.2,548.1 133.5,545 133.8,540.5 134.1,541.1 134.4,547.1 134.7,534.5 135,532.5 135.3,547.6 135.6,549 135.9,542.8 136.2,547 136.5,532.3 136.8,534 137.1,538.3 137.4,539.3 137.7,542.2 138,538.7 138.3,540.9 138.6,540.3 138.9,544.7 139.2,547.2 139.5,546.2 139.8,549 140.1,540.3 140.4,538.8 140.7,531 141,532.1 141.3,545.8 141.6,544 141.9,541.6 142.2,539.6 142.5,534.6 142.8,529.2 143.1,538.1 143.4,539.9 143.7,527.2 144,548.6 144.3,537.6 144.6,543.7 144.9,548.5 145.2,549 145.5,539.6 145.8,546.7 146.1,546.3 146.4,541.6 146.7,543.1 147,536.5 147.3,542.8 147.6,537.7 147.9,540.1 148.2,541.9 148.5,546.5 148.8,540 149.1,539.9 149.4,539 149.7,549 150,539 150.3,543.9 150.6,533 150.9,541.6 151.2,534.7 151.5,538.2 151.8,545.4 152.1,549 152.4,542.3 152.7,544.7 153,542.3 153.3,538.9 153.6,541.8 153.9,546.7 154.2,542.4 154.5,539.2 154.8,538.7 155.1,544 155.4,539.3 155.7,545.9 156,539.1 156.6,538.9 157.2,535.9 157.8,533.9 158.4,532.3 159,528.6 159.6,524.4 160.2,521.1 160.8,518.6 161.4,515.5 162,512 162.6,509.5 163.2,505.4 163.8,500.5 164.4,499.5 165,495.5 165.6,493.6 166.2,491.4 166.8,489.8 167.4,488 168,487.7 168.6,488.3 169.2,488.6 169.8,487.2 170.4,487 171,485.7 171.6,488.4 172.2,491 172.8,486 173.4,491 174,495.1 174.6,499.1 175.2,501.8 175.8,503.9 176.4,499.5 177,502.7 177.6,502.7 178.2,503.3 178.8,505.7 179.4,508 180,510.8 180.6,506.7 181.2,510.9 181.8,509.9 182.4,516.5 183,518.1 183.6,513.9 184.2,514.2 184.8,518.2 185.4,519.9 186,516.3 186.6,518.5 187.2,520.9 187.8,518.6 188.4,525.2 189,522.5 189.6,523.1 190.2,520.7 190.8,526.6 191.4,520.8 192,522.3 192.6,522.4 193.2,523 193.8,519.1 194.4,519.5 195,521.3 195.6,518.3 196.2,517 196.8,517.2 197.4,514.1 198,513.5 198.6,509.3 199.2,505.4 199.8,509.5 200,504.3 200.8,502.2 201.6,499.8 202.4,498.7 203.2,495.2 204,492.9 204.8,489 205.6,486.3 206.4,484 207.2,480.7 208,477.9 208.8,475.1 209.6,471.9 210.4,468.8 211.2,465.8 212,462.6 212.8,459.3 213.6,455.8 214.4,451.3 215.2,448.1 216,445 216.8,441.6 217.6,439.4 218.4,438.5 219.2,436.8 220,435.9 220.8,434.5 221.6,432.4 222.4,431.2 223.2,430.5 224,430.2 224.8,427.8 225.6,428.6 226.4,428.7 227.2,427.9 228,427.8 228.8,427.3 229.6,426.6 230.4,427.6 231.2,427.2 232,427.7 232.8,427.8 233.6,429 234.4,428.9 235.2,429.3 236,429.7 236.8,430 237.6,430.9 238.4,431.6 239.2,431.9 240,431.9 240.8,433.1 241.6,434.7 242.4,434.7 243.2,435.8 244,436 244.8,437.2 245.6,437.9 246.4,439.1 247.2,439.8 248,440.6 248.8,441.5 249.6,441.8 250.4,443.3 251.2,443.4 252,444.5 252.8,445.6 253.6,445.5 254.4,446.3 255.2,446.8 256,447.3 256.8,447.9 257.6,448.2 258.4,448.7 259.2,449.4 260,449.2 260.8,449.8 261.6,450.2 262.4,450.3 263.2,451.1 264,451.2 264.8,451.3 265.6,451.3 266.4,451.7 267.2,452.3 268,451.9 268.8,452.8 269.6,452.9 270.4,452.9 271.2,452.5 272,452.9 272.8,453.5 273.6,453.2 274.4,453.1 275.2,453.2 276,453.5 276.8,452.8 277.6,453.6 278.4,453.3 279.2,452.8 280,453.2 280.8,452 281.6,452.2 282.4,452.5 283.2,452.6 284,451.5 284.8,451.2 285.6,451.3 286.4,451.1 287.2,450.5 288,450.2 288.8,450.6 289.6,449.6 290.4,449.1 291.2,449.1 292,449.2 292.8,448.6 293.6,448 294.4,447.1 295.2,447 296,447.4 296.8,446.2 297.6,445.8 298.4,444.5 299.2,444.3 300,443.8 300.8,444 301.6,442.9 302.4,442.5 303.2,442 304,440.9 304.8,441.7 305.6,440.4 306.4,440.4 307.2,439.8 308,439.8 308.8,439.5 309.6,439.1 310.4,439.4 311.2,438.3 312,438.3 312.8,438.2 313.6,437.6 314.4,437.3 315.2,437.8 316,437.1 316.8,436.4 317.6,436.4 318.4,435.8 319.2,435.9 320,435.1 320.8,435.5 321.6,435.1 322.4,434.9 323.2,434.5 324,434.3 324.8,433.8 325.6,433.9 326.4,433.8 327.2,433.6 328,433 328.8,433.3 329.6,432.6 330.4,432.6 331.2,432.5 332,432.4 332.8,432.4 333.6,432.6 334.4,432.6 335.2,432.3 336,431.8 336.8,432.2 337.6,432.1 338.4,431.5 339.2,431.3 340,431.6 340.8,432.1 341.6,431.4 342.4,431.3 343.2,431.5 344,430.9 344.8,430.8 345.6,431.1 346.4,431.3 347.2,430.9 348,430.8 348.8,430.4 349.6,431.4 350.4,430.5 351.2,431.3 352,430.8 352.8,431.4 353.6,431.7 354.4,431.1 355.2,431.7 356,432 356.8,432.4 357.6,432.1 358.4,432.8 359.2,432.6 360,432.5 360.8,433.3 361.6,433.5 362.4,433.2 363.2,433.2 364,433.5 364.8,433.8 365.6,432.9 366.4,433.6 367.2,433.9 368,433 368.8,433.5 369.6,433.3 370.4,433.4 371.2,433.7 372,432.8 372.8,433.1 373.6,432.9 374.4,433.2 375.2,433.9 376,433 376.8,433.2 377.6,433.2 378.4,433.6 379.2,433.5 380,433.6 380.8,433.8 381.6,434.1 382.4,434 383.2,433.9 384,435.2 384.8,435.1 385.6,435.1 386.4,435.4 387.2,435.8 388,435.4 388.8,435.8 389.6,435.7 390.4,436.3 391.2,435.3 392,435.7 392.8,436.6 393.6,435.9 394.4,436.1 395.2,436 396,435.8 396.8,436.5 397.6,436.8 398.4,436.8 399.2,436.4 400,436.7 400.8,437.5 401.6,437.1 402.4,437 403.2,437.7 404,437.5 404.8,437.2 405.6,437.7 406.4,438.4 407.2,438.2 408,438.4 408.8,438.8 409.6,438.6 410.4,438.5 411.2,439.1 412,439.1 412.8,439.5 413.6,439.4 414.4,439.6 415.2,439.5 416,440.2 416.8,440.9 417.6,440.1 418.4,440.9 419.2,441 420,440.7 420.8,440.8 421.6,441.4 422.4,441.3 423.2,441.5 424,441.6 424.8,442.4 425.6,441.5 426.4,442.4 427.2,443 428,442.7 428.8,443.4 429.6,443 430.4,443.2 431.2,443.5 432,443.2 432.8,443.6 433.6,443.8 434.4,443.5 435.2,443.8 436,444 436.8,443.3 437.6,443.5 438.4,443.5 439.2,443 440,443.3 440.8,443.2 441.6,442.5 442.4,442.5 443.2,442 444,441.9 444.8,441.8 445.6,441.3 446.4,441.2 447.2,440.7 448,441 448.8,440.6 449.6,440 450.4,440.1 451.2,440.5 452,439.4 452.8,439.8 453.6,440 454.4,438.9 455.2,439 456,437.9 456.8,438.8 457.6,438.4 458.4,438.3 459.2,437.9 460,438 460.8,437.9 461.6,437.5 462.4,437.1 463.2,436.9 464,436.8 464.8,436.5 465.6,436.1 466.4,435.8 467.2,436 468,435.5 468.8,435.5 469.6,435 470.4,434.8 471.2,434.8 472,434.7 472.8,435.1 473.6,434.2 474.4,434.3 475.2,433.9 476,433.6 476.8,433.2 477.6,433.1 478.4,432.8 479.2,431.9 480,432.1 480.8,431.5 481.6,430.7 482.4,430.6 483.2,430.6 484,430.3 484.8,429.5 485.6,429.5 486.4,429 487.2,427.9 488,427.6 488.8,427.6 489.6,426.9 490.4,426.6 491.2,426.5 492,426 492.8,425.5 493.6,425 494.4,425.8 495.2,424.5 496,424.5 496.8,424.8 497.6,424.2 498.4,423.8 499.2,423.5 500,424.1 500.8,423.8 501.6,422.9 502.4,422.9 503.2,423.5 504,423.7 504.8,422.9 505.6,423.3 506.4,422.5 507.2,422.4 508,422.4 508.8,422.9 509.6,422.8 510.4,422.9 511.2,422.1 512,423.1 512.8,422.4 513.6,423.3 514.4,422.5 515.2,421.8 516,422.3 516.8,422 517.6,422.7 518.4,422.3 519.2,422.5 520,421.9 520.8,421.8 521.6,422.1 522.4,422 523.2,421.7 524,422.1 524.8,422.2 525.6,421.7 526.4,421.6 527.2,421.6 528,421.8 528.8,421.6 529.6,421.7 530.4,421.9 531.2,421.4 532,421.4 532.8,421.3 533.6,421.8 534.4,421.3 535.2,421.3 536,421.1 536.8,421.4 537.6,421.3 538.4,420.7 539.2,421.3 540,421.1 540.8,421.4 541.6,421.1 542.4,420.9 543.2,420.6 544,421.2 544.8,421.2 545.6,420.5 546.4,420.8 547.2,420.9 548,420.7 548.8,420.9 549.6,420.6 550.4,420.5 551.2,421.1 552,420.2 552.8,420.9 553.6,420.5 554.4,420.7 555.2,420.5 556,420.8 556.8,420.5 557.6,420.8 558.4,420.3 559.2,420.4 560,420.7 560.8,421 561.6,420.5 562.4,421.4 563.2,420.7 564,421.1 564.8,420.3 565.6,420.6 566.4,420.6 567.2,420.6 568,420.5 568.8,420.9 569.6,420.8 570.4,421.5 571.2,421.1 572,421.2 572.8,420.5 573.6,421.6 574.4,421.7 575.2,420.9 576,421 576.8,421.1 577.6,421.8 578.4,421 579.2,421.2 580,421.1 580.8,421.7 581.6,421.9 582.4,421.4 583.2,422.1 584,421.9 584.8,421.6 585.6,422.1"/>
</g>
<g stroke="#555" stroke-width="1.2" fill="none">
<line x1="355.5" y1="224.6" x2="345.6" y2="50"/>
<line x1="521.4" y1="244.9" x2="474.6" y2="69"/>
</g>
<polygon points="345.4,44.2 341.2,52.8 350.1,52.6" fill="#000"/>
<polygon points="473.2,63.8 471.6,72.9 480.1,70.5" fill="#000"/>
<circle cx="346.4" cy="67.9" r="5.3" fill="#000"/>
<circle cx="482.9" cy="105.1" r="5.3" fill="#000"/>
<circle cx="355.3" cy="198.5" r="5.3" fill="#FF33CC" stroke="#000" stroke-width="1.6"/>
<circle cx="515.0" cy="218.6" r="5.3" fill="#FF33CC" stroke="#000" stroke-width="1.6"/>
<polygon points="619,113.8 643.9,137.8 631.3,137.8 631.3,241.4 607.1,241.4 607.1,137.8 594.5,137.8" fill="#fff" stroke="#000" stroke-width="1.5" stroke-linejoin="miter"/>
<g stroke="#000" fill="none">
<line x1="117" y1="18.5" x2="117" y2="266" stroke-width="2"/>
<line x1="116" y1="265" x2="568" y2="265" stroke-width="2"/>
<line x1="110" y1="19.5" x2="622" y2="19.5" stroke-width="1.1" stroke="#333"/>
<line x1="621.8" y1="19" x2="621.8" y2="76" stroke-width="1.1" stroke="#333"/>
<line x1="622" y1="241.4" x2="622" y2="245.3" stroke-width="1.2" stroke="#333"/>
<path d="M110,19H117M110,64.8H117M110,110.5H117M110,156.2H117M110,202H117M110,247.8H117M113,51H117M113,42.9H117M113,37.2H117M113,32.8H117M113,29.1H117M113,26.1H117M113,23.4H117M113,21.1H117M113,96.7H117M113,88.7H117M113,83H117M113,78.5H117M113,74.9H117M113,71.8H117M113,69.2H117M113,66.8H117M113,142.5H117M113,134.4H117M113,128.7H117M113,124.3H117M113,120.6H117M113,117.6H117M113,114.9H117M113,112.6H117M113,188.2H117M113,180.2H117M113,174.5H117M113,170H117M113,166.4H117M113,163.3H117M113,160.7H117M113,158.3H117M113,234H117M113,225.9H117M113,220.2H117M113,215.8H117M113,212.1H117M113,209.1H117M113,206.4H117M113,204.1H117M113,261.5H117M113,257.9H117M113,254.8H117M113,252.2H117M113,249.8H117" stroke-width="1.5"/>
<path d="M145.6,265V272M193.2,265V269M240.8,265V272M288.5,265V269M336.1,265V272M383.7,265V269M431.3,265V272M478.9,265V269M526.6,265V272" stroke-width="1.5"/>
<line x1="117" y1="301" x2="117" y2="549" stroke-width="2"/>
<line x1="110" y1="548" x2="623" y2="548" stroke-width="2"/>
<line x1="110" y1="301.5" x2="196" y2="301.5" stroke-width="1.3" stroke="#222"/>
<line x1="254" y1="301.5" x2="622" y2="301.5" stroke-width="1.3" stroke="#222"/>
<line x1="622" y1="301" x2="622" y2="309" stroke-width="1.3" stroke="#222"/>
<line x1="622" y1="536" x2="622" y2="548" stroke-width="1.3" stroke="#222"/>
<path d="M110,301.5H117M110,350.8H117M110,400H117M110,449.2H117M110,498.5H117M110,547.8H117M145.6,548V541M193.2,548V544M240.8,548V541M288.5,548V544M336.1,548V541M383.7,548V544M431.3,548V541M478.9,548V544M526.6,548V541M574.2,548V544M621.8,548V541" stroke-width="1.5"/>
</g>
<rect x="162.8" y="364.8" width="3.3" height="19.2" fill="#000"/><polygon points="158.9,383 169.9,383 164.4,393" fill="#000"/>
<rect x="224.5" y="322.8" width="3.3" height="19.2" fill="#000"/><polygon points="220.7,341 231.7,341 226.2,351" fill="#000"/>
<rect x="500.6" y="362.4" width="3.3" height="20.7" fill="#000"/><polygon points="496.7,382.1 507.7,382.1 502.2,392.1" fill="#000"/>
<path d="M350.2,430 C340,428.5 328,423 316.7,413.2 S298,390 290.2,374.3 L288,369" fill="none" stroke="#000" stroke-width="2" stroke-dasharray="5,3"/>
<path d="M350.2,430 C352,410 352.5,385 349.5,366" fill="none" stroke="#000" stroke-width="2" stroke-dasharray="5,3"/>
<polygon points="285.6,364.9 283.5,375 292.5,371" fill="#000"/>
<polygon points="347.1,358.7 343.5,368 352.5,367.5" fill="#000"/>
<circle cx="350.2" cy="430" r="5.3" fill="#A00020" stroke="#000" stroke-width="1.2"/>
<g style="font-family:Liberation Serif,serif">
<text x="105.6" y="30.4" font-size="32" text-anchor="end">10<tspan dx="-1.2" dy="-16.0" font-size="17">0</tspan></text>
<text x="105.6" y="76.2" font-size="32" text-anchor="end">10<tspan dx="-1.2" dy="-16.0" font-size="17">-1</tspan></text>
<text x="105.6" y="121.9" font-size="32" text-anchor="end">10<tspan dx="-1.2" dy="-16.0" font-size="17">-2</tspan></text>
<text x="105.6" y="167.7" font-size="32" text-anchor="end">10<tspan dx="-1.2" dy="-16.0" font-size="17">-3</tspan></text>
<text x="105.6" y="213.4" font-size="32" text-anchor="end">10<tspan dx="-1.2" dy="-16.0" font-size="17">-4</tspan></text>
<text x="105.6" y="259.1" font-size="32" text-anchor="end">10<tspan dx="-1.2" dy="-16.0" font-size="17">-5</tspan></text>
<text x="105.6" y="312.9" font-size="32" text-anchor="end">10<tspan dx="-1.2" dy="-16.0" font-size="17">3</tspan></text>
<text x="105.6" y="362.1" font-size="32" text-anchor="end">10<tspan dx="-1.2" dy="-16.0" font-size="17">2</tspan></text>
<text x="105.6" y="411.4" font-size="32" text-anchor="end">10<tspan dx="-1.2" dy="-16.0" font-size="17">1</tspan></text>
<text x="105.6" y="460.6" font-size="32" text-anchor="end">10<tspan dx="-1.2" dy="-16.0" font-size="17">0</tspan></text>
<text x="105.6" y="509.9" font-size="32" text-anchor="end">10<tspan dx="-1.2" dy="-16.0" font-size="17">-1</tspan></text>
<text x="105.6" y="559.1" font-size="32" text-anchor="end">10<tspan dx="-1.2" dy="-16.0" font-size="17">-2</tspan></text>
<text x="145.6" y="577.6" font-size="31" text-anchor="middle" fill="#000" font-style="normal" >350</text>
<text x="240.8" y="577.6" font-size="31" text-anchor="middle" fill="#000" font-style="normal" >400</text>
<text x="336.1" y="577.6" font-size="31" text-anchor="middle" fill="#000" font-style="normal" >450</text>
<text x="431.3" y="577.6" font-size="31" text-anchor="middle" fill="#000" font-style="normal" >500</text>
<text x="526.6" y="577.6" font-size="31" text-anchor="middle" fill="#000" font-style="normal" >550</text>
<text x="621.8" y="577.6" font-size="31" text-anchor="middle" fill="#000" font-style="normal" >600</text>
<text x="239" y="630.8" font-size="40" text-anchor="start" fill="#000" font-style="normal" textLength="290" lengthAdjust="spacing">Wavelength (nm)</text>
<text transform="translate(30.8,407.8) rotate(-90)" font-size="41" textLength="300" lengthAdjust="spacing">PL intensity (a.u.)</text>
<text x="148.4" y="54.4" font-size="21.5" text-anchor="start" fill="#000" font-style="normal" textLength="12.6" lengthAdjust="spacingAndGlyphs">λ</text>
<text x="159.8" y="63.6" font-size="14.5" text-anchor="start" fill="#000" font-style="normal" >ex</text>
<text x="173.5" y="54.4" font-size="23" text-anchor="start" fill="#000" font-style="normal" textLength="81" lengthAdjust="spacingAndGlyphs">=405nm</text>
<text x="163.3" y="92.2" font-size="23" text-anchor="start" fill="#000" font-style="normal" textLength="77" lengthAdjust="spacingAndGlyphs">T=300K</text>
<text x="155.5" y="179.7" font-size="28" text-anchor="start" fill="#7f7f7f" font-style="italic" textLength="81" lengthAdjust="spacingAndGlyphs">Optical</text>
<text x="163.5" y="212.7" font-size="28" text-anchor="start" fill="#7f7f7f" font-style="italic" textLength="63" lengthAdjust="spacingAndGlyphs">Filter</text>
<text x="584" y="104.2" font-size="23.5" text-anchor="start" fill="#000" font-style="normal" textLength="76" lengthAdjust="spacingAndGlyphs">100mW</text>
<text x="579.6" y="274" font-size="23.5" text-anchor="start" fill="#000" font-style="normal" textLength="82.5" lengthAdjust="spacingAndGlyphs">0.01mW</text>
<text x="224.1" y="313.1" font-size="24.5" text-anchor="middle" fill="#000" font-style="normal" >391</text>
<text x="164.8" y="358.1" font-size="24.5" text-anchor="middle" fill="#000" font-style="normal" >358</text>
<text x="292.4" y="353" font-size="24.5" text-anchor="middle" fill="#000" font-style="normal" >427</text>
<text x="347.7" y="346.7" font-size="24.5" text-anchor="middle" fill="#000" font-style="normal" >455</text>
<text x="502.2" y="355.6" font-size="24.5" text-anchor="middle" fill="#000" font-style="normal" >537</text>
<text x="270.2" y="517" font-size="21.5" text-anchor="start" fill="#000" font-style="normal" textLength="12.6" lengthAdjust="spacingAndGlyphs">λ</text>
<text x="283" y="526" font-size="14" text-anchor="start" fill="#000" font-style="normal" >ex</text>
<text x="296.3" y="517" font-size="23" text-anchor="start" fill="#000" font-style="normal" textLength="192.5" lengthAdjust="spacingAndGlyphs">=325nm, P=0.1mW</text>
<text x="621.8" y="333.4" font-size="24.4" text-anchor="middle" fill="#000000" font-style="normal" >10K</text>
<text x="621.8" y="352.8" font-size="24.4" text-anchor="middle" fill="#FF0000" font-style="normal" >25K</text>
<text x="621.8" y="372.2" font-size="24.4" text-anchor="middle" fill="#00FF00" font-style="normal" >50K</text>
<text x="621.8" y="391.6" font-size="24.4" text-anchor="middle" fill="#0000FF" font-style="normal" >75K</text>
<text x="621.8" y="411" font-size="24.4" text-anchor="middle" fill="#00FFFF" font-style="normal" >100K</text>
<text x="621.8" y="430.4" font-size="24.4" text-anchor="middle" fill="#FF33CC" font-style="normal" >125K</text>
<text x="621.8" y="449.8" font-size="24.4" text-anchor="middle" fill="#FFFF00" font-style="normal" >150K</text>
<text x="621.8" y="469.2" font-size="24.4" text-anchor="middle" fill="#C8961E" font-style="normal" >175K</text>
<text x="621.8" y="488.6" font-size="24.4" text-anchor="middle" fill="#1C2A6E" font-style="normal" >200K</text>
<text x="621.8" y="508" font-size="24.4" text-anchor="middle" fill="#800080" font-style="normal" >250K</text>
<text x="621.8" y="527.4" font-size="24.4" text-anchor="middle" fill="#A01030" font-style="normal" >275K</text>
</g>
</svg>
</body></html>
